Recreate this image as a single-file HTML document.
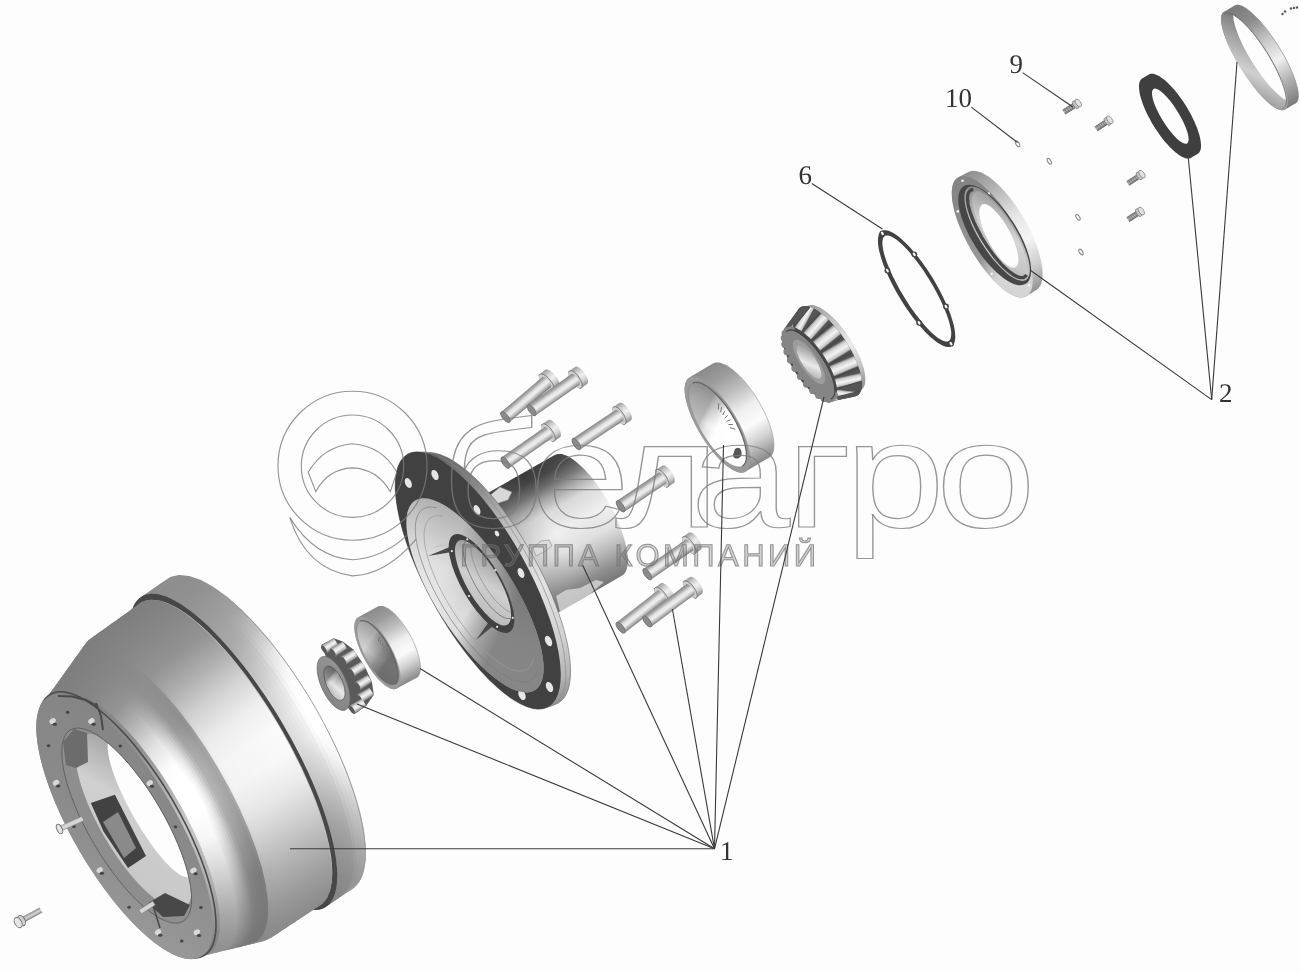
<!DOCTYPE html>
<html lang="ru"><head><meta charset="utf-8"><title>Ступица</title>
<style>html,body{margin:0;padding:0;background:#fdfefd}svg{display:block;will-change:transform}text{text-rendering:geometricPrecision}</style></head>
<body><svg width="1300" height="972" viewBox="0 0 1300 972">
<defs><linearGradient id="dR0" gradientUnits="userSpaceOnUse" x1="145.4" y1="593.9" x2="328.6" y2="905"><stop offset="0.00" stop-color="#8c8c8c"/><stop offset="0.08" stop-color="#929292"/><stop offset="0.17" stop-color="#9e9e9e"/><stop offset="0.25" stop-color="#aaaaaa"/><stop offset="0.33" stop-color="#bfbfbf"/><stop offset="0.42" stop-color="#d5d5d5"/><stop offset="0.50" stop-color="#dedede"/><stop offset="0.58" stop-color="#dbdbdb"/><stop offset="0.67" stop-color="#c8c8c8"/><stop offset="0.75" stop-color="#b1b1b1"/><stop offset="0.83" stop-color="#9d9d9d"/><stop offset="0.92" stop-color="#909090"/><stop offset="1.00" stop-color="#838383"/></linearGradient><linearGradient id="dR1" gradientUnits="userSpaceOnUse" x1="148.3" y1="591.9" x2="331.5" y2="903"><stop offset="0.00" stop-color="#8c8c8c"/><stop offset="0.08" stop-color="#929292"/><stop offset="0.17" stop-color="#9f9f9f"/><stop offset="0.25" stop-color="#acacac"/><stop offset="0.33" stop-color="#c3c3c3"/><stop offset="0.42" stop-color="#dadada"/><stop offset="0.50" stop-color="#e2e2e2"/><stop offset="0.58" stop-color="#dfdfdf"/><stop offset="0.67" stop-color="#cccccc"/><stop offset="0.75" stop-color="#b5b5b5"/><stop offset="0.83" stop-color="#a0a0a0"/><stop offset="0.92" stop-color="#919191"/><stop offset="1.00" stop-color="#848484"/></linearGradient><linearGradient id="dR2" gradientUnits="userSpaceOnUse" x1="151.2" y1="590" x2="334.4" y2="901"><stop offset="0.00" stop-color="#8c8c8c"/><stop offset="0.08" stop-color="#929292"/><stop offset="0.17" stop-color="#9f9f9f"/><stop offset="0.25" stop-color="#aeaeae"/><stop offset="0.33" stop-color="#c6c6c6"/><stop offset="0.42" stop-color="#dedede"/><stop offset="0.50" stop-color="#e6e6e6"/><stop offset="0.58" stop-color="#e4e4e4"/><stop offset="0.67" stop-color="#d0d0d0"/><stop offset="0.75" stop-color="#b8b8b8"/><stop offset="0.83" stop-color="#a3a3a3"/><stop offset="0.92" stop-color="#939393"/><stop offset="1.00" stop-color="#868686"/></linearGradient><linearGradient id="dR3" gradientUnits="userSpaceOnUse" x1="154.1" y1="588" x2="337.3" y2="899"><stop offset="0.00" stop-color="#8c8c8c"/><stop offset="0.08" stop-color="#929292"/><stop offset="0.17" stop-color="#9f9f9f"/><stop offset="0.25" stop-color="#b0b0b0"/><stop offset="0.33" stop-color="#cacaca"/><stop offset="0.42" stop-color="#e2e2e2"/><stop offset="0.50" stop-color="#ebebeb"/><stop offset="0.58" stop-color="#e8e8e8"/><stop offset="0.67" stop-color="#d4d4d4"/><stop offset="0.75" stop-color="#bcbcbc"/><stop offset="0.83" stop-color="#a6a6a6"/><stop offset="0.92" stop-color="#959595"/><stop offset="1.00" stop-color="#878787"/></linearGradient><linearGradient id="dR4" gradientUnits="userSpaceOnUse" x1="156.9" y1="586" x2="340.2" y2="897.1"><stop offset="0.00" stop-color="#8c8c8c"/><stop offset="0.08" stop-color="#929292"/><stop offset="0.17" stop-color="#a0a0a0"/><stop offset="0.25" stop-color="#b3b3b3"/><stop offset="0.33" stop-color="#cfcfcf"/><stop offset="0.42" stop-color="#e8e8e8"/><stop offset="0.50" stop-color="#f1f1f1"/><stop offset="0.58" stop-color="#eeeeee"/><stop offset="0.67" stop-color="#d9d9d9"/><stop offset="0.75" stop-color="#c1c1c1"/><stop offset="0.83" stop-color="#aaaaaa"/><stop offset="0.92" stop-color="#989898"/><stop offset="1.00" stop-color="#898989"/></linearGradient><linearGradient id="dR5" gradientUnits="userSpaceOnUse" x1="159.8" y1="584" x2="343" y2="895.1"><stop offset="0.00" stop-color="#8c8c8c"/><stop offset="0.08" stop-color="#929292"/><stop offset="0.17" stop-color="#a1a1a1"/><stop offset="0.25" stop-color="#b9b9b9"/><stop offset="0.33" stop-color="#dadada"/><stop offset="0.42" stop-color="#f3f3f3"/><stop offset="0.50" stop-color="#fcfcfc"/><stop offset="0.58" stop-color="#f9f9f9"/><stop offset="0.67" stop-color="#e4e4e4"/><stop offset="0.75" stop-color="#cccccc"/><stop offset="0.83" stop-color="#b5b5b5"/><stop offset="0.92" stop-color="#9f9f9f"/><stop offset="1.00" stop-color="#8e8e8e"/></linearGradient><linearGradient id="dR6" gradientUnits="userSpaceOnUse" x1="162.7" y1="582" x2="345.9" y2="893.1"><stop offset="0.00" stop-color="#8c8c8c"/><stop offset="0.08" stop-color="#929292"/><stop offset="0.17" stop-color="#a2a2a2"/><stop offset="0.25" stop-color="#bebebe"/><stop offset="0.33" stop-color="#e2e2e2"/><stop offset="0.42" stop-color="#fbfbfb"/><stop offset="0.50" stop-color="#ffffff"/><stop offset="0.58" stop-color="#ffffff"/><stop offset="0.67" stop-color="#ededed"/><stop offset="0.75" stop-color="#d4d4d4"/><stop offset="0.83" stop-color="#bdbdbd"/><stop offset="0.92" stop-color="#a5a5a5"/><stop offset="1.00" stop-color="#919191"/></linearGradient><linearGradient id="dR7" gradientUnits="userSpaceOnUse" x1="165.6" y1="580.1" x2="348.8" y2="891.1"><stop offset="0.00" stop-color="#8c8c8c"/><stop offset="0.08" stop-color="#929292"/><stop offset="0.17" stop-color="#a2a2a2"/><stop offset="0.25" stop-color="#c1c1c1"/><stop offset="0.33" stop-color="#e7e7e7"/><stop offset="0.42" stop-color="#ffffff"/><stop offset="0.50" stop-color="#ffffff"/><stop offset="0.58" stop-color="#ffffff"/><stop offset="0.67" stop-color="#f2f2f2"/><stop offset="0.75" stop-color="#dadada"/><stop offset="0.83" stop-color="#c2c2c2"/><stop offset="0.92" stop-color="#a8a8a8"/><stop offset="1.00" stop-color="#949494"/></linearGradient><linearGradient id="dR8" gradientUnits="userSpaceOnUse" x1="168.5" y1="578.1" x2="351.7" y2="889.1"><stop offset="0.00" stop-color="#8c8c8c"/><stop offset="0.08" stop-color="#929292"/><stop offset="0.17" stop-color="#a3a3a3"/><stop offset="0.25" stop-color="#c4c4c4"/><stop offset="0.33" stop-color="#ececec"/><stop offset="0.42" stop-color="#ffffff"/><stop offset="0.50" stop-color="#ffffff"/><stop offset="0.58" stop-color="#ffffff"/><stop offset="0.67" stop-color="#f7f7f7"/><stop offset="0.75" stop-color="#dfdfdf"/><stop offset="0.83" stop-color="#c7c7c7"/><stop offset="0.92" stop-color="#acacac"/><stop offset="1.00" stop-color="#969696"/></linearGradient><linearGradient id="dB0" gradientUnits="userSpaceOnUse" x1="54.6" y1="689.3" x2="210.1" y2="953.4"><stop offset="0.00" stop-color="#7e7e7e"/><stop offset="0.08" stop-color="#868686"/><stop offset="0.17" stop-color="#949494"/><stop offset="0.25" stop-color="#b7b7b7"/><stop offset="0.33" stop-color="#dedede"/><stop offset="0.42" stop-color="#fbfbfb"/><stop offset="0.50" stop-color="#ffffff"/><stop offset="0.58" stop-color="#ffffff"/><stop offset="0.67" stop-color="#f4f4f4"/><stop offset="0.75" stop-color="#dddddd"/><stop offset="0.83" stop-color="#c3c3c3"/><stop offset="0.92" stop-color="#a5a5a5"/><stop offset="1.00" stop-color="#8f8f8f"/></linearGradient><linearGradient id="dB1" gradientUnits="userSpaceOnUse" x1="56.2" y1="687.1" x2="212.7" y2="952.7"><stop offset="0.00" stop-color="#7e7e7e"/><stop offset="0.08" stop-color="#868686"/><stop offset="0.17" stop-color="#949494"/><stop offset="0.25" stop-color="#b7b7b7"/><stop offset="0.33" stop-color="#dfdfdf"/><stop offset="0.42" stop-color="#fcfcfc"/><stop offset="0.50" stop-color="#ffffff"/><stop offset="0.58" stop-color="#ffffff"/><stop offset="0.67" stop-color="#f5f5f5"/><stop offset="0.75" stop-color="#dedede"/><stop offset="0.83" stop-color="#c3c3c3"/><stop offset="0.92" stop-color="#a5a5a5"/><stop offset="1.00" stop-color="#8f8f8f"/></linearGradient><linearGradient id="dB2" gradientUnits="userSpaceOnUse" x1="57.8" y1="684.9" x2="215.2" y2="952.1"><stop offset="0.00" stop-color="#7e7e7e"/><stop offset="0.08" stop-color="#868686"/><stop offset="0.17" stop-color="#949494"/><stop offset="0.25" stop-color="#b8b8b8"/><stop offset="0.33" stop-color="#e0e0e0"/><stop offset="0.42" stop-color="#fcfcfc"/><stop offset="0.50" stop-color="#ffffff"/><stop offset="0.58" stop-color="#ffffff"/><stop offset="0.67" stop-color="#f6f6f6"/><stop offset="0.75" stop-color="#dedede"/><stop offset="0.83" stop-color="#c4c4c4"/><stop offset="0.92" stop-color="#a6a6a6"/><stop offset="1.00" stop-color="#909090"/></linearGradient><linearGradient id="dB3" gradientUnits="userSpaceOnUse" x1="59.4" y1="682.7" x2="217.7" y2="951.5"><stop offset="0.00" stop-color="#7e7e7e"/><stop offset="0.08" stop-color="#868686"/><stop offset="0.17" stop-color="#949494"/><stop offset="0.25" stop-color="#b8b8b8"/><stop offset="0.33" stop-color="#e1e1e1"/><stop offset="0.42" stop-color="#fdfdfd"/><stop offset="0.50" stop-color="#ffffff"/><stop offset="0.58" stop-color="#ffffff"/><stop offset="0.67" stop-color="#f7f7f7"/><stop offset="0.75" stop-color="#dfdfdf"/><stop offset="0.83" stop-color="#c5c5c5"/><stop offset="0.92" stop-color="#a6a6a6"/><stop offset="1.00" stop-color="#909090"/></linearGradient><linearGradient id="dB4" gradientUnits="userSpaceOnUse" x1="61" y1="680.5" x2="220.3" y2="950.9"><stop offset="0.00" stop-color="#7e7e7e"/><stop offset="0.08" stop-color="#868686"/><stop offset="0.17" stop-color="#949494"/><stop offset="0.25" stop-color="#b8b8b8"/><stop offset="0.33" stop-color="#e1e1e1"/><stop offset="0.42" stop-color="#fefefe"/><stop offset="0.50" stop-color="#ffffff"/><stop offset="0.58" stop-color="#ffffff"/><stop offset="0.67" stop-color="#f7f7f7"/><stop offset="0.75" stop-color="#e0e0e0"/><stop offset="0.83" stop-color="#c5c5c5"/><stop offset="0.92" stop-color="#a7a7a7"/><stop offset="1.00" stop-color="#909090"/></linearGradient><linearGradient id="dB5" gradientUnits="userSpaceOnUse" x1="62.5" y1="678.2" x2="222.8" y2="950.3"><stop offset="0.00" stop-color="#7e7e7e"/><stop offset="0.08" stop-color="#868686"/><stop offset="0.17" stop-color="#949494"/><stop offset="0.25" stop-color="#b9b9b9"/><stop offset="0.33" stop-color="#e2e2e2"/><stop offset="0.42" stop-color="#ffffff"/><stop offset="0.50" stop-color="#ffffff"/><stop offset="0.58" stop-color="#ffffff"/><stop offset="0.67" stop-color="#f8f8f8"/><stop offset="0.75" stop-color="#e1e1e1"/><stop offset="0.83" stop-color="#c6c6c6"/><stop offset="0.92" stop-color="#a7a7a7"/><stop offset="1.00" stop-color="#919191"/></linearGradient><linearGradient id="dB6" gradientUnits="userSpaceOnUse" x1="64.1" y1="676" x2="225.3" y2="949.7"><stop offset="0.00" stop-color="#7e7e7e"/><stop offset="0.08" stop-color="#868686"/><stop offset="0.17" stop-color="#949494"/><stop offset="0.25" stop-color="#b9b9b9"/><stop offset="0.33" stop-color="#e2e2e2"/><stop offset="0.42" stop-color="#fefefe"/><stop offset="0.50" stop-color="#ffffff"/><stop offset="0.58" stop-color="#ffffff"/><stop offset="0.67" stop-color="#f8f8f8"/><stop offset="0.75" stop-color="#e1e1e1"/><stop offset="0.83" stop-color="#c6c6c6"/><stop offset="0.92" stop-color="#a7a7a7"/><stop offset="1.00" stop-color="#919191"/></linearGradient><linearGradient id="dB7" gradientUnits="userSpaceOnUse" x1="65.7" y1="673.8" x2="227.8" y2="949"><stop offset="0.00" stop-color="#7e7e7e"/><stop offset="0.08" stop-color="#868686"/><stop offset="0.17" stop-color="#939393"/><stop offset="0.25" stop-color="#b4b4b4"/><stop offset="0.33" stop-color="#dadada"/><stop offset="0.42" stop-color="#f6f6f6"/><stop offset="0.50" stop-color="#ffffff"/><stop offset="0.58" stop-color="#ffffff"/><stop offset="0.67" stop-color="#f0f0f0"/><stop offset="0.75" stop-color="#d9d9d9"/><stop offset="0.83" stop-color="#bebebe"/><stop offset="0.92" stop-color="#a2a2a2"/><stop offset="1.00" stop-color="#8d8d8d"/></linearGradient><linearGradient id="dB8" gradientUnits="userSpaceOnUse" x1="67.3" y1="671.6" x2="230.4" y2="948.4"><stop offset="0.00" stop-color="#7e7e7e"/><stop offset="0.08" stop-color="#868686"/><stop offset="0.17" stop-color="#939393"/><stop offset="0.25" stop-color="#b0b0b0"/><stop offset="0.33" stop-color="#d2d2d2"/><stop offset="0.42" stop-color="#eeeeee"/><stop offset="0.50" stop-color="#f8f8f8"/><stop offset="0.58" stop-color="#f7f7f7"/><stop offset="0.67" stop-color="#e8e8e8"/><stop offset="0.75" stop-color="#d1d1d1"/><stop offset="0.83" stop-color="#b7b7b7"/><stop offset="0.92" stop-color="#9c9c9c"/><stop offset="1.00" stop-color="#898989"/></linearGradient><linearGradient id="dB9" gradientUnits="userSpaceOnUse" x1="68.9" y1="669.4" x2="232.9" y2="947.8"><stop offset="0.00" stop-color="#7e7e7e"/><stop offset="0.08" stop-color="#868686"/><stop offset="0.17" stop-color="#929292"/><stop offset="0.25" stop-color="#ababab"/><stop offset="0.33" stop-color="#cacaca"/><stop offset="0.42" stop-color="#e5e5e5"/><stop offset="0.50" stop-color="#eeeeee"/><stop offset="0.58" stop-color="#ededed"/><stop offset="0.67" stop-color="#dedede"/><stop offset="0.75" stop-color="#c7c7c7"/><stop offset="0.83" stop-color="#afafaf"/><stop offset="0.92" stop-color="#979797"/><stop offset="1.00" stop-color="#868686"/></linearGradient><linearGradient id="dB10" gradientUnits="userSpaceOnUse" x1="70.5" y1="667.2" x2="235.4" y2="947.2"><stop offset="0.00" stop-color="#7e7e7e"/><stop offset="0.08" stop-color="#868686"/><stop offset="0.17" stop-color="#919191"/><stop offset="0.25" stop-color="#a5a5a5"/><stop offset="0.33" stop-color="#bebebe"/><stop offset="0.42" stop-color="#d7d7d7"/><stop offset="0.50" stop-color="#e0e0e0"/><stop offset="0.58" stop-color="#dfdfdf"/><stop offset="0.67" stop-color="#d1d1d1"/><stop offset="0.75" stop-color="#bcbcbc"/><stop offset="0.83" stop-color="#a5a5a5"/><stop offset="0.92" stop-color="#919191"/><stop offset="1.00" stop-color="#828282"/></linearGradient><linearGradient id="dB11" gradientUnits="userSpaceOnUse" x1="72.1" y1="665" x2="238" y2="946.6"><stop offset="0.00" stop-color="#7e7e7e"/><stop offset="0.08" stop-color="#868686"/><stop offset="0.17" stop-color="#909090"/><stop offset="0.25" stop-color="#9f9f9f"/><stop offset="0.33" stop-color="#b1b1b1"/><stop offset="0.42" stop-color="#c7c7c7"/><stop offset="0.50" stop-color="#cfcfcf"/><stop offset="0.58" stop-color="#cfcfcf"/><stop offset="0.67" stop-color="#c2c2c2"/><stop offset="0.75" stop-color="#aeaeae"/><stop offset="0.83" stop-color="#999999"/><stop offset="0.92" stop-color="#8b8b8b"/><stop offset="1.00" stop-color="#7e7e7e"/></linearGradient><linearGradient id="dB12" gradientUnits="userSpaceOnUse" x1="73.7" y1="662.7" x2="240.5" y2="946"><stop offset="0.00" stop-color="#7e7e7e"/><stop offset="0.08" stop-color="#868686"/><stop offset="0.17" stop-color="#8f8f8f"/><stop offset="0.25" stop-color="#989898"/><stop offset="0.33" stop-color="#a3a3a3"/><stop offset="0.42" stop-color="#b7b7b7"/><stop offset="0.50" stop-color="#bfbfbf"/><stop offset="0.58" stop-color="#bebebe"/><stop offset="0.67" stop-color="#b2b2b2"/><stop offset="0.75" stop-color="#a0a0a0"/><stop offset="0.83" stop-color="#8d8d8d"/><stop offset="0.92" stop-color="#848484"/><stop offset="1.00" stop-color="#7a7a7a"/></linearGradient><linearGradient id="dB13" gradientUnits="userSpaceOnUse" x1="75.3" y1="660.5" x2="243" y2="945.4"><stop offset="0.00" stop-color="#7e7e7e"/><stop offset="0.08" stop-color="#868686"/><stop offset="0.17" stop-color="#8e8e8e"/><stop offset="0.25" stop-color="#939393"/><stop offset="0.33" stop-color="#999999"/><stop offset="0.42" stop-color="#ababab"/><stop offset="0.50" stop-color="#b2b2b2"/><stop offset="0.58" stop-color="#b2b2b2"/><stop offset="0.67" stop-color="#a7a7a7"/><stop offset="0.75" stop-color="#959595"/><stop offset="0.83" stop-color="#858585"/><stop offset="0.92" stop-color="#7f7f7f"/><stop offset="1.00" stop-color="#777777"/></linearGradient><linearGradient id="dB14" gradientUnits="userSpaceOnUse" x1="76.8" y1="658.3" x2="245.6" y2="944.7"><stop offset="0.00" stop-color="#7e7e7e"/><stop offset="0.08" stop-color="#868686"/><stop offset="0.17" stop-color="#8e8e8e"/><stop offset="0.25" stop-color="#929292"/><stop offset="0.33" stop-color="#969696"/><stop offset="0.42" stop-color="#a8a8a8"/><stop offset="0.50" stop-color="#afafaf"/><stop offset="0.58" stop-color="#afafaf"/><stop offset="0.67" stop-color="#a4a4a4"/><stop offset="0.75" stop-color="#939393"/><stop offset="0.83" stop-color="#828282"/><stop offset="0.92" stop-color="#7d7d7d"/><stop offset="1.00" stop-color="#767676"/></linearGradient><linearGradient id="dB15" gradientUnits="userSpaceOnUse" x1="78.4" y1="656.1" x2="248.1" y2="944.1"><stop offset="0.00" stop-color="#7e7e7e"/><stop offset="0.08" stop-color="#868686"/><stop offset="0.17" stop-color="#8e8e8e"/><stop offset="0.25" stop-color="#919191"/><stop offset="0.33" stop-color="#949494"/><stop offset="0.42" stop-color="#a5a5a5"/><stop offset="0.50" stop-color="#acacac"/><stop offset="0.58" stop-color="#ababab"/><stop offset="0.67" stop-color="#a0a0a0"/><stop offset="0.75" stop-color="#909090"/><stop offset="0.83" stop-color="#808080"/><stop offset="0.92" stop-color="#7c7c7c"/><stop offset="1.00" stop-color="#757575"/></linearGradient><linearGradient id="dB16" gradientUnits="userSpaceOnUse" x1="80" y1="653.9" x2="250.6" y2="943.5"><stop offset="0.00" stop-color="#7e7e7e"/><stop offset="0.08" stop-color="#868686"/><stop offset="0.17" stop-color="#8e8e8e"/><stop offset="0.25" stop-color="#8f8f8f"/><stop offset="0.33" stop-color="#919191"/><stop offset="0.42" stop-color="#a2a2a2"/><stop offset="0.50" stop-color="#a9a9a9"/><stop offset="0.58" stop-color="#a8a8a8"/><stop offset="0.67" stop-color="#9d9d9d"/><stop offset="0.75" stop-color="#8d8d8d"/><stop offset="0.83" stop-color="#7e7e7e"/><stop offset="0.92" stop-color="#7b7b7b"/><stop offset="1.00" stop-color="#757575"/></linearGradient><linearGradient id="dB17" gradientUnits="userSpaceOnUse" x1="81.6" y1="651.7" x2="253.2" y2="942.9"><stop offset="0.00" stop-color="#7e7e7e"/><stop offset="0.08" stop-color="#868686"/><stop offset="0.17" stop-color="#8e8e8e"/><stop offset="0.25" stop-color="#8e8e8e"/><stop offset="0.33" stop-color="#8e8e8e"/><stop offset="0.42" stop-color="#9f9f9f"/><stop offset="0.50" stop-color="#a5a5a5"/><stop offset="0.58" stop-color="#a5a5a5"/><stop offset="0.67" stop-color="#9a9a9a"/><stop offset="0.75" stop-color="#8a8a8a"/><stop offset="0.83" stop-color="#7b7b7b"/><stop offset="0.92" stop-color="#797979"/><stop offset="1.00" stop-color="#747474"/></linearGradient><linearGradient id="dB18" gradientUnits="userSpaceOnUse" x1="83.2" y1="649.5" x2="255.7" y2="942.3"><stop offset="0.00" stop-color="#7e7e7e"/><stop offset="0.08" stop-color="#868686"/><stop offset="0.17" stop-color="#8e8e8e"/><stop offset="0.25" stop-color="#909090"/><stop offset="0.33" stop-color="#929292"/><stop offset="0.42" stop-color="#a3a3a3"/><stop offset="0.50" stop-color="#aaaaaa"/><stop offset="0.58" stop-color="#a9a9a9"/><stop offset="0.67" stop-color="#9e9e9e"/><stop offset="0.75" stop-color="#8e8e8e"/><stop offset="0.83" stop-color="#7e7e7e"/><stop offset="0.92" stop-color="#7b7b7b"/><stop offset="1.00" stop-color="#757575"/></linearGradient><linearGradient id="dB19" gradientUnits="userSpaceOnUse" x1="84.8" y1="647.2" x2="258.2" y2="941.7"><stop offset="0.00" stop-color="#7e7e7e"/><stop offset="0.08" stop-color="#868686"/><stop offset="0.17" stop-color="#929292"/><stop offset="0.25" stop-color="#acacac"/><stop offset="0.33" stop-color="#cccccc"/><stop offset="0.42" stop-color="#e8e8e8"/><stop offset="0.50" stop-color="#f1f1f1"/><stop offset="0.58" stop-color="#f1f1f1"/><stop offset="0.67" stop-color="#e1e1e1"/><stop offset="0.75" stop-color="#cacaca"/><stop offset="0.83" stop-color="#b1b1b1"/><stop offset="0.92" stop-color="#999999"/><stop offset="1.00" stop-color="#878787"/></linearGradient><linearGradient id="dB20" gradientUnits="userSpaceOnUse" x1="86.4" y1="645" x2="260.7" y2="941"><stop offset="0.00" stop-color="#7e7e7e"/><stop offset="0.08" stop-color="#868686"/><stop offset="0.17" stop-color="#929292"/><stop offset="0.25" stop-color="#aeaeae"/><stop offset="0.33" stop-color="#cfcfcf"/><stop offset="0.42" stop-color="#ebebeb"/><stop offset="0.50" stop-color="#f4f4f4"/><stop offset="0.58" stop-color="#f4f4f4"/><stop offset="0.67" stop-color="#e4e4e4"/><stop offset="0.75" stop-color="#cdcdcd"/><stop offset="0.83" stop-color="#b3b3b3"/><stop offset="0.92" stop-color="#9a9a9a"/><stop offset="1.00" stop-color="#888888"/></linearGradient><linearGradient id="dB21" gradientUnits="userSpaceOnUse" x1="88" y1="642.8" x2="263.3" y2="940.4"><stop offset="0.00" stop-color="#7e7e7e"/><stop offset="0.08" stop-color="#868686"/><stop offset="0.17" stop-color="#929292"/><stop offset="0.25" stop-color="#aeaeae"/><stop offset="0.33" stop-color="#cfcfcf"/><stop offset="0.42" stop-color="#ebebeb"/><stop offset="0.50" stop-color="#f5f5f5"/><stop offset="0.58" stop-color="#f4f4f4"/><stop offset="0.67" stop-color="#e4e4e4"/><stop offset="0.75" stop-color="#cdcdcd"/><stop offset="0.83" stop-color="#b3b3b3"/><stop offset="0.92" stop-color="#9a9a9a"/><stop offset="1.00" stop-color="#888888"/></linearGradient><linearGradient id="dB22" gradientUnits="userSpaceOnUse" x1="89.6" y1="640.6" x2="265.8" y2="939.8"><stop offset="0.00" stop-color="#7e7e7e"/><stop offset="0.08" stop-color="#868686"/><stop offset="0.17" stop-color="#929292"/><stop offset="0.25" stop-color="#aeaeae"/><stop offset="0.33" stop-color="#cfcfcf"/><stop offset="0.42" stop-color="#ebebeb"/><stop offset="0.50" stop-color="#f5f5f5"/><stop offset="0.58" stop-color="#f4f4f4"/><stop offset="0.67" stop-color="#e5e5e5"/><stop offset="0.75" stop-color="#cdcdcd"/><stop offset="0.83" stop-color="#b3b3b3"/><stop offset="0.92" stop-color="#9a9a9a"/><stop offset="1.00" stop-color="#888888"/></linearGradient><linearGradient id="dB23" gradientUnits="userSpaceOnUse" x1="91.1" y1="638.4" x2="268.3" y2="939.2"><stop offset="0.00" stop-color="#7e7e7e"/><stop offset="0.08" stop-color="#868686"/><stop offset="0.17" stop-color="#929292"/><stop offset="0.25" stop-color="#aeaeae"/><stop offset="0.33" stop-color="#cfcfcf"/><stop offset="0.42" stop-color="#ebebeb"/><stop offset="0.50" stop-color="#f5f5f5"/><stop offset="0.58" stop-color="#f4f4f4"/><stop offset="0.67" stop-color="#e5e5e5"/><stop offset="0.75" stop-color="#cdcdcd"/><stop offset="0.83" stop-color="#b4b4b4"/><stop offset="0.92" stop-color="#9a9a9a"/><stop offset="1.00" stop-color="#888888"/></linearGradient><linearGradient id="dB24" gradientUnits="userSpaceOnUse" x1="93" y1="636.6" x2="270.6" y2="938.2"><stop offset="0.00" stop-color="#7e7e7e"/><stop offset="0.08" stop-color="#868686"/><stop offset="0.17" stop-color="#929292"/><stop offset="0.25" stop-color="#aeaeae"/><stop offset="0.33" stop-color="#d0d0d0"/><stop offset="0.42" stop-color="#ebebeb"/><stop offset="0.50" stop-color="#f5f5f5"/><stop offset="0.58" stop-color="#f4f4f4"/><stop offset="0.67" stop-color="#e5e5e5"/><stop offset="0.75" stop-color="#cecece"/><stop offset="0.83" stop-color="#b4b4b4"/><stop offset="0.92" stop-color="#9b9b9b"/><stop offset="1.00" stop-color="#888888"/></linearGradient><linearGradient id="dB25" gradientUnits="userSpaceOnUse" x1="95" y1="635.1" x2="272.7" y2="936.8"><stop offset="0.00" stop-color="#7e7e7e"/><stop offset="0.08" stop-color="#868686"/><stop offset="0.17" stop-color="#929292"/><stop offset="0.25" stop-color="#aeaeae"/><stop offset="0.33" stop-color="#d0d0d0"/><stop offset="0.42" stop-color="#ececec"/><stop offset="0.50" stop-color="#f5f5f5"/><stop offset="0.58" stop-color="#f5f5f5"/><stop offset="0.67" stop-color="#e5e5e5"/><stop offset="0.75" stop-color="#cecece"/><stop offset="0.83" stop-color="#b4b4b4"/><stop offset="0.92" stop-color="#9b9b9b"/><stop offset="1.00" stop-color="#888888"/></linearGradient><linearGradient id="dB26" gradientUnits="userSpaceOnUse" x1="97.1" y1="633.7" x2="274.8" y2="935.4"><stop offset="0.00" stop-color="#7e7e7e"/><stop offset="0.08" stop-color="#868686"/><stop offset="0.17" stop-color="#929292"/><stop offset="0.25" stop-color="#aeaeae"/><stop offset="0.33" stop-color="#d0d0d0"/><stop offset="0.42" stop-color="#ececec"/><stop offset="0.50" stop-color="#f6f6f6"/><stop offset="0.58" stop-color="#f5f5f5"/><stop offset="0.67" stop-color="#e5e5e5"/><stop offset="0.75" stop-color="#cecece"/><stop offset="0.83" stop-color="#b4b4b4"/><stop offset="0.92" stop-color="#9b9b9b"/><stop offset="1.00" stop-color="#888888"/></linearGradient><linearGradient id="dB27" gradientUnits="userSpaceOnUse" x1="99.1" y1="632.2" x2="276.9" y2="934"><stop offset="0.00" stop-color="#7e7e7e"/><stop offset="0.08" stop-color="#868686"/><stop offset="0.17" stop-color="#929292"/><stop offset="0.25" stop-color="#aeaeae"/><stop offset="0.33" stop-color="#d0d0d0"/><stop offset="0.42" stop-color="#ececec"/><stop offset="0.50" stop-color="#f6f6f6"/><stop offset="0.58" stop-color="#f5f5f5"/><stop offset="0.67" stop-color="#e6e6e6"/><stop offset="0.75" stop-color="#cecece"/><stop offset="0.83" stop-color="#b4b4b4"/><stop offset="0.92" stop-color="#9b9b9b"/><stop offset="1.00" stop-color="#888888"/></linearGradient><linearGradient id="dB28" gradientUnits="userSpaceOnUse" x1="101.1" y1="630.8" x2="279" y2="932.7"><stop offset="0.00" stop-color="#7e7e7e"/><stop offset="0.08" stop-color="#868686"/><stop offset="0.17" stop-color="#929292"/><stop offset="0.25" stop-color="#afafaf"/><stop offset="0.33" stop-color="#d0d0d0"/><stop offset="0.42" stop-color="#ececec"/><stop offset="0.50" stop-color="#f6f6f6"/><stop offset="0.58" stop-color="#f5f5f5"/><stop offset="0.67" stop-color="#e6e6e6"/><stop offset="0.75" stop-color="#cecece"/><stop offset="0.83" stop-color="#b5b5b5"/><stop offset="0.92" stop-color="#9b9b9b"/><stop offset="1.00" stop-color="#888888"/></linearGradient><linearGradient id="dB29" gradientUnits="userSpaceOnUse" x1="103.2" y1="629.3" x2="281" y2="931.3"><stop offset="0.00" stop-color="#7e7e7e"/><stop offset="0.08" stop-color="#868686"/><stop offset="0.17" stop-color="#929292"/><stop offset="0.25" stop-color="#afafaf"/><stop offset="0.33" stop-color="#d1d1d1"/><stop offset="0.42" stop-color="#ececec"/><stop offset="0.50" stop-color="#f6f6f6"/><stop offset="0.58" stop-color="#f5f5f5"/><stop offset="0.67" stop-color="#e6e6e6"/><stop offset="0.75" stop-color="#cfcfcf"/><stop offset="0.83" stop-color="#b5b5b5"/><stop offset="0.92" stop-color="#9b9b9b"/><stop offset="1.00" stop-color="#888888"/></linearGradient><linearGradient id="dB30" gradientUnits="userSpaceOnUse" x1="105.2" y1="627.9" x2="283.1" y2="929.9"><stop offset="0.00" stop-color="#7e7e7e"/><stop offset="0.08" stop-color="#868686"/><stop offset="0.17" stop-color="#929292"/><stop offset="0.25" stop-color="#afafaf"/><stop offset="0.33" stop-color="#d1d1d1"/><stop offset="0.42" stop-color="#ededed"/><stop offset="0.50" stop-color="#f6f6f6"/><stop offset="0.58" stop-color="#f6f6f6"/><stop offset="0.67" stop-color="#e6e6e6"/><stop offset="0.75" stop-color="#cfcfcf"/><stop offset="0.83" stop-color="#b5b5b5"/><stop offset="0.92" stop-color="#9b9b9b"/><stop offset="1.00" stop-color="#898989"/></linearGradient><linearGradient id="dB31" gradientUnits="userSpaceOnUse" x1="107.2" y1="626.4" x2="285.2" y2="928.5"><stop offset="0.00" stop-color="#7e7e7e"/><stop offset="0.08" stop-color="#868686"/><stop offset="0.17" stop-color="#929292"/><stop offset="0.25" stop-color="#afafaf"/><stop offset="0.33" stop-color="#d1d1d1"/><stop offset="0.42" stop-color="#ededed"/><stop offset="0.50" stop-color="#f7f7f7"/><stop offset="0.58" stop-color="#f6f6f6"/><stop offset="0.67" stop-color="#e6e6e6"/><stop offset="0.75" stop-color="#cfcfcf"/><stop offset="0.83" stop-color="#b5b5b5"/><stop offset="0.92" stop-color="#9b9b9b"/><stop offset="1.00" stop-color="#898989"/></linearGradient><linearGradient id="dB32" gradientUnits="userSpaceOnUse" x1="109.3" y1="625" x2="287.3" y2="927.1"><stop offset="0.00" stop-color="#7e7e7e"/><stop offset="0.08" stop-color="#868686"/><stop offset="0.17" stop-color="#929292"/><stop offset="0.25" stop-color="#afafaf"/><stop offset="0.33" stop-color="#d1d1d1"/><stop offset="0.42" stop-color="#ededed"/><stop offset="0.50" stop-color="#f7f7f7"/><stop offset="0.58" stop-color="#f6f6f6"/><stop offset="0.67" stop-color="#e7e7e7"/><stop offset="0.75" stop-color="#cfcfcf"/><stop offset="0.83" stop-color="#b5b5b5"/><stop offset="0.92" stop-color="#9c9c9c"/><stop offset="1.00" stop-color="#898989"/></linearGradient><linearGradient id="dB33" gradientUnits="userSpaceOnUse" x1="111.3" y1="623.5" x2="289.4" y2="925.8"><stop offset="0.00" stop-color="#7e7e7e"/><stop offset="0.08" stop-color="#868686"/><stop offset="0.17" stop-color="#929292"/><stop offset="0.25" stop-color="#afafaf"/><stop offset="0.33" stop-color="#d1d1d1"/><stop offset="0.42" stop-color="#ededed"/><stop offset="0.50" stop-color="#f7f7f7"/><stop offset="0.58" stop-color="#f6f6f6"/><stop offset="0.67" stop-color="#e7e7e7"/><stop offset="0.75" stop-color="#cfcfcf"/><stop offset="0.83" stop-color="#b6b6b6"/><stop offset="0.92" stop-color="#9c9c9c"/><stop offset="1.00" stop-color="#898989"/></linearGradient><linearGradient id="dB34" gradientUnits="userSpaceOnUse" x1="113.4" y1="622.1" x2="291.4" y2="924.4"><stop offset="0.00" stop-color="#7e7e7e"/><stop offset="0.08" stop-color="#868686"/><stop offset="0.17" stop-color="#929292"/><stop offset="0.25" stop-color="#afafaf"/><stop offset="0.33" stop-color="#d2d2d2"/><stop offset="0.42" stop-color="#eeeeee"/><stop offset="0.50" stop-color="#f7f7f7"/><stop offset="0.58" stop-color="#f6f6f6"/><stop offset="0.67" stop-color="#e7e7e7"/><stop offset="0.75" stop-color="#d0d0d0"/><stop offset="0.83" stop-color="#b6b6b6"/><stop offset="0.92" stop-color="#9c9c9c"/><stop offset="1.00" stop-color="#898989"/></linearGradient><linearGradient id="dB35" gradientUnits="userSpaceOnUse" x1="115.4" y1="620.6" x2="293.5" y2="923"><stop offset="0.00" stop-color="#7e7e7e"/><stop offset="0.08" stop-color="#868686"/><stop offset="0.17" stop-color="#929292"/><stop offset="0.25" stop-color="#afafaf"/><stop offset="0.33" stop-color="#d2d2d2"/><stop offset="0.42" stop-color="#eeeeee"/><stop offset="0.50" stop-color="#f7f7f7"/><stop offset="0.58" stop-color="#f7f7f7"/><stop offset="0.67" stop-color="#e7e7e7"/><stop offset="0.75" stop-color="#d0d0d0"/><stop offset="0.83" stop-color="#b6b6b6"/><stop offset="0.92" stop-color="#9c9c9c"/><stop offset="1.00" stop-color="#898989"/></linearGradient><linearGradient id="dB36" gradientUnits="userSpaceOnUse" x1="117.4" y1="619.2" x2="295.6" y2="921.6"><stop offset="0.00" stop-color="#7e7e7e"/><stop offset="0.08" stop-color="#868686"/><stop offset="0.17" stop-color="#939393"/><stop offset="0.25" stop-color="#b0b0b0"/><stop offset="0.33" stop-color="#d2d2d2"/><stop offset="0.42" stop-color="#eeeeee"/><stop offset="0.50" stop-color="#f8f8f8"/><stop offset="0.58" stop-color="#f7f7f7"/><stop offset="0.67" stop-color="#e8e8e8"/><stop offset="0.75" stop-color="#d0d0d0"/><stop offset="0.83" stop-color="#b6b6b6"/><stop offset="0.92" stop-color="#9c9c9c"/><stop offset="1.00" stop-color="#898989"/></linearGradient><linearGradient id="dB37" gradientUnits="userSpaceOnUse" x1="119.5" y1="617.7" x2="297.7" y2="920.3"><stop offset="0.00" stop-color="#7e7e7e"/><stop offset="0.08" stop-color="#868686"/><stop offset="0.17" stop-color="#939393"/><stop offset="0.25" stop-color="#b0b0b0"/><stop offset="0.33" stop-color="#d2d2d2"/><stop offset="0.42" stop-color="#eeeeee"/><stop offset="0.50" stop-color="#f8f8f8"/><stop offset="0.58" stop-color="#f7f7f7"/><stop offset="0.67" stop-color="#e8e8e8"/><stop offset="0.75" stop-color="#d0d0d0"/><stop offset="0.83" stop-color="#b6b6b6"/><stop offset="0.92" stop-color="#9c9c9c"/><stop offset="1.00" stop-color="#898989"/></linearGradient><linearGradient id="dB38" gradientUnits="userSpaceOnUse" x1="121.5" y1="616.3" x2="299.8" y2="918.9"><stop offset="0.00" stop-color="#7e7e7e"/><stop offset="0.08" stop-color="#868686"/><stop offset="0.17" stop-color="#939393"/><stop offset="0.25" stop-color="#b0b0b0"/><stop offset="0.33" stop-color="#d2d2d2"/><stop offset="0.42" stop-color="#eeeeee"/><stop offset="0.50" stop-color="#f8f8f8"/><stop offset="0.58" stop-color="#f7f7f7"/><stop offset="0.67" stop-color="#e8e8e8"/><stop offset="0.75" stop-color="#d0d0d0"/><stop offset="0.83" stop-color="#b7b7b7"/><stop offset="0.92" stop-color="#9c9c9c"/><stop offset="1.00" stop-color="#898989"/></linearGradient><linearGradient id="dB39" gradientUnits="userSpaceOnUse" x1="123.6" y1="614.8" x2="301.9" y2="917.5"><stop offset="0.00" stop-color="#7e7e7e"/><stop offset="0.08" stop-color="#868686"/><stop offset="0.17" stop-color="#939393"/><stop offset="0.25" stop-color="#b0b0b0"/><stop offset="0.33" stop-color="#d3d3d3"/><stop offset="0.42" stop-color="#efefef"/><stop offset="0.50" stop-color="#f8f8f8"/><stop offset="0.58" stop-color="#f8f8f8"/><stop offset="0.67" stop-color="#e8e8e8"/><stop offset="0.75" stop-color="#d1d1d1"/><stop offset="0.83" stop-color="#b7b7b7"/><stop offset="0.92" stop-color="#9d9d9d"/><stop offset="1.00" stop-color="#898989"/></linearGradient><linearGradient id="dB40" gradientUnits="userSpaceOnUse" x1="125.6" y1="613.4" x2="303.9" y2="916.1"><stop offset="0.00" stop-color="#7e7e7e"/><stop offset="0.08" stop-color="#868686"/><stop offset="0.17" stop-color="#939393"/><stop offset="0.25" stop-color="#b0b0b0"/><stop offset="0.33" stop-color="#d3d3d3"/><stop offset="0.42" stop-color="#efefef"/><stop offset="0.50" stop-color="#f9f9f9"/><stop offset="0.58" stop-color="#f8f8f8"/><stop offset="0.67" stop-color="#e8e8e8"/><stop offset="0.75" stop-color="#d1d1d1"/><stop offset="0.83" stop-color="#b7b7b7"/><stop offset="0.92" stop-color="#9d9d9d"/><stop offset="1.00" stop-color="#898989"/></linearGradient><linearGradient id="dB41" gradientUnits="userSpaceOnUse" x1="127.6" y1="611.9" x2="306" y2="914.7"><stop offset="0.00" stop-color="#7e7e7e"/><stop offset="0.08" stop-color="#868686"/><stop offset="0.17" stop-color="#939393"/><stop offset="0.25" stop-color="#b0b0b0"/><stop offset="0.33" stop-color="#d3d3d3"/><stop offset="0.42" stop-color="#efefef"/><stop offset="0.50" stop-color="#f9f9f9"/><stop offset="0.58" stop-color="#f8f8f8"/><stop offset="0.67" stop-color="#e9e9e9"/><stop offset="0.75" stop-color="#d1d1d1"/><stop offset="0.83" stop-color="#b7b7b7"/><stop offset="0.92" stop-color="#9d9d9d"/><stop offset="1.00" stop-color="#8a8a8a"/></linearGradient><linearGradient id="dB42" gradientUnits="userSpaceOnUse" x1="129.7" y1="610.5" x2="308.1" y2="913.4"><stop offset="0.00" stop-color="#7e7e7e"/><stop offset="0.08" stop-color="#868686"/><stop offset="0.17" stop-color="#939393"/><stop offset="0.25" stop-color="#b0b0b0"/><stop offset="0.33" stop-color="#d3d3d3"/><stop offset="0.42" stop-color="#efefef"/><stop offset="0.50" stop-color="#f9f9f9"/><stop offset="0.58" stop-color="#f8f8f8"/><stop offset="0.67" stop-color="#e9e9e9"/><stop offset="0.75" stop-color="#d1d1d1"/><stop offset="0.83" stop-color="#b7b7b7"/><stop offset="0.92" stop-color="#9d9d9d"/><stop offset="1.00" stop-color="#8a8a8a"/></linearGradient><linearGradient id="dB43" gradientUnits="userSpaceOnUse" x1="131.7" y1="609" x2="310.2" y2="912"><stop offset="0.00" stop-color="#7e7e7e"/><stop offset="0.08" stop-color="#868686"/><stop offset="0.17" stop-color="#939393"/><stop offset="0.25" stop-color="#b0b0b0"/><stop offset="0.33" stop-color="#d3d3d3"/><stop offset="0.42" stop-color="#efefef"/><stop offset="0.50" stop-color="#f9f9f9"/><stop offset="0.58" stop-color="#f8f8f8"/><stop offset="0.67" stop-color="#e9e9e9"/><stop offset="0.75" stop-color="#d2d2d2"/><stop offset="0.83" stop-color="#b8b8b8"/><stop offset="0.92" stop-color="#9d9d9d"/><stop offset="1.00" stop-color="#8a8a8a"/></linearGradient><linearGradient id="dB44" gradientUnits="userSpaceOnUse" x1="133.8" y1="607.6" x2="312.3" y2="910.6"><stop offset="0.00" stop-color="#7e7e7e"/><stop offset="0.08" stop-color="#868686"/><stop offset="0.17" stop-color="#939393"/><stop offset="0.25" stop-color="#b0b0b0"/><stop offset="0.33" stop-color="#d4d4d4"/><stop offset="0.42" stop-color="#f0f0f0"/><stop offset="0.50" stop-color="#f9f9f9"/><stop offset="0.58" stop-color="#f9f9f9"/><stop offset="0.67" stop-color="#e9e9e9"/><stop offset="0.75" stop-color="#d2d2d2"/><stop offset="0.83" stop-color="#b8b8b8"/><stop offset="0.92" stop-color="#9d9d9d"/><stop offset="1.00" stop-color="#8a8a8a"/></linearGradient><linearGradient id="dB45" gradientUnits="userSpaceOnUse" x1="135.8" y1="606.1" x2="314.3" y2="909.2"><stop offset="0.00" stop-color="#7e7e7e"/><stop offset="0.08" stop-color="#868686"/><stop offset="0.17" stop-color="#939393"/><stop offset="0.25" stop-color="#b1b1b1"/><stop offset="0.33" stop-color="#d4d4d4"/><stop offset="0.42" stop-color="#f0f0f0"/><stop offset="0.50" stop-color="#fafafa"/><stop offset="0.58" stop-color="#f9f9f9"/><stop offset="0.67" stop-color="#e9e9e9"/><stop offset="0.75" stop-color="#d2d2d2"/><stop offset="0.83" stop-color="#b8b8b8"/><stop offset="0.92" stop-color="#9d9d9d"/><stop offset="1.00" stop-color="#8a8a8a"/></linearGradient><linearGradient id="dB46" gradientUnits="userSpaceOnUse" x1="137.8" y1="604.7" x2="316.4" y2="907.8"><stop offset="0.00" stop-color="#7e7e7e"/><stop offset="0.08" stop-color="#868686"/><stop offset="0.17" stop-color="#939393"/><stop offset="0.25" stop-color="#b1b1b1"/><stop offset="0.33" stop-color="#d4d4d4"/><stop offset="0.42" stop-color="#f0f0f0"/><stop offset="0.50" stop-color="#fafafa"/><stop offset="0.58" stop-color="#f9f9f9"/><stop offset="0.67" stop-color="#eaeaea"/><stop offset="0.75" stop-color="#d2d2d2"/><stop offset="0.83" stop-color="#b8b8b8"/><stop offset="0.92" stop-color="#9e9e9e"/><stop offset="1.00" stop-color="#8a8a8a"/></linearGradient><linearGradient id="dB47" gradientUnits="userSpaceOnUse" x1="139.9" y1="603.2" x2="318.5" y2="906.5"><stop offset="0.00" stop-color="#7e7e7e"/><stop offset="0.08" stop-color="#868686"/><stop offset="0.17" stop-color="#939393"/><stop offset="0.25" stop-color="#b1b1b1"/><stop offset="0.33" stop-color="#d4d4d4"/><stop offset="0.42" stop-color="#f0f0f0"/><stop offset="0.50" stop-color="#fafafa"/><stop offset="0.58" stop-color="#f9f9f9"/><stop offset="0.67" stop-color="#eaeaea"/><stop offset="0.75" stop-color="#d2d2d2"/><stop offset="0.83" stop-color="#b8b8b8"/><stop offset="0.92" stop-color="#9e9e9e"/><stop offset="1.00" stop-color="#8a8a8a"/></linearGradient><linearGradient id="dB48" gradientUnits="userSpaceOnUse" x1="141.5" y1="602.1" x2="320.2" y2="905.3"><stop offset="0.00" stop-color="#7e7e7e"/><stop offset="0.08" stop-color="#868686"/><stop offset="0.17" stop-color="#939393"/><stop offset="0.25" stop-color="#b1b1b1"/><stop offset="0.33" stop-color="#d4d4d4"/><stop offset="0.42" stop-color="#f0f0f0"/><stop offset="0.50" stop-color="#fafafa"/><stop offset="0.58" stop-color="#f9f9f9"/><stop offset="0.67" stop-color="#eaeaea"/><stop offset="0.75" stop-color="#d3d3d3"/><stop offset="0.83" stop-color="#b9b9b9"/><stop offset="0.92" stop-color="#9e9e9e"/><stop offset="1.00" stop-color="#8a8a8a"/></linearGradient><linearGradient id="dEdge" gradientUnits="userSpaceOnUse" x1="48.2" y1="696.7" x2="201.2" y2="956.5"><stop offset="0" stop-color="#808080"/><stop offset="0.3" stop-color="#909090"/><stop offset="0.6" stop-color="#c8c8c8"/><stop offset="0.8" stop-color="#b0b0b0"/><stop offset="1" stop-color="#808080"/></linearGradient><linearGradient id="dFace" gradientUnits="userSpaceOnUse" x1="48.2" y1="696.7" x2="201.2" y2="956.5"><stop offset="0" stop-color="#828282"/><stop offset="0.5" stop-color="#8a8a8a"/><stop offset="0.8" stop-color="#989898"/><stop offset="1" stop-color="#8a8a8a"/></linearGradient><linearGradient id="dWall" gradientUnits="userSpaceOnUse" x1="70.4" y1="730" x2="183" y2="921.2"><stop offset="0" stop-color="#888888"/><stop offset="0.15" stop-color="#9c9c9c"/><stop offset="0.4" stop-color="#d0d0d0"/><stop offset="0.7" stop-color="#c8c8c8"/><stop offset="0.9" stop-color="#a0a0a0"/><stop offset="1" stop-color="#8c8c8c"/></linearGradient><linearGradient id="lb" gradientUnits="userSpaceOnUse" x1="20.4" y1="924.6" x2="17.6" y2="919.4"><stop offset="0" stop-color="#777"/><stop offset="0.5" stop-color="#d8d8d8"/><stop offset="1" stop-color="#8a8a8a"/></linearGradient><linearGradient id="sco" gradientUnits="userSpaceOnUse" x1="377.9" y1="606.6" x2="416.6" y2="677.8"><stop offset="0" stop-color="#8a8a8a"/><stop offset="0.15" stop-color="#9c9c9c"/><stop offset="0.32" stop-color="#c0c0c0"/><stop offset="0.5" stop-color="#efefef"/><stop offset="0.66" stop-color="#fbfbfb"/><stop offset="0.8" stop-color="#d4d4d4"/><stop offset="0.92" stop-color="#a6a6a6"/><stop offset="1" stop-color="#888"/></linearGradient><linearGradient id="sci" gradientUnits="userSpaceOnUse" x1="360.3" y1="621.3" x2="394.7" y2="684.5"><stop offset="0" stop-color="#6e6e6e"/><stop offset="0.15" stop-color="#8a8a8a"/><stop offset="0.35" stop-color="#c4c4c4"/><stop offset="0.55" stop-color="#ededed"/><stop offset="0.75" stop-color="#d0d0d0"/><stop offset="0.9" stop-color="#a0a0a0"/><stop offset="1" stop-color="#7c7c7c"/></linearGradient><linearGradient id="sci2" gradientUnits="userSpaceOnUse" x1="360.3" y1="621.3" x2="394.7" y2="684.5"><stop offset="0" stop-color="#5e5e5e"/><stop offset="0.15" stop-color="#707070"/><stop offset="0.35" stop-color="#9a9a9a"/><stop offset="0.55" stop-color="#c4c4c4"/><stop offset="0.75" stop-color="#a8a8a8"/><stop offset="0.9" stop-color="#868686"/><stop offset="1" stop-color="#6c6c6c"/></linearGradient><linearGradient id="scx" gradientUnits="userSpaceOnUse" x1="366.1" y1="659.1" x2="388.9" y2="646.7"><stop offset="0" stop-color="#ffffff" stop-opacity="0.25"/><stop offset="0.3" stop-color="#808080" stop-opacity="0.15"/><stop offset="0.6" stop-color="#6a6a6a" stop-opacity="0.5"/><stop offset="1" stop-color="#585858" stop-opacity="0.75"/></linearGradient><linearGradient id="snb" gradientUnits="userSpaceOnUse" x1="340.2" y1="651.7" x2="363.8" y2="700.3"><stop offset="0" stop-color="#8c8c8c"/><stop offset="0.3" stop-color="#c4c4c4"/><stop offset="0.55" stop-color="#ececec"/><stop offset="0.8" stop-color="#c0c0c0"/><stop offset="1" stop-color="#8c8c8c"/></linearGradient><linearGradient id="snr0" gradientUnits="userSpaceOnUse" x1="321.3" y1="645.1" x2="326.5" y2="653.4"><stop offset="0" stop-color="#7a7a7a"/><stop offset="0.3" stop-color="#dcdcdc"/><stop offset="0.55" stop-color="#f2f2f2"/><stop offset="0.8" stop-color="#b8b8b8"/><stop offset="1" stop-color="#6e6e6e"/></linearGradient><linearGradient id="snr1" gradientUnits="userSpaceOnUse" x1="330.1" y1="648.4" x2="335.3" y2="656.7"><stop offset="0" stop-color="#7a7a7a"/><stop offset="0.3" stop-color="#dcdcdc"/><stop offset="0.55" stop-color="#f2f2f2"/><stop offset="0.8" stop-color="#b8b8b8"/><stop offset="1" stop-color="#6e6e6e"/></linearGradient><linearGradient id="snr2" gradientUnits="userSpaceOnUse" x1="340.8" y1="656.5" x2="346" y2="664.8"><stop offset="0" stop-color="#7a7a7a"/><stop offset="0.3" stop-color="#dcdcdc"/><stop offset="0.55" stop-color="#f2f2f2"/><stop offset="0.8" stop-color="#b8b8b8"/><stop offset="1" stop-color="#6e6e6e"/></linearGradient><linearGradient id="snr3" gradientUnits="userSpaceOnUse" x1="348.8" y1="668.5" x2="354" y2="676.8"><stop offset="0" stop-color="#7a7a7a"/><stop offset="0.3" stop-color="#dcdcdc"/><stop offset="0.55" stop-color="#f2f2f2"/><stop offset="0.8" stop-color="#b8b8b8"/><stop offset="1" stop-color="#6e6e6e"/></linearGradient><linearGradient id="snr4" gradientUnits="userSpaceOnUse" x1="354.9" y1="681.9" x2="360.1" y2="690.2"><stop offset="0" stop-color="#7a7a7a"/><stop offset="0.3" stop-color="#dcdcdc"/><stop offset="0.55" stop-color="#f2f2f2"/><stop offset="0.8" stop-color="#b8b8b8"/><stop offset="1" stop-color="#6e6e6e"/></linearGradient><linearGradient id="snr5" gradientUnits="userSpaceOnUse" x1="356.8" y1="694.6" x2="362" y2="702.9"><stop offset="0" stop-color="#7a7a7a"/><stop offset="0.3" stop-color="#dcdcdc"/><stop offset="0.55" stop-color="#f2f2f2"/><stop offset="0.8" stop-color="#b8b8b8"/><stop offset="1" stop-color="#6e6e6e"/></linearGradient><linearGradient id="snr6" gradientUnits="userSpaceOnUse" x1="349.3" y1="705.6" x2="354.5" y2="713.9"><stop offset="0" stop-color="#7a7a7a"/><stop offset="0.3" stop-color="#dcdcdc"/><stop offset="0.55" stop-color="#f2f2f2"/><stop offset="0.8" stop-color="#b8b8b8"/><stop offset="1" stop-color="#6e6e6e"/></linearGradient><linearGradient id="snf" gradientUnits="userSpaceOnUse" x1="321.8" y1="656.9" x2="345.4" y2="709.9"><stop offset="0" stop-color="#9a9a9a"/><stop offset="0.5" stop-color="#8c8c8c"/><stop offset="1" stop-color="#808080"/></linearGradient><linearGradient id="sno" gradientUnits="userSpaceOnUse" x1="326.9" y1="666.3" x2="341.9" y2="700.1"><stop offset="0" stop-color="#5e5e5e"/><stop offset="0.3" stop-color="#a0a0a0"/><stop offset="0.55" stop-color="#e2e2e2"/><stop offset="0.8" stop-color="#a8a8a8"/><stop offset="1" stop-color="#626262"/></linearGradient><linearGradient id="snox" gradientUnits="userSpaceOnUse" x1="326.9" y1="686.5" x2="341.9" y2="679.9"><stop offset="0" stop-color="#4a4a4a" stop-opacity="0.55"/><stop offset="0.45" stop-color="#ffffff" stop-opacity="0.0"/><stop offset="1" stop-color="#ffffff" stop-opacity="0.25"/></linearGradient><linearGradient id="hBar" gradientUnits="userSpaceOnUse" x1="554.7" y1="455" x2="621.9" y2="575.8"><stop offset="0" stop-color="#3a3a3a"/><stop offset="0.08" stop-color="#424242"/><stop offset="0.17" stop-color="#6e6e6e"/><stop offset="0.25" stop-color="#a8a8a8"/><stop offset="0.34" stop-color="#dadada"/><stop offset="0.5" stop-color="#f0f0f0"/><stop offset="0.65" stop-color="#e2e2e2"/><stop offset="0.78" stop-color="#bababa"/><stop offset="0.9" stop-color="#8e8e8e"/><stop offset="1" stop-color="#747474"/></linearGradient><linearGradient id="hBarA" gradientUnits="userSpaceOnUse" x1="502.6" y1="564.8" x2="609.2" y2="503.8"><stop offset="0" stop-color="#505050" stop-opacity="0.55"/><stop offset="0.25" stop-color="#686868" stop-opacity="0.22"/><stop offset="0.5" stop-color="#808080" stop-opacity="0.0"/><stop offset="1" stop-color="#ffffff" stop-opacity="0.1"/></linearGradient><linearGradient id="hRim" gradientUnits="userSpaceOnUse" x1="420" y1="454.9" x2="558.2" y2="703.1"><stop offset="0" stop-color="#5a5a5a"/><stop offset="0.2" stop-color="#8a8a8a"/><stop offset="0.4" stop-color="#c8c8c8"/><stop offset="0.6" stop-color="#e2e2e2"/><stop offset="0.8" stop-color="#d2d2d2"/><stop offset="0.93" stop-color="#b4b4b4"/><stop offset="1" stop-color="#909090"/></linearGradient><linearGradient id="hBowl" gradientUnits="userSpaceOnUse" x1="415" y1="500.6" x2="535" y2="690.2"><stop offset="0" stop-color="#414141"/><stop offset="0.08" stop-color="#4e4e4e"/><stop offset="0.18" stop-color="#767676"/><stop offset="0.3" stop-color="#9e9e9e"/><stop offset="0.44" stop-color="#c8c8c8"/><stop offset="0.6" stop-color="#dcdcdc"/><stop offset="0.78" stop-color="#e2e2e2"/><stop offset="0.9" stop-color="#c6c6c6"/><stop offset="1" stop-color="#a8a8a8"/></linearGradient><linearGradient id="hBowlX" gradientUnits="userSpaceOnUse" x1="441.7" y1="616.5" x2="508.3" y2="574.3"><stop offset="0" stop-color="#ffffff" stop-opacity="0.4"/><stop offset="0.4" stop-color="#ffffff" stop-opacity="0.0"/><stop offset="0.5" stop-color="#5a5a5a" stop-opacity="0.0"/><stop offset="0.75" stop-color="#5a5a5a" stop-opacity="0.42"/><stop offset="1" stop-color="#4a4a4a" stop-opacity="0.6"/></linearGradient><linearGradient id="hBore" gradientUnits="userSpaceOnUse" x1="458.7" y1="540.8" x2="507.3" y2="624.8"><stop offset="0" stop-color="#7c7c7c"/><stop offset="0.25" stop-color="#a4a4a4"/><stop offset="0.5" stop-color="#cfcfcf"/><stop offset="0.75" stop-color="#c0c0c0"/><stop offset="1" stop-color="#8c8c8c"/></linearGradient><linearGradient id="bs1" gradientUnits="userSpaceOnUse" x1="501.1" y1="412.1" x2="509.7" y2="422.1"><stop offset="0" stop-color="#888888"/><stop offset="0.18" stop-color="#a8a8a8"/><stop offset="0.4" stop-color="#e4e4e4"/><stop offset="0.6" stop-color="#eeeeee"/><stop offset="0.8" stop-color="#bcbcbc"/><stop offset="1" stop-color="#808080"/></linearGradient><linearGradient id="bh1" gradientUnits="userSpaceOnUse" x1="545" y1="369.9" x2="558.4" y2="385.7"><stop offset="0" stop-color="#9a9a9a"/><stop offset="0.25" stop-color="#cfcfcf"/><stop offset="0.5" stop-color="#f0f0f0"/><stop offset="0.75" stop-color="#d2d2d2"/><stop offset="1" stop-color="#8e8e8e"/></linearGradient><linearGradient id="bs2" gradientUnits="userSpaceOnUse" x1="527.9" y1="404.8" x2="535.5" y2="415.6"><stop offset="0" stop-color="#888888"/><stop offset="0.18" stop-color="#a8a8a8"/><stop offset="0.4" stop-color="#e4e4e4"/><stop offset="0.6" stop-color="#eeeeee"/><stop offset="0.8" stop-color="#bcbcbc"/><stop offset="1" stop-color="#808080"/></linearGradient><linearGradient id="bh2" gradientUnits="userSpaceOnUse" x1="575" y1="367" x2="587" y2="384"><stop offset="0" stop-color="#9a9a9a"/><stop offset="0.25" stop-color="#cfcfcf"/><stop offset="0.5" stop-color="#f0f0f0"/><stop offset="0.75" stop-color="#d2d2d2"/><stop offset="1" stop-color="#8e8e8e"/></linearGradient><linearGradient id="bs3" gradientUnits="userSpaceOnUse" x1="501.6" y1="457.3" x2="509.2" y2="468.1"><stop offset="0" stop-color="#888888"/><stop offset="0.18" stop-color="#a8a8a8"/><stop offset="0.4" stop-color="#e4e4e4"/><stop offset="0.6" stop-color="#eeeeee"/><stop offset="0.8" stop-color="#bcbcbc"/><stop offset="1" stop-color="#808080"/></linearGradient><linearGradient id="bh3" gradientUnits="userSpaceOnUse" x1="548" y1="420.2" x2="560" y2="437.2"><stop offset="0" stop-color="#9a9a9a"/><stop offset="0.25" stop-color="#cfcfcf"/><stop offset="0.5" stop-color="#f0f0f0"/><stop offset="0.75" stop-color="#d2d2d2"/><stop offset="1" stop-color="#8e8e8e"/></linearGradient><linearGradient id="bs4" gradientUnits="userSpaceOnUse" x1="572.7" y1="438.6" x2="580.1" y2="449.6"><stop offset="0" stop-color="#888888"/><stop offset="0.18" stop-color="#a8a8a8"/><stop offset="0.4" stop-color="#e4e4e4"/><stop offset="0.6" stop-color="#eeeeee"/><stop offset="0.8" stop-color="#bcbcbc"/><stop offset="1" stop-color="#808080"/></linearGradient><linearGradient id="bh4" gradientUnits="userSpaceOnUse" x1="619.2" y1="403" x2="630.8" y2="420.4"><stop offset="0" stop-color="#9a9a9a"/><stop offset="0.25" stop-color="#cfcfcf"/><stop offset="0.5" stop-color="#f0f0f0"/><stop offset="0.75" stop-color="#d2d2d2"/><stop offset="1" stop-color="#8e8e8e"/></linearGradient><linearGradient id="bs5" gradientUnits="userSpaceOnUse" x1="616.9" y1="500.8" x2="624.3" y2="511.8"><stop offset="0" stop-color="#888888"/><stop offset="0.18" stop-color="#a8a8a8"/><stop offset="0.4" stop-color="#e4e4e4"/><stop offset="0.6" stop-color="#eeeeee"/><stop offset="0.8" stop-color="#bcbcbc"/><stop offset="1" stop-color="#808080"/></linearGradient><linearGradient id="bh5" gradientUnits="userSpaceOnUse" x1="662.1" y1="465.8" x2="673.7" y2="483"><stop offset="0" stop-color="#9a9a9a"/><stop offset="0.25" stop-color="#cfcfcf"/><stop offset="0.5" stop-color="#f0f0f0"/><stop offset="0.75" stop-color="#d2d2d2"/><stop offset="1" stop-color="#8e8e8e"/></linearGradient><linearGradient id="bs6" gradientUnits="userSpaceOnUse" x1="643.5" y1="568.8" x2="651.1" y2="579.6"><stop offset="0" stop-color="#888888"/><stop offset="0.18" stop-color="#a8a8a8"/><stop offset="0.4" stop-color="#e4e4e4"/><stop offset="0.6" stop-color="#eeeeee"/><stop offset="0.8" stop-color="#bcbcbc"/><stop offset="1" stop-color="#808080"/></linearGradient><linearGradient id="bh6" gradientUnits="userSpaceOnUse" x1="688.8" y1="532.8" x2="700.6" y2="549.8"><stop offset="0" stop-color="#9a9a9a"/><stop offset="0.25" stop-color="#cfcfcf"/><stop offset="0.5" stop-color="#f0f0f0"/><stop offset="0.75" stop-color="#d2d2d2"/><stop offset="1" stop-color="#8e8e8e"/></linearGradient><linearGradient id="bs7" gradientUnits="userSpaceOnUse" x1="616.5" y1="622.5" x2="624.7" y2="632.9"><stop offset="0" stop-color="#888888"/><stop offset="0.18" stop-color="#a8a8a8"/><stop offset="0.4" stop-color="#e4e4e4"/><stop offset="0.6" stop-color="#eeeeee"/><stop offset="0.8" stop-color="#bcbcbc"/><stop offset="1" stop-color="#808080"/></linearGradient><linearGradient id="bh7" gradientUnits="userSpaceOnUse" x1="660.5" y1="583.5" x2="673.3" y2="599.9"><stop offset="0" stop-color="#9a9a9a"/><stop offset="0.25" stop-color="#cfcfcf"/><stop offset="0.5" stop-color="#f0f0f0"/><stop offset="0.75" stop-color="#d2d2d2"/><stop offset="1" stop-color="#8e8e8e"/></linearGradient><linearGradient id="bs8" gradientUnits="userSpaceOnUse" x1="643.4" y1="616.2" x2="651.2" y2="626.8"><stop offset="0" stop-color="#888888"/><stop offset="0.18" stop-color="#a8a8a8"/><stop offset="0.4" stop-color="#e4e4e4"/><stop offset="0.6" stop-color="#eeeeee"/><stop offset="0.8" stop-color="#bcbcbc"/><stop offset="1" stop-color="#808080"/></linearGradient><linearGradient id="bh8" gradientUnits="userSpaceOnUse" x1="689.5" y1="577.2" x2="701.9" y2="593.8"><stop offset="0" stop-color="#9a9a9a"/><stop offset="0.25" stop-color="#cfcfcf"/><stop offset="0.5" stop-color="#f0f0f0"/><stop offset="0.75" stop-color="#d2d2d2"/><stop offset="1" stop-color="#8e8e8e"/></linearGradient><linearGradient id="bco" gradientUnits="userSpaceOnUse" x1="712.8" y1="363.5" x2="769.3" y2="457.4"><stop offset="0" stop-color="#8a8a8a"/><stop offset="0.15" stop-color="#9c9c9c"/><stop offset="0.32" stop-color="#c0c0c0"/><stop offset="0.5" stop-color="#efefef"/><stop offset="0.66" stop-color="#fbfbfb"/><stop offset="0.8" stop-color="#d4d4d4"/><stop offset="0.92" stop-color="#a6a6a6"/><stop offset="1" stop-color="#888"/></linearGradient><linearGradient id="bci" gradientUnits="userSpaceOnUse" x1="692.6" y1="383.2" x2="742.4" y2="466"><stop offset="0" stop-color="#6e6e6e"/><stop offset="0.15" stop-color="#8a8a8a"/><stop offset="0.35" stop-color="#c4c4c4"/><stop offset="0.55" stop-color="#ededed"/><stop offset="0.75" stop-color="#d0d0d0"/><stop offset="0.9" stop-color="#a0a0a0"/><stop offset="1" stop-color="#7c7c7c"/></linearGradient><linearGradient id="bcx" gradientUnits="userSpaceOnUse" x1="702.6" y1="433.6" x2="732.4" y2="415.6"><stop offset="0" stop-color="#808080" stop-opacity="0.45"/><stop offset="0.3" stop-color="#ffffff" stop-opacity="0.2"/><stop offset="0.55" stop-color="#ffffff" stop-opacity="0.95"/><stop offset="1" stop-color="#ffffff" stop-opacity="1"/></linearGradient><linearGradient id="bnb" gradientUnits="userSpaceOnUse" x1="806.9" y1="306.2" x2="861.2" y2="389.9"><stop offset="0" stop-color="#9a9a9a"/><stop offset="0.3" stop-color="#c8c8c8"/><stop offset="0.55" stop-color="#ececec"/><stop offset="0.8" stop-color="#c4c4c4"/><stop offset="1" stop-color="#8c8c8c"/></linearGradient><linearGradient id="bnr0" gradientUnits="userSpaceOnUse" x1="825.7" y1="401" x2="831.5" y2="401.3"><stop offset="0" stop-color="#555"/><stop offset="0.12" stop-color="#c4c4c4"/><stop offset="0.45" stop-color="#f4f4f4"/><stop offset="0.78" stop-color="#d2d2d2"/><stop offset="0.92" stop-color="#9c9c9c"/><stop offset="1" stop-color="#555"/></linearGradient><linearGradient id="bnr1" gradientUnits="userSpaceOnUse" x1="832.3" y1="401" x2="835.8" y2="397.3"><stop offset="0" stop-color="#555"/><stop offset="0.12" stop-color="#c4c4c4"/><stop offset="0.45" stop-color="#f4f4f4"/><stop offset="0.78" stop-color="#d2d2d2"/><stop offset="0.92" stop-color="#9c9c9c"/><stop offset="1" stop-color="#555"/></linearGradient><linearGradient id="bnr2" gradientUnits="userSpaceOnUse" x1="836.1" y1="396.5" x2="836.9" y2="389.4"><stop offset="0" stop-color="#555"/><stop offset="0.12" stop-color="#c4c4c4"/><stop offset="0.45" stop-color="#f4f4f4"/><stop offset="0.78" stop-color="#d2d2d2"/><stop offset="0.92" stop-color="#9c9c9c"/><stop offset="1" stop-color="#555"/></linearGradient><linearGradient id="bnr3" gradientUnits="userSpaceOnUse" x1="836.8" y1="388" x2="834.7" y2="378.4"><stop offset="0" stop-color="#555"/><stop offset="0.12" stop-color="#c4c4c4"/><stop offset="0.45" stop-color="#f4f4f4"/><stop offset="0.78" stop-color="#d2d2d2"/><stop offset="0.92" stop-color="#9c9c9c"/><stop offset="1" stop-color="#555"/></linearGradient><linearGradient id="bnr4" gradientUnits="userSpaceOnUse" x1="834.1" y1="376.7" x2="829.5" y2="365.7"><stop offset="0" stop-color="#555"/><stop offset="0.12" stop-color="#c4c4c4"/><stop offset="0.45" stop-color="#f4f4f4"/><stop offset="0.78" stop-color="#d2d2d2"/><stop offset="0.92" stop-color="#9c9c9c"/><stop offset="1" stop-color="#555"/></linearGradient><linearGradient id="bnr5" gradientUnits="userSpaceOnUse" x1="828.5" y1="363.8" x2="821.8" y2="352.7"><stop offset="0" stop-color="#555"/><stop offset="0.12" stop-color="#c4c4c4"/><stop offset="0.45" stop-color="#f4f4f4"/><stop offset="0.78" stop-color="#d2d2d2"/><stop offset="0.92" stop-color="#9c9c9c"/><stop offset="1" stop-color="#555"/></linearGradient><linearGradient id="bnr6" gradientUnits="userSpaceOnUse" x1="820.6" y1="351" x2="812.7" y2="341.2"><stop offset="0" stop-color="#555"/><stop offset="0.12" stop-color="#c4c4c4"/><stop offset="0.45" stop-color="#f4f4f4"/><stop offset="0.78" stop-color="#d2d2d2"/><stop offset="0.92" stop-color="#9c9c9c"/><stop offset="1" stop-color="#555"/></linearGradient><linearGradient id="bnr7" gradientUnits="userSpaceOnUse" x1="811.4" y1="339.7" x2="803.2" y2="332.3"><stop offset="0" stop-color="#555"/><stop offset="0.12" stop-color="#c4c4c4"/><stop offset="0.45" stop-color="#f4f4f4"/><stop offset="0.78" stop-color="#d2d2d2"/><stop offset="0.92" stop-color="#9c9c9c"/><stop offset="1" stop-color="#555"/></linearGradient><linearGradient id="bnr8" gradientUnits="userSpaceOnUse" x1="801.9" y1="331.4" x2="794.4" y2="327.3"><stop offset="0" stop-color="#555"/><stop offset="0.12" stop-color="#c4c4c4"/><stop offset="0.45" stop-color="#f4f4f4"/><stop offset="0.78" stop-color="#d2d2d2"/><stop offset="0.92" stop-color="#9c9c9c"/><stop offset="1" stop-color="#555"/></linearGradient><linearGradient id="bnr9" gradientUnits="userSpaceOnUse" x1="793.3" y1="327" x2="787.5" y2="326.7"><stop offset="0" stop-color="#555"/><stop offset="0.12" stop-color="#c4c4c4"/><stop offset="0.45" stop-color="#f4f4f4"/><stop offset="0.78" stop-color="#d2d2d2"/><stop offset="0.92" stop-color="#9c9c9c"/><stop offset="1" stop-color="#555"/></linearGradient><linearGradient id="bnr10" gradientUnits="userSpaceOnUse" x1="786.7" y1="327" x2="783.2" y2="330.7"><stop offset="0" stop-color="#555"/><stop offset="0.12" stop-color="#c4c4c4"/><stop offset="0.45" stop-color="#f4f4f4"/><stop offset="0.78" stop-color="#d2d2d2"/><stop offset="0.92" stop-color="#9c9c9c"/><stop offset="1" stop-color="#555"/></linearGradient><linearGradient id="bnr11" gradientUnits="userSpaceOnUse" x1="782.9" y1="331.5" x2="782.1" y2="338.6"><stop offset="0" stop-color="#555"/><stop offset="0.12" stop-color="#c4c4c4"/><stop offset="0.45" stop-color="#f4f4f4"/><stop offset="0.78" stop-color="#d2d2d2"/><stop offset="0.92" stop-color="#9c9c9c"/><stop offset="1" stop-color="#555"/></linearGradient><linearGradient id="bno" gradientUnits="userSpaceOnUse" x1="798" y1="345.1" x2="820" y2="378.5"><stop offset="0" stop-color="#7a7a7a"/><stop offset="0.3" stop-color="#b4b4b4"/><stop offset="0.55" stop-color="#eaeaea"/><stop offset="0.8" stop-color="#b8b8b8"/><stop offset="1" stop-color="#7c7c7c"/></linearGradient><linearGradient id="cvE" gradientUnits="userSpaceOnUse" x1="968.3" y1="172.1" x2="1036.3" y2="289.9"><stop offset="0" stop-color="#8e8e8e"/><stop offset="0.2" stop-color="#b4b4b4"/><stop offset="0.45" stop-color="#e6e6e6"/><stop offset="0.65" stop-color="#f4f4f4"/><stop offset="0.85" stop-color="#cacaca"/><stop offset="1" stop-color="#929292"/></linearGradient><linearGradient id="cvF" gradientUnits="userSpaceOnUse" x1="958" y1="177.4" x2="1026.5" y2="296"><stop offset="0" stop-color="#828282"/><stop offset="0.4" stop-color="#868686"/><stop offset="0.7" stop-color="#989898"/><stop offset="1" stop-color="#888888"/></linearGradient><linearGradient id="cvFx" gradientUnits="userSpaceOnUse" x1="970.6" y1="249.2" x2="1014" y2="224.2"><stop offset="0" stop-color="#ffffff" stop-opacity="0.0"/><stop offset="0.55" stop-color="#ffffff" stop-opacity="0.0"/><stop offset="0.8" stop-color="#ffffff" stop-opacity="0.35"/><stop offset="1" stop-color="#ffffff" stop-opacity="0.6"/></linearGradient><linearGradient id="cvI" gradientUnits="userSpaceOnUse" x1="968.2" y1="187.5" x2="1026" y2="279.9"><stop offset="0" stop-color="#6e6e6e"/><stop offset="0.2" stop-color="#8a8a8a"/><stop offset="0.45" stop-color="#b8b8b8"/><stop offset="0.7" stop-color="#c8c8c8"/><stop offset="0.88" stop-color="#a0a0a0"/><stop offset="1" stop-color="#7a7a7a"/></linearGradient><linearGradient id="cvW2" gradientUnits="userSpaceOnUse" x1="974.9" y1="192" x2="1023.9" y2="273.4"><stop offset="0" stop-color="#808080"/><stop offset="0.25" stop-color="#a8a8a8"/><stop offset="0.5" stop-color="#d6d6d6"/><stop offset="0.75" stop-color="#c6c6c6"/><stop offset="1" stop-color="#8e8e8e"/></linearGradient><linearGradient id="grO" gradientUnits="userSpaceOnUse" x1="1234.6" y1="5.5" x2="1295.6" y2="103.1"><stop offset="0" stop-color="#7a7a7a"/><stop offset="0.2" stop-color="#8e8e8e"/><stop offset="0.4" stop-color="#c8c8c8"/><stop offset="0.6" stop-color="#f0f0f0"/><stop offset="0.8" stop-color="#b0b0b0"/><stop offset="1" stop-color="#7a7a7a"/></linearGradient><linearGradient id="grI" gradientUnits="userSpaceOnUse" x1="1223.8" y1="12" x2="1284.8" y2="109.6"><stop offset="0" stop-color="#5e5e5e"/><stop offset="0.15" stop-color="#6e6e6e"/><stop offset="0.35" stop-color="#9a9a9a"/><stop offset="0.6" stop-color="#d0d0d0"/><stop offset="0.8" stop-color="#9c9c9c"/><stop offset="1" stop-color="#5e5e5e"/></linearGradient><linearGradient id="sb0" gradientUnits="userSpaceOnUse" x1="1065.3" y1="114.6" x2="1062.3" y2="109.8"><stop offset="0" stop-color="#666"/><stop offset="0.5" stop-color="#b4b4b4"/><stop offset="1" stop-color="#777"/></linearGradient><linearGradient id="sb1" gradientUnits="userSpaceOnUse" x1="1097.6" y1="131.3" x2="1094.4" y2="126.7"><stop offset="0" stop-color="#666"/><stop offset="0.5" stop-color="#b4b4b4"/><stop offset="1" stop-color="#777"/></linearGradient><linearGradient id="sb2" gradientUnits="userSpaceOnUse" x1="1129.3" y1="185.8" x2="1126.3" y2="181.2"><stop offset="0" stop-color="#666"/><stop offset="0.5" stop-color="#b4b4b4"/><stop offset="1" stop-color="#777"/></linearGradient><linearGradient id="sb3" gradientUnits="userSpaceOnUse" x1="1129.3" y1="222.1" x2="1126.3" y2="217.3"><stop offset="0" stop-color="#666"/><stop offset="0.5" stop-color="#b4b4b4"/><stop offset="1" stop-color="#777"/></linearGradient></defs>
<rect width="1300" height="972" fill="#fcfdfc"/>
<g id="drum"><path d="M129.7 628.1 L129.9 621.5 L130.7 615.6 L131.9 610.3 L133.7 605.7 L135.9 601.9 L138.7 598.8 L141.9 596.4 L167.8 578.5 L171.7 576.7 L176.1 575.7 L180.8 575.4 L186 576 L191.5 577.2 L197.3 579.3 L203.4 582.1 L209.8 585.6 L216.5 589.9 L223.3 594.8 L230.4 600.5 L237.5 606.8 L244.8 613.7 L252.2 621.2 L259.6 629.2 L266.9 637.8 L274.3 646.8 L281.6 656.3 L288.7 666.1 L295.7 676.3 L302.6 686.7 L309.2 697.4 L315.6 708.3 L321.7 719.2 L327.6 730.3 L333.1 741.4 L338.2 752.4 L342.9 763.4 L347.2 774.2 L351.2 784.8 L354.6 795.1 L357.6 805.2 L360.1 814.9 L362.2 824.2 L363.7 833.1 L364.7 841.5 L365.2 849.4 L365.2 856.7 L364.7 863.4 L363.6 869.5 L362.1 875 L360.1 879.7 L357.5 883.7 L354.5 887 L351 889.6 L325.1 907.4 L321.4 909 L317.4 909.9 L312.9 910 L308.1 909.3 L302.9 907.9 L297.3 905.7 L291.4 902.7 L285.3 899 L278.9 894.6 L272.3 889.5 L265.4 883.8 L258.5 877.3 L251.4 870.3 L244.2 862.7 L237 854.6 L229.7 845.9 L222.5 836.8 L215.3 827.3 L208.2 817.4 L201.3 807.2 L194.5 796.8 L187.9 786.1 L181.5 775.2 L175.3 764.2 L169.5 753.2 L163.9 742.2 L158.7 731.2 L153.9 720.3 L149.4 709.6 L145.4 699 L141.8 688.8 L138.6 678.8 L135.9 669.2 L133.7 660 L131.9 651.2 L130.7 643 L129.9 635.2Z" fill="#c0c0c0"/><path d="M312.9 883.9 L325.2 889.5 L336.1 892.1 L345.6 891.5 L353.5 887.9 L359.5 881.3 L363.6 871.9 L365.7 859.7 L365.7 845.1 L363.6 828.3 L359.6 809.6 L353.6 789.5 L345.8 768.3 L336.3 746.4 L325.4 724.3 L313.1 702.4 L299.9 681 L285.8 660.7 L271.3 641.8 L256.5 624.7 L241.8 609.7 L227.5 597.1 L213.8 587.2 L201 580.1 L189.3 576 L179.1 575 L170.4 577.1 L163.4 582.2 L158.4 590.3 L155.3 601.1 L154.2 614.5 L150.9 616.8 L151.9 603.4 L154.9 592.6 L159.9 584.6 L166.8 579.5 L175.4 577.5 L185.7 578.6 L197.2 582.7 L210 589.8 L223.6 599.7 L237.9 612.4 L252.6 627.4 L267.3 644.5 L281.8 663.4 L295.8 683.7 L309.1 705.1 L321.3 727 L332.3 749.1 L341.8 771 L349.7 792.2 L355.7 812.3 L359.8 830.9 L361.9 847.7 L361.9 862.3 L359.9 874.4 L355.9 883.8 L349.9 890.4 L342.2 893.9 L332.7 894.4 L321.8 891.8 L309.6 886.2Z" fill="url(#dR8)"/><path d="M310.2 885.8 L322.4 891.4 L333.3 894 L342.8 893.5 L350.6 889.9 L356.6 883.4 L360.6 873.9 L362.6 861.8 L362.6 847.2 L360.5 830.4 L356.4 811.8 L350.4 791.7 L342.6 770.5 L333.1 748.6 L322.1 726.5 L309.9 704.6 L296.6 683.2 L282.6 662.9 L268.1 644 L253.3 626.9 L238.7 611.9 L224.4 599.2 L210.7 589.3 L198 582.2 L186.3 578.1 L176.1 577 L167.5 579.1 L160.6 584.2 L155.6 592.2 L152.5 603 L151.5 616.4 L148.3 618.7 L149.2 605.3 L152.2 594.5 L157.1 586.6 L163.9 581.5 L172.5 579.5 L182.6 580.6 L194.2 584.8 L206.8 591.9 L220.4 601.9 L234.7 614.5 L249.3 629.6 L264 646.7 L278.5 665.7 L292.5 686 L305.8 707.3 L318 729.3 L329 751.4 L338.5 773.2 L346.4 794.4 L352.5 814.5 L356.6 833.1 L358.7 849.8 L358.8 864.4 L356.9 876.4 L352.9 885.9 L347 892.4 L339.3 895.9 L329.9 896.3 L319.1 893.7 L306.9 888.1Z" fill="url(#dR7)"/><path d="M307.5 887.6 L319.7 893.3 L330.6 895.9 L340 895.5 L347.7 891.9 L353.6 885.4 L357.6 876 L359.5 863.9 L359.5 849.3 L357.3 832.6 L353.2 814 L347.1 793.9 L339.3 772.7 L329.8 750.9 L318.8 728.8 L306.5 706.8 L293.3 685.5 L279.2 665.1 L264.7 646.2 L250 629.1 L235.4 614 L221.2 601.4 L207.6 591.4 L194.9 584.3 L183.3 580.2 L173.2 579.1 L164.6 581.1 L157.7 586.1 L152.8 594.1 L149.8 604.9 L148.9 618.3 L145.6 620.5 L146.5 607.2 L149.4 596.5 L154.3 588.5 L161 583.5 L169.5 581.6 L179.6 582.7 L191.1 586.9 L203.7 594.1 L217.2 604.1 L231.4 616.7 L246 631.8 L260.7 649 L275.2 667.9 L289.2 688.2 L302.4 709.6 L314.7 731.5 L325.7 753.6 L335.2 775.5 L343.1 796.6 L349.2 816.7 L353.4 835.2 L355.6 851.9 L355.7 866.5 L353.9 878.5 L350 887.9 L344.1 894.4 L336.5 897.9 L327.2 898.3 L316.4 895.6 L304.3 889.9Z" fill="url(#dR6)"/><path d="M304.9 889.5 L317 895.2 L327.8 897.8 L337.1 897.4 L344.8 893.9 L350.6 887.4 L354.5 878 L356.5 866 L356.3 851.4 L354.1 834.7 L350 816.2 L343.9 796.1 L336 775 L326.4 753.1 L315.4 731 L303.2 709.1 L289.9 687.7 L275.9 667.4 L261.4 648.4 L246.8 631.3 L232.2 616.2 L218 603.6 L204.4 593.6 L191.8 586.4 L180.3 582.2 L170.2 581.1 L161.7 583.1 L154.9 588.1 L150 596 L147.1 606.8 L146.2 620.1 L143 622.4 L143.8 609.1 L146.6 598.4 L151.4 590.5 L158.1 585.5 L166.6 583.6 L176.6 584.8 L188 589 L200.6 596.2 L214 606.2 L228.2 618.9 L242.7 634 L257.4 651.2 L271.8 670.1 L285.8 690.5 L299.1 711.8 L311.3 733.8 L322.3 755.9 L331.9 777.7 L339.8 798.8 L346 818.9 L350.2 837.4 L352.4 854.1 L352.7 868.6 L350.8 880.6 L347 889.9 L341.2 896.4 L333.6 899.8 L324.4 900.2 L313.7 897.5 L301.6 891.7Z" fill="url(#dR5)"/><path d="M302.2 891.3 L314.3 897 L325 899.7 L334.3 899.4 L341.9 895.9 L347.7 889.4 L351.5 880.1 L353.4 868.1 L353.2 853.6 L350.9 836.9 L346.7 818.4 L340.6 798.3 L332.6 777.2 L323.1 755.4 L312.1 733.3 L299.8 711.3 L286.6 690 L272.6 669.6 L258.1 650.7 L243.5 633.5 L228.9 618.4 L214.8 605.7 L201.3 595.7 L188.7 588.5 L177.3 584.3 L167.2 583.1 L158.8 585 L152.1 590 L147.3 597.9 L144.4 608.6 L143.6 621.9 L140.3 624.2 L141.1 611 L143.8 600.3 L148.6 592.4 L155.2 587.5 L163.6 585.6 L173.5 586.8 L184.9 591.1 L197.4 598.3 L210.8 608.4 L225 621.1 L239.5 636.2 L254.1 653.4 L268.5 672.4 L282.5 692.7 L295.7 714.1 L308 736 L319 758.1 L328.6 779.9 L336.5 801.1 L342.7 821.1 L347 839.6 L349.3 856.2 L349.6 870.7 L347.8 882.6 L344 891.9 L338.3 898.4 L330.8 901.8 L321.6 902.1 L311 899.4 L299 893.6Z" fill="url(#dR4)"/><path d="M299.6 893.2 L311.6 898.9 L322.3 901.7 L331.5 901.3 L339 897.9 L344.7 891.5 L348.5 882.2 L350.3 870.2 L350 855.7 L347.7 839.1 L343.5 820.6 L337.3 800.5 L329.3 779.4 L319.8 757.6 L308.7 735.5 L296.5 713.6 L283.2 692.2 L269.3 671.9 L254.8 652.9 L240.2 635.7 L225.7 620.6 L211.6 607.9 L198.1 597.8 L185.6 590.6 L174.2 586.4 L164.3 585.2 L155.9 587 L149.2 592 L144.5 599.8 L141.7 610.5 L140.9 623.8 L137.7 626.1 L138.4 612.8 L141.1 602.2 L145.8 594.4 L152.3 589.5 L160.6 587.6 L170.5 588.9 L181.8 593.2 L194.3 600.5 L207.7 610.6 L221.7 623.3 L236.2 638.4 L250.7 655.7 L265.2 674.6 L279.1 695 L292.4 716.4 L304.6 738.3 L315.7 760.4 L325.3 782.2 L333.3 803.3 L339.5 823.2 L343.8 841.7 L346.2 858.3 L346.5 872.8 L344.8 884.7 L341.1 894 L335.4 900.3 L328 903.7 L318.9 904 L308.2 901.2 L296.3 895.4Z" fill="url(#dR3)"/><path d="M296.9 895 L308.9 900.8 L319.5 903.6 L328.6 903.3 L336.1 899.9 L341.7 893.5 L345.5 884.2 L347.2 872.3 L346.9 857.8 L344.5 841.2 L340.2 822.7 L334 802.8 L326 781.7 L316.4 759.9 L305.4 737.8 L293.1 715.8 L279.9 694.5 L265.9 674.1 L251.5 655.1 L236.9 637.9 L222.5 622.8 L208.4 610.1 L195 600 L182.5 592.7 L171.2 588.4 L161.3 587.2 L153 589 L146.4 593.9 L141.7 601.8 L139 612.4 L138.3 625.6 L135 627.9 L135.7 614.7 L138.3 604.1 L142.9 596.3 L149.4 591.5 L157.7 589.7 L167.5 591 L178.7 595.3 L191.1 602.6 L204.5 612.7 L218.5 625.5 L232.9 640.6 L247.4 657.9 L261.8 676.9 L275.8 697.3 L289 718.6 L301.3 740.5 L312.3 762.6 L322 784.4 L330 805.5 L336.2 825.4 L340.6 843.9 L343 860.5 L343.4 874.9 L341.7 886.8 L338.1 896 L332.5 902.3 L325.1 905.7 L316.1 905.9 L305.5 903.1 L293.7 897.3Z" fill="url(#dR2)"/><path d="M294.3 896.9 L306.2 902.7 L316.7 905.5 L325.8 905.2 L333.2 901.9 L338.8 895.5 L342.4 886.3 L344.1 874.4 L343.7 860 L341.3 843.4 L337 824.9 L330.7 805 L322.7 783.9 L313.1 762.1 L302 740 L289.8 718.1 L276.5 696.7 L262.6 676.4 L248.2 657.4 L233.6 640.1 L219.2 625 L205.2 612.2 L191.8 602.1 L179.4 594.8 L168.2 590.5 L158.3 589.2 L150.1 591 L143.6 595.9 L138.9 603.7 L136.3 614.3 L135.6 627.5 L132.4 629.7 L132.9 616.6 L135.5 606 L140.1 598.3 L146.5 593.5 L154.7 591.7 L164.5 593 L175.6 597.4 L188 604.7 L201.3 614.9 L215.2 627.7 L229.6 642.9 L244.1 660.1 L258.5 679.1 L272.4 699.5 L285.7 720.9 L297.9 742.8 L309 764.9 L318.7 786.6 L326.7 807.7 L333 827.6 L337.4 846.1 L339.9 862.6 L340.3 877 L338.7 888.8 L335.1 898 L329.6 904.3 L322.3 907.6 L313.3 907.8 L302.8 905 L291 899.1Z" fill="url(#dR1)"/><path d="M291.6 898.7 L303.4 904.6 L313.9 907.4 L323 907.2 L330.3 903.9 L335.8 897.6 L339.4 888.4 L341 876.5 L340.6 862.1 L338.2 845.6 L333.7 827.1 L327.5 807.2 L319.4 786.1 L309.8 764.3 L298.7 742.3 L286.4 720.4 L273.2 699 L259.3 678.6 L244.9 659.6 L230.4 642.4 L216 627.2 L202 614.4 L188.7 604.2 L176.3 596.9 L165.2 592.5 L155.4 591.2 L147.2 593 L140.7 597.8 L136.2 605.6 L133.6 616.2 L133 629.3 L129.7 631.6 L130.2 618.5 L132.8 607.9 L137.3 600.2 L143.6 595.5 L151.7 593.7 L161.4 595.1 L172.5 599.5 L184.8 606.9 L198.1 617.1 L212 629.9 L226.3 645.1 L240.8 662.4 L255.2 681.4 L269.1 701.8 L282.3 723.1 L294.6 745 L305.7 767.1 L315.3 788.9 L323.4 809.9 L329.8 829.8 L334.2 848.2 L336.7 864.7 L337.2 879.1 L335.7 890.9 L332.2 900.1 L326.7 906.3 L319.5 909.6 L310.5 909.8 L300.1 906.9 L288.4 901Z" fill="url(#dR0)"/><path d="M346.1 891.7 L348.7 890.8 L351.2 889.5 L353.5 887.9 L355.6 886 L357.5 883.8 L359.2 881.3 L360.7 878.5 L362 875.4 L363 872 L363.9 868.3 L364.6 864.4 L365 860.1 L365.2 855.7 L365.3 851 L365.1 846 L364.6 840.8 L364 835.4 L363.2 829.8 L362.1 824 L360.9 818.1 L359.4 811.9 L357.7 805.6 L355.9 799.2 L353.8 792.6 L351.5 785.9 L349.1 779 L346.5 772.1 L343.7 765.2 L340.7 758.1 L337.6 751 L334.3 743.9 L330.8 736.8 L327.2 729.6 L323.5 722.5 L319.6 715.3 L315.6 708.3 L311.5 701.2 L307.3 694.3 L303 687.4 L298.6 680.6 L294.1 673.9 L289.6 667.4 L285 661 L280.3 654.7 L275.6 648.6 L270.9 642.6 L266.2 636.9 L261.4 631.3 L256.6 626 L251.9 620.9 L247.1 616 L242.4 611.3 L237.7 606.9 L233 602.8 L228.4 598.9 L223.9 595.3 L219.5 592 L215.1 588.9 L210.8 586.2 L206.6 583.8" stroke="#9a9a9a" stroke-width="1" fill="none"/><path d="M310.5 909.8 L313.6 910 L316.5 910 L319.3 909.6 L321.8 908.9 L324.2 907.9 L326.4 906.5 L328.4 904.9 L330.2 902.9 L331.8 900.6 L333.2 898 L334.4 895.1 L335.4 892 L336.2 888.5 L336.8 884.7 L337.1 880.7 L337.3 876.4 L337.2 871.8 L336.9 867 L336.4 862 L335.7 856.7 L334.8 851.3 L333.7 845.6 L332.3 839.7 L330.8 833.6 L329.1 827.4 L327.1 821 L325 814.5 L322.7 807.8 L320.2 801.1 L317.5 794.2 L314.7 787.3 L311.7 780.2 L308.5 773.1 L305.1 766 L301.7 758.8 L298 751.7 L294.3 744.5 L290.4 737.3 L286.4 730.2 L282.3 723.1 L278.1 716.1 L273.8 709.1 L269.4 702.3 L265 695.5 L260.4 688.9 L255.9 682.4 L251.2 676 L246.6 669.8 L241.9 663.7 L237.2 657.9 L232.5 652.2 L227.8 646.7 L223.1 641.5 L218.4 636.4 L213.8 631.7 L209.2 627.1 L204.6 622.8 L200.1 618.8 L195.7 615.1 L191.3 611.6 L187.1 608.5 L182.9 605.6 L178.9 603 L174.9 600.7 L171.1 598.8 L167.4 597.1 L163.8 595.8 L160.4 594.8 L157.1 594.1 L154 593.8 L151.1 593.8 L148.3 594.1 L145.7 594.7 L143.3 595.6 L141 596.9 L139 598.5 L137.1 600.4 L135.5 602.6 L134 605.1 L132.8 607.9 L134.4 613.8 L135.6 611.1 L137 608.6 L138.6 606.5 L140.4 604.6 L142.4 603.1 L144.6 601.9 L146.9 600.9 L149.4 600.3 L152.1 600 L155 600.1 L158 600.4 L161.2 601.1 L164.5 602 L167.9 603.3 L171.5 604.9 L175.2 606.8 L179 609 L183 611.5 L187 614.3 L191.1 617.3 L195.3 620.7 L199.6 624.3 L204 628.2 L208.4 632.3 L212.8 636.7 L217.3 641.3 L221.8 646.2 L226.4 651.3 L230.9 656.5 L235.5 662 L240 667.7 L244.6 673.6 L249.1 679.6 L253.5 685.7 L258 692 L262.3 698.5 L266.7 705 L270.9 711.6 L275.1 718.4 L279.1 725.2 L283.1 732 L287 738.9 L290.7 745.8 L294.3 752.8 L297.8 759.7 L301.2 766.6 L304.4 773.5 L307.5 780.4 L310.4 787.2 L313.2 793.9 L315.8 800.6 L318.2 807.1 L320.4 813.6 L322.5 819.9 L324.3 826 L326 832.1 L327.5 837.9 L328.8 843.6 L329.9 849.1 L330.8 854.4 L331.5 859.5 L331.9 864.4 L332.2 869 L332.3 873.4 L332.1 877.6 L331.8 881.5 L331.2 885.1 L330.5 888.5 L329.5 891.6 L328.3 894.4 L327 896.9 L325.4 899.1 L323.7 901 L321.7 902.6 L319.6 903.9 L317.3 904.9 L314.8 905.6 L312.2 906 L309.3 906 L306.4 905.7Z" fill="#474747"/><path d="M41.1 725.2 L41.1 719 L41.5 713.3 L42.4 708.2 L43.7 703.6 L45.5 699.6 L47.6 696.2 L50.1 693.4 L137.7 604.8 L140.8 602.5 L144.4 600.9 L148.4 600.1 L152.7 600 L157.5 600.6 L162.6 602 L168 604.2 L173.7 607 L179.7 610.6 L186 614.9 L192.4 619.9 L199.1 625.5 L205.9 631.8 L212.8 638.6 L219.8 646 L226.9 654 L233.9 662.4 L241 671.3 L248 680.5 L254.9 690.2 L261.7 700.1 L268.3 710.3 L274.8 720.8 L281 731.3 L287 742 L292.7 752.8 L298.1 763.5 L303.2 774.3 L307.9 784.9 L312.2 795.4 L316.2 805.6 L319.7 815.6 L322.8 825.4 L325.4 834.7 L327.6 843.7 L329.3 852.2 L330.5 860.3 L331.2 867.9 L331.5 874.8 L331.2 881.2 L330.4 887 L329.2 892.2 L327.5 896.6 L325.3 900.4 L322.6 903.5 L319.5 905.8 L315.9 907.4 L204.6 955.6 L200.9 956.4 L196.9 956.6 L192.5 956.2 L187.9 955.1 L183 953.4 L177.8 951 L172.4 948 L166.8 944.5 L161 940.2 L155 935.5 L149 930.2 L142.8 924.3 L136.6 918 L130.4 911.2 L124.2 904 L117.9 896.3 L111.8 888.3 L105.7 880 L99.8 871.4 L94 862.6 L88.4 853.6 L83 844.4 L77.8 835.1 L72.9 825.8 L68.3 816.4 L64 807.1 L60 797.9 L56.3 788.7 L53 779.8 L50.1 771 L47.5 762.5 L45.4 754.3 L43.7 746.4 L42.4 738.9 L41.5 731.8Z" fill="#8c8c8c"/><path d="M284.3 899.1 L295.8 904.8 L306 907.6 L314.7 907.5 L321.8 904.3 L327.1 898.2 L330.5 889.2 L332 877.7 L331.6 863.7 L329.1 847.6 L324.8 829.6 L318.6 810.2 L310.8 789.7 L301.3 768.5 L290.5 747 L278.6 725.6 L265.7 704.8 L252.1 684.9 L238.1 666.3 L224 649.5 L210 634.7 L196.4 622.2 L183.5 612.3 L171.5 605.1 L160.6 600.8 L151.1 599.5 L143.2 601.2 L137 605.8 L132.6 613.4 L130.1 623.6 L129.6 636.4 L127.3 638.1 L127.8 625.3 L130.3 615 L134.7 607.4 L140.9 602.8 L148.9 601.1 L158.4 602.4 L169.2 606.7 L181.2 613.8 L194.1 623.8 L207.7 636.3 L221.7 651.1 L235.9 667.9 L249.9 686.4 L263.4 706.3 L276.3 727.1 L288.3 748.5 L299.1 770 L308.5 791.2 L316.4 811.7 L322.6 831.2 L326.9 849.1 L329.3 865.2 L329.8 879.2 L328.2 890.8 L324.8 899.7 L319.4 905.8 L312.3 909 L303.6 909.2 L293.4 906.4 L282 900.7Z" fill="url(#dB48)"/><path d="M282.6 900.2 L294.1 906 L304.3 908.8 L313 908.6 L320.1 905.4 L325.4 899.3 L328.9 890.3 L330.4 878.8 L329.9 864.8 L327.5 848.7 L323.2 830.7 L317 811.3 L309.2 790.8 L299.7 769.6 L288.9 748.1 L277 726.7 L264.1 705.9 L250.5 686 L236.5 667.4 L222.4 650.6 L208.4 635.8 L194.8 623.3 L181.9 613.4 L169.9 606.2 L159 601.9 L149.5 600.6 L141.6 602.3 L135.4 607 L131 614.5 L128.5 624.8 L127.9 637.6 L125.2 639.5 L125.7 626.7 L128.2 616.4 L132.7 608.9 L138.9 604.2 L146.8 602.5 L156.3 603.8 L167.2 608.1 L179.2 615.3 L192.1 625.2 L205.7 637.7 L219.7 652.5 L233.9 669.3 L247.9 687.8 L261.4 707.7 L274.3 728.5 L286.3 749.9 L297.1 771.4 L306.5 792.6 L314.4 813.1 L320.5 832.5 L324.9 850.5 L327.3 866.6 L327.7 880.6 L326.2 892.1 L322.7 901.1 L317.4 907.2 L310.3 910.4 L301.5 910.6 L291.3 907.8 L279.9 902.1Z" fill="url(#dB47)"/><path d="M280.5 901.6 L292 907.4 L302.2 910.2 L310.9 910 L318 906.8 L323.4 900.6 L326.8 891.7 L328.4 880.1 L327.9 866.2 L325.5 850 L321.2 832.1 L315 812.7 L307.2 792.2 L297.7 770.9 L286.9 749.4 L275 728.1 L262.1 707.2 L248.5 687.4 L234.5 668.8 L220.4 652 L206.4 637.2 L192.8 624.7 L179.9 614.8 L167.8 607.6 L157 603.4 L147.5 602.1 L139.6 603.8 L133.3 608.4 L128.9 616 L126.4 626.2 L125.9 639.1 L123.1 641 L123.7 628.2 L126.2 617.9 L130.6 610.3 L136.9 605.7 L144.8 604 L154.3 605.3 L165.2 609.5 L177.2 616.7 L190.1 626.6 L203.8 639.1 L217.8 653.9 L231.9 670.7 L245.9 689.2 L259.5 709.1 L272.3 729.9 L284.3 751.2 L295.1 772.7 L304.5 794 L312.4 814.5 L318.5 833.9 L322.8 851.8 L325.2 868 L325.7 881.9 L324.1 893.5 L320.6 902.5 L315.3 908.6 L308.2 911.8 L299.4 912 L289.2 909.2 L277.7 903.5Z" fill="url(#dB46)"/><path d="M278.4 903 L289.9 908.8 L300.1 911.5 L308.8 911.3 L316 908.1 L321.3 902 L324.8 893.1 L326.3 881.5 L325.9 867.5 L323.5 851.4 L319.2 833.5 L313 814 L305.2 793.5 L295.7 772.3 L284.9 750.8 L273 729.4 L260.1 708.6 L246.5 688.8 L232.5 670.2 L218.4 653.4 L204.4 638.6 L190.8 626.1 L177.8 616.2 L165.8 609.1 L155 604.8 L145.5 603.5 L137.5 605.2 L131.3 609.9 L126.8 617.4 L124.3 627.7 L123.8 640.5 L121 642.5 L121.6 629.6 L124.1 619.4 L128.6 611.8 L134.8 607.1 L142.8 605.4 L152.3 606.7 L163.2 611 L175.2 618.1 L188.1 628 L201.8 640.5 L215.8 655.3 L229.9 672.1 L243.9 690.6 L257.5 710.4 L270.4 731.2 L282.3 752.6 L293.1 774.1 L302.5 795.3 L310.4 815.8 L316.5 835.3 L320.8 853.2 L323.2 869.3 L323.6 883.3 L322.1 894.9 L318.6 903.8 L313.2 910 L306.1 913.2 L297.3 913.4 L287.1 910.6 L275.6 904.9Z" fill="url(#dB45)"/><path d="M276.3 904.4 L287.8 910.2 L298 912.9 L306.8 912.7 L313.9 909.5 L319.2 903.4 L322.7 894.4 L324.3 882.9 L323.8 868.9 L321.4 852.8 L317.1 834.8 L311 815.4 L303.1 794.9 L293.7 773.7 L282.9 752.2 L271 730.8 L258.1 710 L244.5 690.1 L230.5 671.6 L216.4 654.8 L202.4 640 L188.8 627.6 L175.8 617.7 L163.8 610.5 L152.9 606.2 L143.4 604.9 L135.5 606.7 L129.2 611.3 L124.8 618.9 L122.3 629.2 L121.7 642 L119 643.9 L119.5 631.1 L122.1 620.8 L126.5 613.3 L132.8 608.6 L140.8 606.9 L150.3 608.1 L161.2 612.4 L173.2 619.5 L186.2 629.4 L199.8 641.9 L213.8 656.7 L227.9 673.5 L241.9 692 L255.5 711.8 L268.4 732.6 L280.3 754 L291.1 775.5 L300.5 796.7 L308.3 817.2 L314.5 836.6 L318.8 854.6 L321.1 870.7 L321.6 884.7 L320 896.3 L316.5 905.2 L311.1 911.3 L304 914.5 L295.2 914.8 L285 912 L273.5 906.3Z" fill="url(#dB44)"/><path d="M274.2 905.8 L285.7 911.6 L295.9 914.3 L304.7 914.1 L311.8 910.9 L317.2 904.8 L320.7 895.8 L322.2 884.2 L321.8 870.2 L319.4 854.1 L315.1 836.2 L309 816.8 L301.1 796.2 L291.7 775 L281 753.5 L269 732.2 L256.1 711.4 L242.5 691.5 L228.6 673 L214.4 656.2 L200.4 641.4 L186.8 629 L173.8 619.1 L161.8 611.9 L150.9 607.7 L141.4 606.4 L133.4 608.1 L127.2 612.8 L122.7 620.4 L120.2 630.6 L119.6 643.5 L116.9 645.4 L117.5 632.6 L120 622.3 L124.5 614.7 L130.8 610 L138.7 608.3 L148.3 609.6 L159.2 613.8 L171.2 621 L184.2 630.8 L197.8 643.3 L211.8 658.1 L225.9 674.9 L239.9 693.4 L253.5 713.2 L266.4 734 L278.3 755.3 L289.1 776.8 L298.5 798 L306.3 818.6 L312.4 838 L316.7 855.9 L319.1 872 L319.5 886 L317.9 897.6 L314.4 906.6 L309.1 912.7 L301.9 915.9 L293.1 916.2 L282.9 913.4 L271.4 907.7Z" fill="url(#dB43)"/><path d="M272.1 907.2 L283.6 912.9 L293.8 915.7 L302.6 915.5 L309.7 912.3 L315.1 906.1 L318.6 897.2 L320.2 885.6 L319.8 871.6 L317.4 855.5 L313.1 837.5 L307 818.1 L299.1 797.6 L289.7 776.4 L279 754.9 L267 733.6 L254.1 712.8 L240.6 692.9 L226.6 674.4 L212.4 657.6 L198.4 642.8 L184.8 630.4 L171.8 620.5 L159.8 613.4 L148.9 609.1 L139.4 607.8 L131.4 609.6 L125.1 614.2 L120.7 621.8 L118.1 632.1 L117.6 644.9 L114.8 646.9 L115.4 634 L118 623.7 L122.4 616.2 L128.7 611.5 L136.7 609.7 L146.2 611 L157.1 615.2 L169.2 622.4 L182.2 632.3 L195.8 644.7 L209.8 659.5 L223.9 676.2 L237.9 694.7 L251.5 714.6 L264.4 735.4 L276.3 756.7 L287.1 778.2 L296.5 799.4 L304.3 819.9 L310.4 839.3 L314.7 857.3 L317.1 873.4 L317.5 887.4 L315.9 899 L312.4 907.9 L307 914.1 L299.8 917.3 L291 917.6 L280.8 914.8 L269.3 909.1Z" fill="url(#dB42)"/><path d="M270 908.6 L281.5 914.3 L291.7 917.1 L300.5 916.9 L307.6 913.7 L313 907.5 L316.5 898.6 L318.1 887 L317.7 873 L315.4 856.8 L311.1 838.9 L305 819.5 L297.1 799 L287.7 777.8 L277 756.3 L265 734.9 L252.1 714.1 L238.6 694.3 L224.6 675.8 L210.4 659 L196.4 644.2 L182.8 631.8 L169.8 621.9 L157.8 614.8 L146.9 610.5 L137.4 609.3 L129.4 611 L123.1 615.7 L118.6 623.3 L116.1 633.6 L115.5 646.4 L112.7 648.3 L113.3 635.5 L115.9 625.2 L120.4 617.6 L126.7 612.9 L134.7 611.2 L144.2 612.4 L155.1 616.7 L167.2 623.8 L180.2 633.7 L193.8 646.1 L207.8 660.9 L222 677.6 L235.9 696.1 L249.5 716 L262.4 736.7 L274.3 758.1 L285.1 779.6 L294.5 800.8 L302.3 821.3 L308.4 840.7 L312.7 858.6 L315 874.8 L315.4 888.8 L313.8 900.4 L310.3 909.3 L304.9 915.5 L297.7 918.7 L288.9 918.9 L278.7 916.2 L267.2 910.5Z" fill="url(#dB41)"/><path d="M267.9 910 L279.4 915.7 L289.6 918.5 L298.4 918.3 L305.6 915 L311 908.9 L314.5 899.9 L316.1 888.3 L315.7 874.3 L313.3 858.2 L309.1 840.3 L302.9 820.8 L295.1 800.3 L285.7 779.1 L275 757.6 L263 736.3 L250.2 715.5 L236.6 695.7 L222.6 677.2 L208.4 660.4 L194.4 645.7 L180.8 633.2 L167.8 623.3 L155.8 616.2 L144.9 612 L135.3 610.7 L127.3 612.5 L121 617.2 L116.6 624.7 L114 635 L113.4 647.9 L110.7 649.8 L111.3 637 L113.9 626.7 L118.3 619.1 L124.6 614.4 L132.7 612.6 L142.2 613.9 L153.1 618.1 L165.2 625.2 L178.2 635.1 L191.8 647.5 L205.8 662.3 L220 679 L234 697.5 L247.5 717.3 L260.4 738.1 L272.3 759.5 L283.1 780.9 L292.5 802.1 L300.3 822.6 L306.4 842.1 L310.6 860 L313 876.1 L313.4 890.1 L311.8 901.7 L308.2 910.7 L302.8 916.8 L295.6 920.1 L286.8 920.3 L276.6 917.6 L265.1 911.9Z" fill="url(#dB40)"/><path d="M265.7 911.5 L277.3 917.1 L287.5 919.9 L296.3 919.6 L303.5 916.4 L308.9 910.2 L312.4 901.3 L314 889.7 L313.6 875.7 L311.3 859.6 L307 841.6 L300.9 822.2 L293.1 801.7 L283.7 780.5 L273 759 L261 737.7 L248.2 716.9 L234.6 697.1 L220.6 678.6 L206.5 661.8 L192.4 647.1 L178.8 634.6 L165.8 624.8 L153.8 617.6 L142.9 613.4 L133.3 612.2 L125.3 613.9 L119 618.6 L114.5 626.2 L111.9 636.5 L111.3 649.3 L108.6 651.3 L109.2 638.4 L111.8 628.1 L116.3 620.5 L122.6 615.8 L130.6 614.1 L140.2 615.3 L151.1 619.5 L163.2 626.6 L176.2 636.5 L189.8 648.9 L203.8 663.7 L218 680.4 L232 698.9 L245.5 718.7 L258.4 739.5 L270.3 760.8 L281.1 782.3 L290.5 803.5 L298.3 824 L304.4 843.4 L308.6 861.4 L310.9 877.5 L311.3 891.5 L309.7 903.1 L306.2 912.1 L300.7 918.2 L293.6 921.5 L284.7 921.7 L274.5 919 L262.9 913.3Z" fill="url(#dB39)"/><path d="M263.6 912.9 L275.1 918.5 L285.4 921.3 L294.2 921 L301.4 917.8 L306.8 911.6 L310.4 902.7 L312 891.1 L311.6 877.1 L309.3 860.9 L305 843 L298.9 823.6 L291.1 803.1 L281.7 781.9 L271 760.4 L259.1 739.1 L246.2 718.3 L232.6 698.5 L218.6 680 L204.5 663.2 L190.4 648.5 L176.8 636 L163.8 626.2 L151.8 619.1 L140.8 614.9 L131.3 613.6 L123.3 615.4 L116.9 620.1 L112.5 627.7 L109.9 638 L109.3 650.8 L106.5 652.7 L107.1 639.9 L109.7 629.6 L114.2 622 L120.6 617.3 L128.6 615.5 L138.2 616.7 L149.1 621 L161.2 628.1 L174.2 637.9 L187.8 650.3 L201.8 665.1 L216 681.8 L230 700.3 L243.6 720.1 L256.4 740.9 L268.4 762.2 L279.1 783.7 L288.5 804.9 L296.3 825.4 L302.3 844.8 L306.6 862.7 L308.9 878.9 L309.3 892.9 L307.6 904.5 L304.1 913.4 L298.7 919.6 L291.5 922.9 L282.6 923.1 L272.4 920.4 L260.8 914.7Z" fill="url(#dB38)"/><path d="M261.5 914.3 L273 919.9 L283.3 922.7 L292.1 922.4 L299.3 919.2 L304.8 913 L308.3 904 L309.9 892.4 L309.6 878.4 L307.2 862.3 L303 844.3 L296.9 824.9 L289.1 804.4 L279.7 783.2 L269 761.8 L257.1 740.4 L244.2 719.7 L230.6 699.8 L216.6 681.4 L202.5 664.6 L188.4 649.9 L174.8 637.5 L161.8 627.6 L149.7 620.5 L138.8 616.3 L129.2 615.1 L121.2 616.8 L114.9 621.5 L110.4 629.1 L107.8 639.4 L107.2 652.3 L104.4 654.2 L105.1 641.4 L107.7 631 L112.2 623.4 L118.5 618.7 L126.6 617 L136.2 618.2 L147.1 622.4 L159.2 629.5 L172.2 639.3 L185.8 651.7 L199.8 666.5 L214 683.2 L228 701.7 L241.6 721.5 L254.4 742.2 L266.4 763.6 L277.1 785 L286.5 806.2 L294.3 826.7 L300.3 846.1 L304.6 864.1 L306.9 880.2 L307.2 894.2 L305.6 905.8 L302 914.8 L296.6 921 L289.4 924.2 L280.5 924.5 L270.3 921.8 L258.7 916.1Z" fill="url(#dB37)"/><path d="M259.4 915.7 L270.9 921.3 L281.2 924.1 L290 923.8 L297.2 920.5 L302.7 914.4 L306.2 905.4 L307.9 893.8 L307.5 879.8 L305.2 863.7 L301 845.7 L294.9 826.3 L287.1 805.8 L277.7 784.6 L267 763.1 L255.1 741.8 L242.2 721 L228.6 701.2 L214.6 682.8 L200.5 666 L186.5 651.3 L172.8 638.9 L159.8 629 L147.7 621.9 L136.8 617.7 L127.2 616.5 L119.2 618.3 L112.9 623 L108.3 630.6 L105.7 640.9 L105.1 653.7 L102.4 655.7 L103 642.8 L105.6 632.5 L110.2 624.9 L116.5 620.2 L124.5 618.4 L134.1 619.6 L145.1 623.8 L157.2 630.9 L170.2 640.7 L183.8 653.1 L197.9 667.8 L212 684.6 L226 703.1 L239.6 722.9 L252.4 743.6 L264.4 764.9 L275.1 786.4 L284.5 807.6 L292.2 828.1 L298.3 847.5 L302.5 865.4 L304.8 881.6 L305.2 895.6 L303.5 907.2 L300 916.2 L294.5 922.4 L287.3 925.6 L278.4 925.9 L268.2 923.2 L256.6 917.5Z" fill="url(#dB36)"/><path d="M257.3 917.1 L268.8 922.7 L279.1 925.4 L288 925.2 L295.2 921.9 L300.6 915.7 L304.2 906.8 L305.8 895.2 L305.5 881.1 L303.2 865 L299 847.1 L292.9 827.6 L285.1 807.1 L275.7 786 L265 764.5 L253.1 743.2 L240.2 722.4 L226.6 702.6 L212.7 684.2 L198.5 667.4 L184.5 652.7 L170.8 640.3 L157.8 630.4 L145.7 623.4 L134.8 619.2 L125.2 617.9 L117.2 619.7 L110.8 624.4 L106.3 632 L103.7 642.4 L103 655.2 L100.3 657.1 L100.9 644.3 L103.6 634 L108.1 626.4 L114.5 621.6 L122.5 619.8 L132.1 621.1 L143.1 625.2 L155.2 632.3 L168.2 642.2 L181.8 654.5 L195.9 669.2 L210 686 L224 704.4 L237.6 724.2 L250.5 745 L262.4 766.3 L273.1 787.8 L282.5 808.9 L290.2 829.4 L296.3 848.9 L300.5 866.8 L302.8 882.9 L303.1 897 L301.5 908.6 L297.9 917.6 L292.4 923.7 L285.2 927 L276.4 927.3 L266 924.6 L254.5 918.9Z" fill="url(#dB35)"/><path d="M255.2 918.5 L266.7 924.1 L277 926.8 L285.9 926.6 L293.1 923.3 L298.5 917.1 L302.1 908.1 L303.8 896.5 L303.4 882.5 L301.2 866.4 L296.9 848.4 L290.9 829 L283.1 808.5 L273.7 787.3 L263 765.9 L251.1 744.5 L238.2 723.8 L224.7 704 L210.7 685.5 L196.5 668.8 L182.5 654.1 L168.8 641.7 L155.8 631.9 L143.7 624.8 L132.8 620.6 L123.2 619.4 L115.1 621.2 L108.8 625.9 L104.2 633.5 L101.6 643.8 L100.9 656.7 L98.2 658.6 L98.9 645.7 L101.5 635.4 L106.1 627.8 L112.4 623.1 L120.5 621.3 L130.1 622.5 L141.1 626.7 L153.2 633.7 L166.2 643.6 L179.8 655.9 L193.9 670.6 L208 687.4 L222 705.8 L235.6 725.6 L248.5 746.4 L260.4 767.7 L271.1 789.1 L280.4 810.3 L288.2 830.8 L294.3 850.2 L298.5 868.2 L300.8 884.3 L301.1 898.3 L299.4 909.9 L295.8 918.9 L290.3 925.1 L283.1 928.4 L274.3 928.7 L263.9 926 L252.4 920.3Z" fill="url(#dB34)"/><path d="M253.1 919.9 L264.6 925.5 L274.9 928.2 L283.8 927.9 L291 924.7 L296.5 918.5 L300.1 909.5 L301.7 897.9 L301.4 883.9 L299.1 867.7 L294.9 849.8 L288.9 830.4 L281.1 809.9 L271.7 788.7 L261 767.2 L249.1 745.9 L236.2 725.2 L222.7 705.4 L208.7 686.9 L194.5 670.2 L180.5 655.5 L166.8 643.1 L153.8 633.3 L141.7 626.2 L130.7 622 L121.1 620.8 L113.1 622.6 L106.7 627.3 L102.2 635 L99.5 645.3 L98.9 658.1 L96.1 660.1 L96.8 647.2 L99.5 636.9 L104 629.3 L110.4 624.5 L118.5 622.7 L128.1 623.9 L139.1 628.1 L151.2 635.2 L164.2 645 L177.8 657.4 L191.9 672 L206.1 688.8 L220 707.2 L233.6 727 L246.5 747.7 L258.4 769 L269.1 790.5 L278.4 811.7 L286.2 832.2 L292.2 851.6 L296.4 869.5 L298.7 885.7 L299 899.7 L297.4 911.3 L293.7 920.3 L288.3 926.5 L281 929.8 L272.2 930.1 L261.8 927.4 L250.3 921.7Z" fill="url(#dB33)"/><path d="M250.9 921.3 L262.5 926.9 L272.8 929.6 L281.7 929.3 L288.9 926.1 L294.4 919.9 L298 910.9 L299.7 899.2 L299.4 885.2 L297.1 869.1 L292.9 851.1 L286.9 831.7 L279.1 811.2 L269.7 790.1 L259 768.6 L247.1 747.3 L234.2 726.5 L220.7 706.8 L206.7 688.3 L192.5 671.6 L178.5 656.9 L164.8 644.5 L151.8 634.7 L139.7 627.6 L128.7 623.5 L119.1 622.3 L111 624.1 L104.7 628.8 L100.1 636.4 L97.5 646.7 L96.8 659.6 L94.1 661.5 L94.7 648.7 L97.4 638.3 L102 630.7 L108.4 626 L116.4 624.2 L126.1 625.4 L137 629.5 L149.2 636.6 L162.2 646.4 L175.8 658.8 L189.9 673.4 L204.1 690.2 L218.1 708.6 L231.6 728.4 L244.5 749.1 L256.4 770.4 L267.1 791.9 L276.4 813 L284.2 833.5 L290.2 852.9 L294.4 870.9 L296.7 887 L297 901 L295.3 912.7 L291.7 921.7 L286.2 927.9 L278.9 931.2 L270.1 931.5 L259.7 928.8 L248.2 923.1Z" fill="url(#dB32)"/><path d="M248.8 922.7 L260.4 928.3 L270.7 931 L279.6 930.7 L286.9 927.4 L292.3 921.2 L296 912.2 L297.6 900.6 L297.3 886.6 L295.1 870.5 L290.9 852.5 L284.8 833.1 L277.1 812.6 L267.7 791.4 L257 770 L245.1 748.7 L232.3 727.9 L218.7 708.1 L204.7 689.7 L190.5 673 L176.5 658.3 L162.8 645.9 L149.8 636.1 L137.7 629.1 L126.7 624.9 L117.1 623.7 L109 625.5 L102.6 630.3 L98.1 637.9 L95.4 648.2 L94.7 661.1 L92 663 L92.7 650.1 L95.3 639.8 L99.9 632.2 L106.3 627.4 L114.4 625.6 L124 626.8 L135 631 L147.2 638 L160.2 647.8 L173.9 660.2 L187.9 674.8 L202.1 691.6 L216.1 710 L229.6 729.7 L242.5 750.5 L254.4 771.8 L265.1 793.2 L274.4 814.4 L282.2 834.9 L288.2 854.3 L292.4 872.3 L294.6 888.4 L294.9 902.4 L293.2 914 L289.6 923 L284.1 929.2 L276.8 932.5 L268 932.8 L257.6 930.2 L246 924.5Z" fill="url(#dB31)"/><path d="M246.7 924.1 L258.3 929.7 L268.6 932.4 L277.5 932.1 L284.8 928.8 L290.3 922.6 L293.9 913.6 L295.6 902 L295.3 888 L293 871.8 L288.9 853.9 L282.8 834.5 L275.1 814 L265.7 792.8 L255 771.3 L243.1 750 L230.3 729.3 L216.7 709.5 L202.7 691.1 L188.5 674.4 L174.5 659.7 L160.8 647.4 L147.8 637.6 L135.7 630.5 L124.7 626.3 L115.1 625.2 L107 627 L100.6 631.7 L96 639.3 L93.3 649.7 L92.6 662.5 L89.9 664.5 L90.6 651.6 L93.3 641.3 L97.9 633.6 L104.3 628.9 L112.4 627.1 L122 628.2 L133 632.4 L145.1 639.4 L158.2 649.2 L171.9 661.6 L185.9 676.2 L200.1 693 L214.1 711.4 L227.6 731.1 L240.5 751.9 L252.4 773.2 L263.1 794.6 L272.4 815.8 L280.2 836.3 L286.2 855.7 L290.4 873.6 L292.6 889.8 L292.9 903.8 L291.2 915.4 L287.5 924.4 L282 930.6 L274.8 933.9 L265.9 934.2 L255.5 931.6 L243.9 925.9Z" fill="url(#dB30)"/><path d="M244.6 925.5 L256.2 931.1 L266.5 933.8 L275.4 933.5 L282.7 930.2 L288.2 924 L291.8 915 L293.5 903.3 L293.3 889.3 L291 873.2 L286.8 855.2 L280.8 835.8 L273.1 815.3 L263.8 794.2 L253 772.7 L241.1 751.4 L228.3 730.7 L214.7 710.9 L200.7 692.5 L186.6 675.8 L172.5 661.1 L158.8 648.8 L145.8 639 L133.7 631.9 L122.7 627.8 L113 626.6 L104.9 628.4 L98.5 633.2 L93.9 640.8 L91.3 651.1 L90.6 664 L87.8 665.9 L88.5 653.1 L91.2 642.7 L95.8 635.1 L102.2 630.3 L110.4 628.5 L120 629.7 L131 633.8 L143.1 640.9 L156.2 650.6 L169.9 663 L183.9 677.6 L198.1 694.3 L212.1 712.7 L225.7 732.5 L238.5 753.2 L250.4 774.5 L261.1 796 L270.4 817.1 L278.2 837.6 L284.2 857 L288.3 875 L290.6 891.1 L290.8 905.1 L289.1 916.8 L285.5 925.8 L280 932 L272.7 935.3 L263.8 935.6 L253.4 933 L241.8 927.4Z" fill="url(#dB29)"/><path d="M242.5 926.9 L254.1 932.5 L264.4 935.2 L273.3 934.9 L280.6 931.6 L286.1 925.3 L289.8 916.3 L291.5 904.7 L291.2 890.7 L289 874.5 L284.8 856.6 L278.8 837.2 L271.1 816.7 L261.8 795.5 L251 774.1 L239.1 752.8 L226.3 732.1 L212.7 712.3 L198.7 693.9 L184.6 677.2 L170.5 662.5 L156.8 650.2 L143.8 640.4 L131.7 633.4 L120.7 629.2 L111 628 L102.9 629.9 L96.5 634.6 L91.9 642.2 L89.2 652.6 L88.5 665.5 L85.7 667.4 L86.5 654.5 L89.2 644.2 L93.8 636.5 L100.2 631.8 L108.3 629.9 L118 631.1 L129 635.3 L141.1 642.3 L154.2 652.1 L167.9 664.4 L181.9 679 L196.1 695.7 L210.1 714.1 L223.7 733.9 L236.5 754.6 L248.4 775.9 L259.1 797.3 L268.4 818.5 L276.1 839 L282.1 858.4 L286.3 876.3 L288.5 892.5 L288.8 906.5 L287.1 918.1 L283.4 927.2 L277.9 933.4 L270.6 936.7 L261.7 937 L251.3 934.4 L239.7 928.8Z" fill="url(#dB28)"/><path d="M240.4 928.3 L252 933.9 L262.3 936.6 L271.3 936.2 L278.5 932.9 L284.1 926.7 L287.7 917.7 L289.4 906.1 L289.2 892 L286.9 875.9 L282.8 857.9 L276.8 838.5 L269.1 818.1 L259.8 796.9 L249 775.5 L237.2 754.2 L224.3 733.4 L210.7 713.7 L196.7 695.3 L182.6 678.6 L168.5 663.9 L154.8 651.6 L141.8 641.8 L129.6 634.8 L118.6 630.7 L109 629.5 L100.9 631.3 L94.4 636.1 L89.8 643.7 L87.1 654.1 L86.4 666.9 L83.7 668.9 L84.4 656 L87.1 645.6 L91.7 638 L98.2 633.2 L106.3 631.4 L116 632.6 L127 636.7 L139.1 643.7 L152.2 653.5 L165.9 665.8 L179.9 680.4 L194.1 697.1 L208.1 715.5 L221.7 735.3 L234.5 756 L246.4 777.3 L257.1 798.7 L266.4 819.9 L274.1 840.3 L280.1 859.7 L284.3 877.7 L286.5 893.8 L286.7 907.9 L285 919.5 L281.3 928.5 L275.8 934.8 L268.5 938.1 L259.6 938.4 L249.2 935.7 L237.6 930.2Z" fill="url(#dB27)"/><path d="M238.3 929.7 L249.9 935.3 L260.2 938 L269.2 937.6 L276.5 934.3 L282 928.1 L285.7 919.1 L287.4 907.4 L287.1 893.4 L284.9 877.3 L280.8 859.3 L274.8 839.9 L267.1 819.4 L257.8 798.3 L247.1 776.8 L235.2 755.5 L222.3 734.8 L208.8 715.1 L194.8 696.7 L180.6 680 L166.5 665.3 L152.8 653 L139.8 643.2 L127.6 636.2 L116.6 632.1 L107 630.9 L98.8 632.8 L92.4 637.5 L87.8 645.2 L85.1 655.5 L84.3 668.4 L81.6 670.3 L82.3 657.5 L85.1 647.1 L89.7 639.4 L96.1 634.7 L104.3 632.8 L114 634 L125 638.1 L137.1 645.1 L150.2 654.9 L163.9 667.2 L178 681.8 L192.1 698.5 L206.1 716.9 L219.7 736.6 L232.5 757.4 L244.4 778.6 L255.1 800.1 L264.4 821.2 L272.1 841.7 L278.1 861.1 L282.2 879.1 L284.4 895.2 L284.7 909.2 L282.9 920.9 L279.3 929.9 L273.7 936.1 L266.4 939.5 L257.5 939.8 L247.1 937.1 L235.5 931.6Z" fill="url(#dB26)"/><path d="M236.2 931.1 L247.8 936.7 L258.1 939.3 L267.1 939 L274.4 935.7 L279.9 929.5 L283.6 920.4 L285.3 908.8 L285.1 894.8 L282.9 878.6 L278.7 860.7 L272.8 841.3 L265 820.8 L255.8 799.6 L245.1 778.2 L233.2 756.9 L220.3 736.2 L206.8 716.5 L192.8 698.1 L178.6 681.4 L164.5 666.8 L150.8 654.4 L137.8 644.7 L125.6 637.7 L114.6 633.5 L104.9 632.4 L96.8 634.2 L90.3 639 L85.7 646.6 L83 657 L82.3 669.9 L79.5 671.8 L80.3 658.9 L83 648.6 L87.6 640.9 L94.1 636.1 L102.2 634.3 L111.9 635.4 L123 639.5 L135.1 646.5 L148.2 656.3 L161.9 668.6 L176 683.2 L190.1 699.9 L204.1 718.3 L217.7 738 L230.5 758.7 L242.4 780 L253.1 801.4 L262.4 822.6 L270.1 843.1 L276.1 862.5 L280.2 880.4 L282.4 896.6 L282.6 910.6 L280.9 922.2 L277.2 931.3 L271.6 937.5 L264.3 940.8 L255.4 941.2 L245 938.5 L233.4 933Z" fill="url(#dB25)"/><path d="M234 932.5 L245.7 938.1 L256 940.7 L265 940.4 L272.3 937.1 L277.9 930.8 L281.5 921.8 L283.3 910.2 L283.1 896.1 L280.9 880 L276.7 862 L270.8 842.6 L263 822.1 L253.8 801 L243.1 779.6 L231.2 758.3 L218.3 737.6 L204.8 717.8 L190.8 699.5 L176.6 682.8 L162.5 668.2 L148.8 655.8 L135.8 646.1 L123.6 639.1 L112.6 635 L102.9 633.8 L94.8 635.6 L88.3 640.4 L83.7 648.1 L80.9 658.4 L80.2 671.3 L77.9 673.7 L78.6 660.9 L81.3 650.6 L86 643 L92.4 638.2 L100.5 636.3 L110.2 637.5 L121.2 641.6 L133.3 648.5 L146.3 658.2 L160 670.5 L174 685.1 L188.1 701.7 L202.1 720 L215.6 739.6 L228.4 760.2 L240.2 781.4 L250.8 802.7 L260.1 823.8 L267.7 844.2 L273.7 863.5 L277.8 881.4 L280 897.5 L280.2 911.5 L278.4 923.1 L274.7 932.1 L269.2 938.3 L261.9 941.6 L253 942 L242.6 939.3 L231 933.8Z" fill="url(#dB24)"/><path d="M231.8 933.6 L243.4 939.1 L253.8 941.8 L262.7 941.4 L270 938.1 L275.6 931.9 L279.2 922.9 L281 911.2 L280.8 897.2 L278.6 881.1 L274.5 863.2 L268.5 843.9 L260.8 823.4 L251.6 802.3 L240.9 780.9 L229.1 759.7 L216.3 739.1 L202.7 719.4 L188.8 701.1 L174.6 684.4 L160.6 669.9 L146.9 657.6 L133.9 647.9 L121.7 640.9 L110.7 636.8 L101.1 635.6 L92.9 637.5 L86.5 642.3 L81.8 649.9 L79.1 660.2 L78.4 673.1 L76.3 675.8 L77.1 663 L79.8 652.7 L84.4 645.2 L90.8 640.4 L98.9 638.6 L108.5 639.7 L119.5 643.8 L131.5 650.7 L144.5 660.3 L158.1 672.5 L172 687 L186.1 703.5 L200 721.7 L213.4 741.2 L226.1 761.7 L237.9 782.8 L248.5 804 L257.6 825 L265.3 845.3 L271.2 864.5 L275.2 882.3 L277.4 898.3 L277.6 912.2 L275.9 923.8 L272.2 932.7 L266.7 938.9 L259.4 942.2 L250.5 942.6 L240.2 940 L228.7 934.5Z" fill="url(#dB23)"/><path d="M229.4 934.2 L241 939.8 L251.3 942.4 L260.2 942 L267.5 938.7 L273 932.5 L276.7 923.5 L278.4 912 L278.2 898 L276.1 882 L272 864.2 L266.1 844.9 L258.4 824.6 L249.2 803.6 L238.6 782.4 L226.8 761.3 L214.1 740.7 L200.6 721.1 L186.7 702.9 L172.7 686.4 L158.7 671.9 L145.1 659.7 L132.1 650 L120 643.1 L109.1 639 L99.4 637.8 L91.3 639.7 L84.9 644.4 L80.3 652.1 L77.6 662.3 L76.8 675.1 L74.7 677.8 L75.5 665.1 L78.2 654.9 L82.8 647.4 L89.2 642.6 L97.3 640.8 L106.9 641.9 L117.8 645.9 L129.8 652.8 L142.7 662.4 L156.2 674.5 L170.1 688.9 L184.1 705.3 L197.9 723.4 L211.2 742.9 L223.9 763.3 L235.6 784.2 L246.1 805.3 L255.2 826.2 L262.8 846.4 L268.7 865.5 L272.7 883.2 L274.9 899.1 L275 913 L273.3 924.4 L269.6 933.4 L264.1 939.5 L256.9 942.8 L248 943.2 L237.8 940.6 L226.3 935.1Z" fill="url(#dB22)"/><path d="M227.1 934.9 L238.6 940.4 L248.8 943 L257.7 942.6 L264.9 939.3 L270.4 933.2 L274.1 924.2 L275.9 912.7 L275.7 898.9 L273.5 882.9 L269.5 865.2 L263.6 846 L256 825.8 L246.8 804.9 L236.3 783.8 L224.6 762.8 L211.9 742.4 L198.5 722.9 L184.7 704.7 L170.7 688.3 L156.8 673.9 L143.2 661.7 L130.3 652.1 L118.3 645.2 L107.4 641.2 L97.8 640.1 L89.7 641.9 L83.3 646.6 L78.7 654.2 L76 664.5 L75.2 677.2 L73.2 679.9 L74 667.2 L76.7 657.1 L81.3 649.5 L87.6 644.8 L95.7 643 L105.2 644.1 L116 648.1 L128 655 L140.8 664.5 L154.3 676.5 L168.1 690.9 L182 707.2 L195.7 725.2 L209 744.5 L221.6 764.8 L233.3 785.6 L243.7 806.6 L252.8 827.4 L260.3 847.4 L266.2 866.5 L270.2 884.1 L272.3 899.9 L272.5 913.7 L270.7 925.1 L267.1 934 L261.6 940.1 L254.4 943.4 L245.6 943.8 L235.3 941.2 L223.9 935.8Z" fill="url(#dB21)"/><path d="M224.7 935.6 L236.1 941 L246.4 943.6 L255.2 943.2 L262.4 939.9 L267.9 933.8 L271.6 924.9 L273.3 913.5 L273.1 899.7 L271 883.8 L267 866.2 L261.1 847.1 L253.6 827 L244.5 806.2 L234 785.2 L222.3 764.3 L209.7 744 L196.4 724.6 L182.7 706.6 L168.7 690.2 L154.9 675.9 L141.4 663.8 L128.6 654.3 L116.6 647.4 L105.7 643.4 L96.2 642.3 L88.1 644.1 L81.8 648.8 L77.2 656.4 L74.5 666.6 L73.7 679.2 L71.6 681.9 L72.4 669.4 L75.1 659.2 L79.7 651.7 L86 647 L94 645.2 L103.5 646.3 L114.3 650.3 L126.2 657.1 L139 666.6 L152.4 678.5 L166.1 692.8 L180 709 L193.6 726.9 L206.9 746.1 L219.4 766.3 L231 787 L241.4 807.9 L250.4 828.6 L257.9 848.5 L263.7 867.5 L267.6 885 L269.7 900.7 L269.9 914.4 L268.2 925.8 L264.5 934.7 L259 940.8 L251.9 944 L243.1 944.4 L232.9 941.9 L221.5 936.5Z" fill="url(#dB20)"/><path d="M222.3 936.2 L233.7 941.7 L243.9 944.2 L252.7 943.8 L259.9 940.6 L265.3 934.4 L269 925.6 L270.7 914.2 L270.6 900.5 L268.5 884.7 L264.5 867.1 L258.7 848.2 L251.2 828.2 L242.1 807.5 L231.7 786.6 L220.1 765.8 L207.6 745.6 L194.3 726.4 L180.6 708.4 L166.8 692.2 L153 677.9 L139.6 665.9 L126.8 656.4 L114.9 649.6 L104.1 645.6 L94.5 644.5 L86.5 646.3 L80.2 651 L75.6 658.5 L72.9 668.7 L72.1 681.3 L70.1 684 L70.9 671.5 L73.6 661.4 L78.1 653.9 L84.4 649.3 L92.4 647.4 L101.8 648.5 L112.6 652.5 L124.4 659.2 L137.2 668.7 L150.5 680.6 L164.2 694.7 L177.9 710.9 L191.5 728.7 L204.7 747.8 L217.1 767.8 L228.6 788.5 L239 809.2 L248 829.7 L255.4 849.6 L261.2 868.4 L265.1 885.9 L267.2 901.6 L267.4 915.2 L265.6 926.5 L262 935.3 L256.5 941.4 L249.3 944.6 L240.6 945 L230.5 942.5 L219.2 937.1Z" fill="url(#dB19)"/><path d="M219.9 936.9 L231.3 942.3 L241.4 944.8 L250.2 944.5 L257.3 941.2 L262.8 935.1 L266.4 926.3 L268.2 915 L268 901.3 L265.9 885.6 L262 868.1 L256.2 849.3 L248.7 829.4 L239.7 808.8 L229.4 788 L217.9 767.4 L205.4 747.3 L192.2 728.1 L178.6 710.3 L164.8 694.1 L151.1 679.9 L137.7 668 L125 658.5 L113.2 651.8 L102.4 647.8 L92.9 646.7 L84.9 648.6 L78.6 653.2 L74.1 660.7 L71.3 670.8 L70.6 683.3 L68.5 686 L69.3 673.6 L72 663.6 L76.5 656.1 L82.8 651.5 L90.8 649.7 L100.2 650.7 L110.9 654.7 L122.7 661.4 L135.3 670.7 L148.6 682.6 L162.2 696.7 L175.9 712.7 L189.4 730.4 L202.5 749.4 L214.9 769.4 L226.3 789.9 L236.6 810.5 L245.5 830.9 L252.9 850.7 L258.7 869.4 L262.6 886.8 L264.6 902.4 L264.8 915.9 L263 927.2 L259.4 936 L254 942 L246.8 945.3 L238.1 945.6 L228.1 943.1 L216.8 937.8Z" fill="url(#dB18)"/><path d="M217.5 937.6 L228.8 942.9 L238.9 945.4 L247.6 945.1 L254.8 941.8 L260.2 935.7 L263.9 927 L265.6 915.7 L265.5 902.1 L263.4 886.5 L259.5 869.1 L253.7 850.4 L246.3 830.6 L237.4 810.1 L227.1 789.4 L215.6 768.9 L203.2 748.9 L190.1 729.8 L176.6 712.1 L162.8 696 L149.2 681.9 L135.9 670.1 L123.2 660.7 L111.4 654 L100.7 650 L91.3 649 L83.3 650.8 L77 655.4 L72.5 662.9 L69.8 672.9 L69 685.4 L66.9 688.1 L67.7 675.7 L70.4 665.7 L75 658.3 L81.2 653.7 L89.1 651.9 L98.5 652.9 L109.2 656.8 L120.9 663.5 L133.5 672.8 L146.7 684.6 L160.2 698.6 L173.9 714.5 L187.3 732.1 L200.3 751 L212.6 770.9 L224 791.3 L234.3 811.8 L243.1 832.1 L250.5 851.8 L256.1 870.4 L260 887.7 L262.1 903.2 L262.2 916.7 L260.5 927.9 L256.8 936.6 L251.4 942.6 L244.3 945.9 L235.7 946.2 L225.6 943.8 L214.4 938.5Z" fill="url(#dB17)"/><path d="M215.2 938.3 L226.4 943.6 L236.5 946 L245.1 945.7 L252.2 942.4 L257.7 936.4 L261.3 927.7 L263 916.4 L262.9 902.9 L260.9 887.4 L256.9 870.1 L251.3 851.4 L243.9 831.7 L235 811.4 L224.8 790.8 L213.4 770.4 L201 750.5 L188 731.6 L174.5 713.9 L160.9 698 L147.3 683.9 L134.1 672.1 L121.5 662.8 L109.7 656.1 L99 652.2 L89.7 651.2 L81.8 653 L75.5 657.6 L70.9 665 L68.2 675 L67.4 687.4 L65.4 690.1 L66.2 677.8 L68.9 667.9 L73.4 660.5 L79.6 655.9 L87.5 654.1 L96.8 655.1 L107.4 659 L119.1 665.6 L131.7 674.9 L144.8 686.6 L158.3 700.5 L171.8 716.4 L185.2 733.9 L198.1 752.7 L210.4 772.4 L221.7 792.7 L231.9 813.1 L240.7 833.3 L248 852.9 L253.6 871.4 L257.5 888.6 L259.5 904 L259.7 917.4 L257.9 928.6 L254.3 937.2 L248.9 943.2 L241.8 946.5 L233.2 946.9 L223.2 944.4 L212 939.1Z" fill="url(#dB16)"/><path d="M212.8 938.9 L224 944.2 L234 946.7 L242.6 946.3 L249.7 943 L255.1 937 L258.7 928.4 L260.5 917.2 L260.3 903.7 L258.3 888.3 L254.4 871.1 L248.8 852.5 L241.5 832.9 L232.6 812.7 L222.5 792.2 L211.1 771.9 L198.8 752.2 L185.9 733.3 L172.5 715.8 L158.9 699.9 L145.4 686 L132.2 674.2 L119.7 665 L108 658.3 L97.4 654.4 L88 653.4 L80.2 655.2 L73.9 659.8 L69.4 667.2 L66.7 677.1 L65.9 689.5 L63.8 692.2 L64.6 679.9 L67.3 670.1 L71.8 662.7 L78.1 658.1 L85.9 656.3 L95.2 657.4 L105.7 661.2 L117.4 667.8 L129.8 677 L142.9 688.6 L156.3 702.4 L169.8 718.2 L183.1 735.6 L196 754.3 L208.1 773.9 L219.4 794.1 L229.5 814.4 L238.3 834.5 L245.5 854 L251.1 872.4 L255 889.5 L257 904.8 L257.1 918.2 L255.3 929.3 L251.7 937.9 L246.4 943.9 L239.3 947.1 L230.7 947.5 L220.8 945 L209.7 939.8Z" fill="url(#dB15)"/><path d="M210.4 939.6 L221.6 944.8 L231.5 947.3 L240.1 946.9 L247.2 943.7 L252.6 937.7 L256.2 929.1 L257.9 917.9 L257.8 904.6 L255.8 889.2 L251.9 872.1 L246.3 853.6 L239.1 834.1 L230.3 814 L220.1 793.7 L208.9 773.5 L196.7 753.8 L183.8 735.1 L170.4 717.6 L156.9 701.8 L143.5 688 L130.4 676.3 L117.9 667.1 L106.3 660.5 L95.7 656.7 L86.4 655.6 L78.6 657.4 L72.3 662 L67.8 669.4 L65.1 679.3 L64.3 691.5 L62.3 694.2 L63.1 682.1 L65.8 672.2 L70.3 664.9 L76.5 660.4 L84.3 658.5 L93.5 659.6 L104 663.4 L115.6 669.9 L128 679.1 L141 690.6 L154.3 704.4 L167.7 720.1 L181 737.4 L193.8 756 L205.9 775.5 L217.1 795.5 L227.1 815.7 L235.9 835.7 L243.1 855 L248.6 873.4 L252.4 890.3 L254.4 905.6 L254.5 918.9 L252.8 930 L249.2 938.5 L243.8 944.5 L236.8 947.7 L228.3 948.1 L218.4 945.7 L207.3 940.5Z" fill="url(#dB14)"/><path d="M208.1 940.3 L219.1 945.5 L229.1 947.9 L237.6 947.5 L244.6 944.3 L250 938.3 L253.6 929.7 L255.3 918.7 L255.2 905.4 L253.2 890.1 L249.4 873.1 L243.9 854.7 L236.6 835.3 L227.9 815.3 L217.8 795.1 L206.6 775 L194.5 755.4 L181.7 736.8 L168.4 719.5 L154.9 703.8 L141.6 690 L128.6 678.4 L116.1 669.2 L104.6 662.7 L94 658.9 L84.8 657.8 L77 659.6 L70.8 664.2 L66.3 671.5 L63.6 681.4 L62.8 693.6 L60.7 696.3 L61.5 684.2 L64.2 674.4 L68.7 667.1 L74.9 662.6 L82.6 660.8 L91.8 661.8 L102.3 665.6 L113.8 672.1 L126.1 681.2 L139.1 692.6 L152.3 706.3 L165.7 721.9 L178.9 739.1 L191.6 757.6 L203.6 777 L214.8 796.9 L224.8 817 L233.4 836.9 L240.6 856.1 L246.1 874.4 L249.9 891.2 L251.9 906.4 L252 919.7 L250.2 930.7 L246.6 939.2 L241.3 945.1 L234.3 948.3 L225.8 948.7 L215.9 946.3 L204.9 941.1Z" fill="url(#dB13)"/><path d="M205.7 940.9 L216.7 946.1 L226.6 948.5 L235.1 948.1 L242.1 944.9 L247.4 939 L251 930.4 L252.8 919.4 L252.7 906.2 L250.7 891 L246.9 874 L241.4 855.8 L234.2 836.5 L225.5 816.6 L215.5 796.5 L204.4 776.5 L192.3 757.1 L179.5 738.6 L166.3 721.3 L153 705.7 L139.7 692 L126.7 680.5 L114.4 671.4 L102.8 664.9 L92.4 661.1 L83.1 660.1 L75.4 661.9 L69.2 666.4 L64.7 673.7 L62 683.5 L61.2 695.6 L59.1 698.3 L60 686.3 L62.7 676.5 L67.1 669.3 L73.3 664.8 L81 663 L90.2 664 L100.6 667.7 L112 674.2 L124.3 683.2 L137.2 694.7 L150.4 708.2 L163.6 723.7 L176.7 740.9 L189.4 759.2 L201.4 778.5 L212.5 798.4 L222.4 818.3 L231 838.1 L238.1 857.2 L243.6 875.4 L247.4 892.1 L249.3 907.3 L249.4 920.4 L247.6 931.3 L244.1 939.8 L238.7 945.7 L231.8 948.9 L223.3 949.3 L213.5 946.9 L202.6 941.8Z" fill="url(#dB12)"/><path d="M203.3 941.6 L214.3 946.7 L224.1 949.1 L232.6 948.7 L239.6 945.5 L244.9 939.6 L248.5 931.1 L250.2 920.2 L250.1 907 L248.2 891.9 L244.4 875 L238.9 856.9 L231.8 837.7 L223.1 817.9 L213.2 797.9 L202.1 778 L190.1 758.7 L177.4 740.3 L164.3 723.2 L151 707.6 L137.8 694 L124.9 682.6 L112.6 673.5 L101.1 667.1 L90.7 663.3 L81.5 662.3 L73.8 664.1 L67.6 668.6 L63.2 675.9 L60.5 685.6 L59.6 697.7 L57.6 700.4 L58.4 688.4 L61.1 678.7 L65.5 671.5 L71.7 667 L79.4 665.2 L88.5 666.2 L98.8 669.9 L110.2 676.3 L122.5 685.3 L135.3 696.7 L148.4 710.2 L161.6 725.6 L174.6 742.6 L187.2 760.9 L199.1 780.1 L210.1 799.8 L220 819.6 L228.6 839.3 L235.6 858.3 L241.1 876.3 L244.8 893 L246.7 908.1 L246.8 921.2 L245.1 932 L241.5 940.5 L236.2 946.3 L229.3 949.5 L220.9 949.9 L211.1 947.6 L200.2 942.5Z" fill="url(#dB11)"/><path d="M200.9 942.3 L211.9 947.4 L221.6 949.7 L230.1 949.3 L237 946.2 L242.3 940.3 L245.9 931.8 L247.6 920.9 L247.6 907.8 L245.6 892.8 L241.9 876 L236.4 858 L229.3 838.9 L220.8 819.2 L210.9 799.3 L199.9 779.6 L187.9 760.3 L175.3 742 L162.3 725 L149 709.6 L135.9 696 L123.1 684.7 L110.8 675.7 L99.4 669.2 L89 665.5 L79.9 664.5 L72.2 666.3 L66 670.8 L61.6 678 L58.9 687.7 L58.1 699.7 L56 702.4 L56.9 690.5 L59.5 680.9 L64 673.7 L70.1 669.2 L77.7 667.4 L86.8 668.4 L97.1 672.1 L108.5 678.5 L120.6 687.4 L133.4 698.7 L146.4 712.1 L159.6 727.4 L172.5 744.3 L185 762.5 L196.9 781.6 L207.8 801.2 L217.6 820.9 L226.1 840.5 L233.2 859.4 L238.6 877.3 L242.3 893.9 L244.2 908.9 L244.3 921.9 L242.5 932.7 L239 941.1 L233.7 947 L226.8 950.1 L218.4 950.5 L208.7 948.2 L197.8 943.1Z" fill="url(#dB10)"/><path d="M198.6 942.9 L209.4 948 L219.2 950.3 L227.6 949.9 L234.5 946.8 L239.8 940.9 L243.3 932.5 L245.1 921.7 L245 908.6 L243.1 893.6 L239.4 877 L234 859 L226.9 840.1 L218.4 820.5 L208.6 800.7 L197.6 781.1 L185.7 762 L173.2 743.8 L160.2 726.8 L147.1 711.5 L134 698 L121.2 686.7 L109 677.8 L97.7 671.4 L87.3 667.7 L78.3 666.7 L70.6 668.5 L64.5 673 L60 680.2 L57.4 689.8 L56.5 701.8 L54.5 704.5 L55.3 692.6 L58 683 L62.4 675.9 L68.5 671.4 L76.1 669.7 L85.1 670.6 L95.4 674.3 L106.7 680.6 L118.8 689.5 L131.5 700.7 L144.4 714.1 L157.5 729.3 L170.4 746.1 L182.9 764.1 L194.6 783.1 L205.5 802.6 L215.3 822.3 L223.7 841.7 L230.7 860.5 L236.1 878.3 L239.7 894.8 L241.6 909.7 L241.7 922.7 L239.9 933.4 L236.4 941.8 L231.1 947.6 L224.3 950.7 L215.9 951.1 L206.2 948.8 L195.4 943.8Z" fill="url(#dB9)"/><path d="M196.2 943.6 L207 948.6 L216.7 950.9 L225.1 950.5 L231.9 947.4 L237.2 941.6 L240.8 933.2 L242.5 922.4 L242.4 909.4 L240.6 894.5 L236.9 878 L231.5 860.1 L224.5 841.3 L216 821.8 L206.2 802.2 L195.4 782.6 L183.6 763.6 L171.1 745.5 L158.2 728.7 L145.1 713.4 L132.1 700.1 L119.4 688.8 L107.3 679.9 L96 673.6 L85.7 669.9 L76.6 668.9 L69 670.7 L62.9 675.2 L58.5 682.3 L55.8 691.9 L55 703.8 L52.9 706.5 L53.8 694.7 L56.4 685.2 L60.8 678.1 L66.9 673.7 L74.5 671.9 L83.5 672.8 L93.7 676.5 L104.9 682.8 L116.9 691.6 L129.5 702.7 L142.5 716 L155.5 731.1 L168.3 747.8 L180.7 765.8 L192.4 784.6 L203.2 804 L212.9 823.6 L221.3 842.9 L228.2 861.6 L233.6 879.3 L237.2 895.7 L239.1 910.5 L239.1 923.4 L237.4 934.1 L233.8 942.4 L228.6 948.2 L221.8 951.3 L213.4 951.8 L203.8 949.4 L193.1 944.5Z" fill="url(#dB8)"/><path d="M193.8 944.3 L204.6 949.2 L214.2 951.6 L222.6 951.1 L229.4 948 L234.7 942.2 L238.2 933.9 L239.9 923.2 L239.9 910.3 L238 895.4 L234.4 879 L229 861.2 L222.1 842.5 L213.6 823.1 L203.9 803.6 L193.1 784.2 L181.4 765.3 L169 747.3 L156.1 730.5 L143.1 715.4 L130.2 702.1 L117.5 690.9 L105.5 682.1 L94.2 675.8 L84 672.1 L75 671.2 L67.4 672.9 L61.3 677.4 L56.9 684.5 L54.3 694.1 L53.4 705.9 L51.4 708.6 L52.2 696.8 L54.9 687.4 L59.2 680.3 L65.3 675.9 L72.8 674.1 L81.8 675 L92 678.7 L103.1 684.9 L115.1 693.7 L127.6 704.7 L140.5 717.9 L153.4 733 L166.2 749.6 L178.5 767.4 L190.1 786.2 L200.9 805.4 L210.5 824.9 L218.9 844.1 L225.7 862.7 L231.1 880.3 L234.7 896.6 L236.5 911.3 L236.6 924.1 L234.8 934.8 L231.3 943.1 L226.1 948.8 L219.2 951.9 L211 952.4 L201.4 950.1 L190.7 945.1Z" fill="url(#dB7)"/><path d="M191.5 944.9 L202.2 949.9 L211.8 952.2 L220.1 951.8 L226.9 948.6 L232.1 942.9 L235.6 934.6 L237.4 923.9 L237.3 911.1 L235.5 896.3 L231.9 880 L226.5 862.3 L219.6 843.7 L211.3 824.4 L201.6 805 L190.8 785.7 L179.2 766.9 L166.8 749 L154.1 732.4 L141.1 717.3 L128.2 704.1 L115.7 693 L103.7 684.2 L92.5 678 L82.3 674.3 L73.4 673.4 L65.8 675.2 L59.8 679.6 L55.4 686.7 L52.7 696.2 L51.9 707.9 L49.8 710.6 L50.7 699 L53.3 689.5 L57.7 682.5 L63.7 678.1 L71.2 676.3 L80.1 677.2 L90.2 680.9 L101.3 687.1 L113.3 695.7 L125.7 706.8 L138.5 719.9 L151.4 734.8 L164 751.3 L176.3 769.1 L187.9 787.7 L198.5 806.9 L208.1 826.2 L216.4 845.3 L223.3 863.7 L228.5 881.3 L232.1 897.5 L233.9 912.2 L234 924.9 L232.2 935.5 L228.7 943.7 L223.5 949.5 L216.7 952.6 L208.5 953 L199 950.7 L188.3 945.8Z" fill="url(#dB6)"/><path d="M189.1 945.6 L199.7 950.5 L209.3 952.8 L217.5 952.4 L224.3 949.3 L229.5 943.5 L233.1 935.3 L234.8 924.7 L234.8 911.9 L232.9 897.2 L229.3 881 L224.1 863.4 L217.2 844.9 L208.9 825.8 L199.3 806.4 L188.6 787.2 L177 768.5 L164.7 750.8 L152 734.2 L139.1 719.2 L126.3 706.1 L113.8 695.1 L101.9 686.4 L90.8 680.2 L80.7 676.5 L71.7 675.6 L64.2 677.4 L58.2 681.8 L53.8 688.8 L51.2 698.3 L50.3 710 L48.3 712.7 L49.1 701.1 L51.8 691.7 L56.1 684.7 L62.1 680.3 L69.6 678.5 L78.4 679.5 L88.5 683 L99.6 689.2 L111.4 697.8 L123.8 708.8 L136.5 721.8 L149.3 736.7 L161.9 753.1 L174.1 770.7 L185.6 789.2 L196.2 808.3 L205.7 827.5 L214 846.5 L220.8 864.8 L226 882.3 L229.6 898.4 L231.4 913 L231.4 925.6 L229.7 936.2 L226.2 944.4 L221 950.1 L214.2 953.2 L206 953.6 L196.5 951.3 L186 946.5Z" fill="url(#dB5)"/><path d="M186.7 946.2 L197.3 951.1 L206.8 953.4 L215 953 L221.8 949.9 L227 944.2 L230.5 936 L232.2 925.4 L232.2 912.7 L230.4 898.1 L226.8 882 L221.6 864.5 L214.8 846.1 L206.5 827.1 L197 807.8 L186.3 788.7 L174.8 770.2 L162.6 752.5 L150 736.1 L137.2 721.2 L124.4 708.1 L112 697.2 L100.1 688.5 L89.1 682.3 L79 678.8 L70.1 677.8 L62.6 679.6 L56.6 684 L52.3 691 L49.6 700.4 L48.8 712 L46.7 714.7 L47.6 703.2 L50.2 693.8 L54.5 686.9 L60.5 682.5 L68 680.8 L76.8 681.7 L86.8 685.2 L97.8 691.3 L109.6 699.9 L121.9 710.8 L134.6 723.7 L147.3 738.5 L159.8 754.8 L171.9 772.4 L183.3 790.8 L193.9 809.7 L203.4 828.8 L211.6 847.6 L218.3 865.9 L223.5 883.3 L227 899.3 L228.8 913.8 L228.8 926.4 L227.1 936.9 L223.6 945 L218.5 950.7 L211.7 953.8 L203.6 954.2 L194.1 952 L183.6 947.1Z" fill="url(#dB4)"/><path d="M184.4 946.9 L194.9 951.8 L204.4 954 L212.5 953.6 L219.3 950.5 L224.4 944.8 L227.9 936.6 L229.7 926.2 L229.6 913.5 L227.8 899 L224.3 883 L219.1 865.6 L212.3 847.3 L204.1 828.4 L194.6 809.2 L184.1 790.3 L172.6 771.8 L160.5 754.3 L147.9 737.9 L135.2 723.1 L122.5 710.1 L110.2 699.3 L98.4 690.7 L87.3 684.5 L77.3 681 L68.5 680.1 L61 681.8 L55 686.2 L50.7 693.2 L48.1 702.5 L47.2 714.1 L45.2 716.8 L46 705.3 L48.6 696 L53 689.1 L58.9 684.7 L66.3 683 L75.1 683.9 L85.1 687.4 L96 693.5 L107.7 702 L120 712.8 L132.6 725.7 L145.2 740.4 L157.7 756.6 L169.7 774 L181.1 792.3 L191.6 811.1 L201 830.1 L209.1 848.8 L215.8 867 L221 884.3 L224.5 900.2 L226.3 914.6 L226.3 927.1 L224.5 937.6 L221 945.7 L215.9 951.3 L209.2 954.4 L201.1 954.8 L191.7 952.6 L181.2 947.8Z" fill="url(#dB3)"/><path d="M182 947.6 L192.5 952.4 L201.9 954.6 L210 954.2 L216.7 951.1 L221.9 945.5 L225.3 937.3 L227.1 926.9 L227.1 914.4 L225.3 899.9 L221.8 883.9 L216.6 866.7 L209.9 848.5 L201.7 829.7 L192.3 810.7 L181.8 791.8 L170.4 773.5 L158.4 756 L145.9 739.8 L133.2 725.1 L120.6 712.2 L108.3 701.3 L96.6 692.8 L85.6 686.7 L75.6 683.2 L66.8 682.3 L59.4 684 L53.5 688.4 L49.1 695.3 L46.5 704.6 L45.7 716.1 L43.6 718.8 L44.5 707.4 L47.1 698.2 L51.4 691.3 L57.3 687 L64.7 685.2 L73.4 686.1 L83.3 689.6 L94.2 695.6 L105.9 704.1 L118.1 714.8 L130.6 727.6 L143.2 742.2 L155.6 758.3 L167.5 775.6 L178.8 793.8 L189.3 812.5 L198.6 831.4 L206.7 850 L213.4 868.1 L218.5 885.3 L221.9 901.1 L223.7 915.4 L223.7 927.9 L222 938.2 L218.5 946.3 L213.4 951.9 L206.7 955 L198.6 955.4 L189.3 953.2 L178.9 948.5Z" fill="url(#dB2)"/><path d="M179.6 948.2 L190.1 953 L199.4 955.2 L207.5 954.8 L214.2 951.7 L219.3 946.1 L222.8 938 L224.5 927.6 L224.5 915.2 L222.8 900.8 L219.3 884.9 L214.2 867.8 L207.5 849.7 L199.4 831 L190 812.1 L179.6 793.3 L168.2 775.1 L156.2 757.8 L143.8 741.6 L131.2 727 L118.7 714.2 L106.5 703.4 L94.8 694.9 L83.9 688.9 L74 685.4 L65.2 684.5 L57.8 686.3 L51.9 690.6 L47.6 697.5 L45 706.7 L44.1 718.2 L42.1 720.9 L42.9 709.5 L45.5 700.3 L49.8 693.5 L55.7 689.2 L63.1 687.4 L71.7 688.3 L81.6 691.8 L92.4 697.8 L104 706.2 L116.2 716.8 L128.6 729.6 L141.1 744.1 L153.4 760.1 L165.3 777.3 L176.6 795.4 L186.9 814 L196.2 832.7 L204.3 851.2 L210.9 869.2 L216 886.2 L219.4 902 L221.1 916.3 L221.1 928.6 L219.4 938.9 L215.9 947 L210.8 952.6 L204.2 955.6 L196.2 956 L186.9 953.9 L176.5 949.1Z" fill="url(#dB1)"/><path d="M177.2 948.9 L187.6 953.7 L197 955.8 L205 955.4 L211.7 952.4 L216.8 946.8 L220.2 938.7 L222 928.4 L222 916 L220.2 901.7 L216.8 885.9 L211.7 868.9 L205 850.9 L197 832.3 L187.7 813.5 L177.3 794.9 L166 776.8 L154.1 759.5 L141.8 743.5 L129.3 728.9 L116.8 716.2 L104.6 705.5 L93 697.1 L82.2 691.1 L72.3 687.6 L63.6 686.7 L56.2 688.5 L50.3 692.8 L46 699.6 L43.4 708.8 L42.6 720.2 L40.5 722.9 L41.4 711.6 L44 702.5 L48.3 695.7 L54.1 691.4 L61.4 689.7 L70.1 690.5 L79.9 694 L90.7 699.9 L102.2 708.3 L114.3 718.9 L126.6 731.5 L139.1 745.9 L151.3 761.8 L163.1 778.9 L174.3 796.9 L184.6 815.4 L193.8 834 L201.8 852.4 L208.4 870.3 L213.4 887.2 L216.9 902.9 L218.6 917.1 L218.6 929.4 L216.8 939.6 L213.4 947.6 L208.3 953.2 L201.7 956.2 L193.7 956.6 L184.4 954.5 L174.1 949.8Z" fill="url(#dB0)"/><path d="M36.3 730.2 L36.3 724.1 L36.8 718.5 L37.6 713.4 L38.9 708.9 L40.6 704.9 L42.7 701.6 L47.6 696.2 L50.1 693.4 L53.1 691.2 L56.4 689.7 L60 688.9 L64.1 688.6 L68.4 689.1 L73 690.1 L78 691.9 L83.2 694.2 L88.6 697.2 L94.2 700.8 L100 705 L105.9 709.8 L112 715.1 L118.1 721 L124.3 727.3 L130.6 734.1 L136.8 741.3 L143 749 L149.1 757 L155.2 765.3 L161.1 773.8 L166.9 782.7 L172.5 791.7 L177.9 800.9 L183.1 810.1 L188 819.5 L192.6 828.8 L197 838.2 L201 847.4 L204.6 856.5 L207.9 865.5 L210.9 874.2 L213.4 882.8 L215.5 891 L217.2 898.8 L218.5 906.3 L219.4 913.4 L219.8 920.1 L219.8 926.3 L219.4 932 L218.5 937.1 L217.2 941.7 L215.5 945.7 L213.3 949.1 L210.8 951.9 L207.9 954 L204.6 955.6 L198 958 L194.3 958.9 L190.3 959.1 L186.1 958.7 L181.5 957.6 L176.6 955.9 L171.5 953.6 L166.1 950.6 L160.6 947.1 L154.8 942.9 L149 938.2 L143 932.9 L136.9 927.2 L130.8 920.9 L124.6 914.2 L118.4 907 L112.3 899.5 L106.2 891.6 L100.2 883.4 L94.4 874.9 L88.6 866.1 L83.1 857.2 L77.8 848.1 L72.6 839 L67.8 829.7 L63.2 820.5 L58.9 811.3 L55 802.1 L51.3 793.1 L48.1 784.2 L45.2 775.6 L42.7 767.2 L40.6 759 L38.9 751.3 L37.6 743.8 L36.7 736.8Z" fill="url(#dEdge)"/><path d="M178 954.3 L181.6 955.7 L185.1 956.8 L188.4 957.5 L191.5 958 L194.5 958 L197.4 957.8 L200 957.2 L202.5 956.3 L204.7 955 L206.8 953.4 L208.7 951.5 L210.4 949.3 L211.8 946.8 L213.1 943.9 L214.1 940.8 L214.9 937.4 L215.5 933.7 L215.9 929.7 L216 925.4 L215.9 920.9 L215.6 916.2 L215.1 911.2 L214.4 906 L213.4 900.6 L212.2 895 L210.8 889.2 L209.2 883.3 L207.4 877.2 L205.4 871 L203.2 864.7 L200.8 858.3 L198.2 851.8 L195.4 845.2 L192.5 838.6 L189.4 831.9 L186.1 825.2 L182.7 818.6 L179.2 811.9 L175.5 805.3 L171.7 798.7 L167.8 792.2 L163.8 785.7 L159.7 779.4 L155.5 773.2 L151.2 767.1 L146.9 761.2 L142.5 755.4 L138.1 749.8 L133.7 744.3 L129.2 739.1 L124.8 734.1 L120.3 729.4 L115.9 724.8 L111.5 720.5 L107.1 716.5 L102.8 712.8 L98.5 709.3 L94.3 706.2 L90.2 703.3 L86.2 700.7 L82.3 698.5 L78.5 696.5 L74.9 694.9 L71.3 693.6 L67.9 692.7 L64.7 692.1 L61.6 691.8 L58.7 691.8 L55.9 692.2 L53.4 692.9 L51 694 L48.8 695.4 L46.8 697.1 L45 699.1 L43.4 701.4 L42 704.1 L40.8 707.1 L39.9 710.3 L39.2 713.9 L38.7 717.7" stroke="#4c4c4c" stroke-width="1.6" fill="none"/><ellipse cx="124.7" cy="826.6" rx="150.8" ry="51.4" transform="rotate(59.5 124.7 826.6)" fill="url(#dFace)"/><clipPath id="dOpen"><ellipse cx="126.7" cy="825.6" rx="111" ry="37.5" transform="rotate(59.5 126.7 825.6)"/></clipPath><g clip-path="url(#dOpen)"><ellipse cx="126.7" cy="825.6" rx="111" ry="37.5" transform="rotate(59.5 126.7 825.6)" fill="url(#dWall)"/><clipPath id="dLens"><ellipse cx="150.5" cy="807" rx="80" ry="19.5" transform="rotate(60.5 150.5 807)"/></clipPath><g clip-path="url(#dLens)"><ellipse cx="126.7" cy="825.6" rx="111" ry="37.5" transform="rotate(59.5 126.7 825.6)" fill="#fcfdfc"/></g><path d="M183 921.2 L185.2 919.7 L187 917.7 L188.5 915.2 L189.8 912.3 L190.7 909 L191.3 905.2 L191.6 901.1 L191.6 896.6 L191.3 891.8 L190.6 886.6 L189.7 881.2 L188.4 875.5 L186.8 869.5 L185 863.3 L182.9 856.9 L180.4 850.4 L177.8 843.8 L174.8 837.1 L171.7 830.3 L168.3 823.5 L164.7 816.7 L161 809.9 L157 803.2 L152.9 796.7 L148.7 790.2 L144.4 784 L140 777.9 L135.6 772.1 L131 766.6 L126.5 761.3 L122 756.3 L117.5 751.7 L113 747.5 L108.6 743.6 L104.3 740.1 L100.1 737 L96 734.4 L92.1 732.2 L88.4 730.5 L84.8 729.2 L81.5 728.4 L78.3 728.1 L75.4 728.2 L72.8 728.9 L70.4 730 L68.2 731.5 L66.4 733.5 L64.9 736 L63.6 738.9 L62.7 742.2 L62.1 746 L61.8 750.1 L61.8 754.6 L62.1 759.4 L62.8 764.6 L63.7 770 L65 775.7 L66.6 781.7 L68.4 787.9 L70.5 794.3 L73 800.8 L75.6 807.4 L78.6 814.1 L81.7 820.9 L85.1 827.7 L88.7 834.5 L92.4 841.3 L96.4 848 L100.5 854.5 L104.7 861 L109 867.2 L113.4 873.3 L117.8 879.1 L122.4 884.6 L126.9 889.9 L131.4 894.9 L135.9 899.5 L140.4 903.7 L144.8 907.6 L149.1 911.1 L153.3 914.2 L157.4 916.8 L161.3 919 L165 920.7 L168.6 922 L171.9 922.8 L175.1 923.1 L178 923 L180.6 922.3 L183 921.2Z M184.5 907.8 L186.3 906.4 L187.9 904.6 L189.3 902.4 L190.3 899.8 L191.1 896.8 L191.6 893.5 L191.9 889.8 L191.8 885.8 L191.5 881.5 L190.9 876.8 L190 871.9 L188.8 866.8 L187.4 861.4 L185.7 855.9 L183.7 850.2 L181.5 844.3 L179.1 838.3 L176.4 832.3 L173.6 826.2 L170.5 820.1 L167.3 813.9 L163.9 807.9 L160.3 801.9 L156.7 795.9 L152.9 790.1 L149 784.5 L145.1 779 L141.1 773.8 L137 768.8 L132.9 764 L128.9 759.5 L124.9 755.4 L120.9 751.5 L116.9 748 L113.1 744.8 L109.4 742 L105.7 739.7 L102.2 737.7 L98.9 736.1 L95.7 734.9 L92.7 734.2 L90 733.8 L87.4 733.9 L85.1 734.5 L82.9 735.4 L81.1 736.8 L79.5 738.6 L78.1 740.8 L77.1 743.4 L76.3 746.4 L75.8 749.7 L75.5 753.4 L75.6 757.4 L75.9 761.7 L76.5 766.4 L77.4 771.3 L78.6 776.4 L80 781.8 L81.7 787.3 L83.7 793 L85.9 798.9 L88.3 804.9 L91 810.9 L93.8 817 L96.9 823.1 L100.1 829.3 L103.5 835.3 L107.1 841.3 L110.7 847.3 L114.5 853.1 L118.4 858.7 L122.3 864.2 L126.3 869.4 L130.4 874.4 L134.5 879.2 L138.5 883.7 L142.5 887.8 L146.5 891.7 L150.5 895.2 L154.3 898.4 L158 901.2 L161.7 903.5 L165.2 905.5 L168.5 907.1 L171.7 908.3 L174.7 909 L177.4 909.4 L180 909.3 L182.3 908.7 L184.5 907.8Z" fill="#8e8e8e" fill-rule="evenodd"/><path d="M90.8 803 L114.9 794.7 L146 856 L128 868 L103.5 831.4Z" fill="#424242"/><path d="M148 903 L165 893 L190 905 L184 916 L163 917Z" fill="#484848"/><path d="M63 742 L74 729 L87 733 L88 762 L76 768 L66 765Z" fill="#6c6c6c"/><path d="M103 822 L118 812 L136 848 L124 858Z" fill="#8a8a8a"/></g><ellipse cx="126.7" cy="825.6" rx="111" ry="37.5" transform="rotate(59.5 126.7 825.6)" fill="none" stroke="#5a5a5a" stroke-width="0.8"/><ellipse cx="196.8" cy="932.2" rx="3.4" ry="2.6" transform="rotate(-35 196.8 932.2)" fill="#d8d8d8"/><ellipse cx="199" cy="935.4" rx="2.2" ry="1.5" fill="#444"/><ellipse cx="200.9" cy="907.5" rx="1.8" ry="1.5" fill="#444"/><ellipse cx="193.4" cy="870.5" rx="3.4" ry="2.6" transform="rotate(-35 193.4 870.5)" fill="#d8d8d8"/><ellipse cx="195.6" cy="873.7" rx="2.2" ry="1.5" fill="#444"/><ellipse cx="175.4" cy="826.8" rx="1.8" ry="1.5" fill="#444"/><ellipse cx="149.7" cy="783.1" rx="3.4" ry="2.6" transform="rotate(-35 149.7 783.1)" fill="#d8d8d8"/><ellipse cx="151.9" cy="786.3" rx="2.2" ry="1.5" fill="#444"/><ellipse cx="120.3" cy="745.9" rx="1.8" ry="1.5" fill="#444"/><ellipse cx="91.4" cy="721.1" rx="3.4" ry="2.6" transform="rotate(-35 91.4 721.1)" fill="#d8d8d8"/><ellipse cx="93.6" cy="724.3" rx="2.2" ry="1.5" fill="#444"/><ellipse cx="67.7" cy="712.3" rx="1.8" ry="1.5" fill="#444"/><ellipse cx="52.6" cy="721" rx="3.4" ry="2.6" transform="rotate(-35 52.6 721)" fill="#d8d8d8"/><ellipse cx="54.8" cy="724.2" rx="2.2" ry="1.5" fill="#444"/><ellipse cx="48.5" cy="745.7" rx="1.8" ry="1.5" fill="#444"/><ellipse cx="56" cy="782.7" rx="3.4" ry="2.6" transform="rotate(-35 56 782.7)" fill="#d8d8d8"/><ellipse cx="58.2" cy="785.9" rx="2.2" ry="1.5" fill="#444"/><ellipse cx="74" cy="826.4" rx="1.8" ry="1.5" fill="#444"/><ellipse cx="99.7" cy="870.1" rx="3.4" ry="2.6" transform="rotate(-35 99.7 870.1)" fill="#d8d8d8"/><ellipse cx="101.9" cy="873.3" rx="2.2" ry="1.5" fill="#444"/><ellipse cx="129.1" cy="907.3" rx="1.8" ry="1.5" fill="#444"/><ellipse cx="158" cy="932.1" rx="3.4" ry="2.6" transform="rotate(-35 158 932.1)" fill="#d8d8d8"/><ellipse cx="160.2" cy="935.3" rx="2.2" ry="1.5" fill="#444"/><ellipse cx="181.7" cy="940.9" rx="1.8" ry="1.5" fill="#444"/><path d="M96 703 L101 716 L103 730" stroke="#4a4a4a" stroke-width="2" fill="none"/><path d="M58 696 L72 696.5 L86 700 L97 706" stroke="#4a4a4a" stroke-width="2" fill="none"/><path d="M152 903 L156 915 L160 928" stroke="#4a4a4a" stroke-width="1.6" fill="none"/><path d="M60.5 831.2 L84 820.7 L82 816.3 L58.5 826.8Z" fill="#d4d4d4" stroke="#777" stroke-width="0.6"/><ellipse cx="59.5" cy="829" rx="2.6" ry="5.1" transform="rotate(-24.1 59.5 829)" fill="#e4e4e4" stroke="#6a6a6a" stroke-width="0.9"/><path d="M141.3 914 L155.3 905 L152.7 901 L138.7 910Z" fill="#d4d4d4" stroke="#777" stroke-width="0.6"/></g><path d="M20.4 924.6 L42.4 912.6 L39.6 907.4 L17.6 919.4Z" fill="url(#lb)"/><ellipse cx="21.6" cy="920.6" rx="3.4" ry="5.6" transform="rotate(-28.6 21.6 920.6)" fill="#cfcfcf" stroke="#6a6a6a" stroke-width="0.9"/><ellipse cx="18.1" cy="922.5" rx="3.4" ry="5.6" transform="rotate(-28.6 18.1 922.5)" fill="#e6e6e6" stroke="#6a6a6a" stroke-width="0.9"/><g id="sbear"><path d="M354.3 626.4 L354.4 624.7 L354.6 623.2 L355 621.8 L355.4 620.6 L355.9 619.5 L356.6 618.6 L357.3 617.9 L358.2 617.3 L377.9 606.6 L378.9 606.2 L379.9 606 L381 605.9 L382.2 606 L383.5 606.3 L384.8 606.8 L386.2 607.5 L387.7 608.3 L389.2 609.3 L390.7 610.4 L392.3 611.7 L393.9 613.2 L395.5 614.8 L397.1 616.5 L398.7 618.3 L400.3 620.3 L401.9 622.4 L403.5 624.5 L405 626.8 L406.5 629.1 L408 631.5 L409.4 634 L410.8 636.5 L412 639 L413.2 641.5 L414.4 644 L415.4 646.5 L416.4 649 L417.3 651.5 L418 653.9 L418.7 656.3 L419.3 658.6 L419.7 660.8 L420.1 662.9 L420.3 665 L420.4 666.9 L420.4 668.7 L420.4 670.3 L420.1 671.9 L419.8 673.2 L419.4 674.5 L418.8 675.5 L418.2 676.4 L417.4 677.2 L416.6 677.8 L396.8 688.5 L395.9 688.9 L394.9 689.1 L393.7 689.2 L392.5 689 L391.3 688.7 L389.9 688.2 L388.6 687.6 L387.1 686.8 L385.6 685.8 L384.1 684.6 L382.5 683.3 L380.9 681.9 L379.3 680.3 L377.7 678.6 L376.1 676.7 L374.5 674.8 L372.9 672.7 L371.3 670.5 L369.7 668.3 L368.2 665.9 L366.8 663.5 L365.4 661.1 L364 658.6 L362.7 656.1 L361.5 653.6 L360.4 651 L359.3 648.5 L358.4 646 L357.5 643.5 L356.7 641.1 L356.1 638.8 L355.5 636.5 L355.1 634.2 L354.7 632.1 L354.5 630.1 L354.3 628.2Z" fill="url(#sco)"/><path d="M414.1 678.4 L415.2 678.3 L416.1 678 L417 677.5 L417.8 676.8 L418.5 676 L419.1 675 L419.6 673.9 L420 672.6 L420.3 671.1 L420.4 669.5 L420.5 667.8 L420.4 665.9 L420.2 664 L419.9 661.9 L419.5 659.7 L419 657.5 L418.4 655.1 L417.7 652.7 L416.8 650.3 L415.9 647.8 L414.9 645.3 L413.8 642.8 L412.7 640.2 L411.4 637.7 L410.1 635.2 L408.7 632.7 L407.3 630.3 L405.8 628 L404.3 625.7 L402.7 623.5 L401.1 621.3 L399.5 619.3 L397.9 617.4 L396.3 615.6 L394.7 614 L393.1 612.4 L391.5 611.1 L389.9 609.8 L388.4 608.8 L386.9 607.9" stroke="#a0a0a0" stroke-width="0.7" fill="none"/><ellipse cx="377.5" cy="652.9" rx="40.5" ry="14.6" transform="rotate(61.5 377.5 652.9)" fill="#9a9a9a"/><ellipse cx="377.5" cy="652.9" rx="36" ry="13" transform="rotate(61.5 377.5 652.9)" fill="url(#sci2)"/><ellipse cx="377.5" cy="652.9" rx="36" ry="13" transform="rotate(61.5 377.5 652.9)" fill="url(#scx)"/><path d="M394.7 684.5 L395.5 684 L396.2 683.2 L396.9 682.2 L397.4 681.1 L397.7 679.8 L398 678.3 L398.1 676.6 L398.1 674.9 L398 672.9 L397.7 670.9 L397.3 668.7 L396.8 666.5 L396.2 664.2 L395.4 661.8 L394.6 659.3 L393.6 656.8 L392.6 654.3 L391.4 651.7 L390.2 649.2 L388.9 646.7 L387.5 644.3 L386.1 641.8 L384.6 639.5 L383 637.2 L381.4 635.1 L379.8 633 L378.2 631.1 L376.6 629.3 L375 627.7 L373.4 626.2 L371.8 624.8 L370.3 623.7 L368.8 622.7 L367.4 621.9 L366 621.3 L364.7 620.9 L363.5 620.7 L362.3 620.7 L361.3 620.9 L360.3 621.3" stroke="#666" stroke-width="1.3" fill="none"/><path d="M360.3 621.3 L359.5 621.8 L358.8 622.6 L358.1 623.6 L357.6 624.7 L357.3 626 L357 627.5 L356.9 629.2 L356.9 630.9 L357 632.9 L357.3 634.9 L357.7 637.1 L358.2 639.3 L358.8 641.6 L359.6 644 L360.4 646.5 L361.4 649 L362.4 651.5 L363.6 654.1 L364.8 656.6 L366.1 659.1 L367.5 661.5 L368.9 664 L370.4 666.3 L372 668.6 L373.6 670.7 L375.2 672.8 L376.8 674.7 L378.4 676.5 L380 678.1 L381.6 679.6 L383.2 681 L384.7 682.1 L386.2 683.1 L387.6 683.9 L389 684.5 L390.3 684.9 L391.5 685.1 L392.7 685.1 L393.7 684.9 L394.7 684.5" stroke="#8a8a8a" stroke-width="0.7" fill="none"/><line x1="390.4" y1="656.8" x2="386.6" y2="655.7" stroke="#777" stroke-width="1"/><line x1="389" y1="653.3" x2="385.6" y2="653.2" stroke="#777" stroke-width="1"/><line x1="387.3" y1="649.8" x2="384.4" y2="650.7" stroke="#777" stroke-width="1"/><line x1="385.4" y1="646.4" x2="383.1" y2="648.3" stroke="#777" stroke-width="1"/><line x1="383.4" y1="643.1" x2="381.7" y2="646" stroke="#777" stroke-width="1"/><line x1="381.3" y1="639.9" x2="380.2" y2="643.8" stroke="#777" stroke-width="1"/><line x1="379.1" y1="637.1" x2="378.6" y2="641.7" stroke="#777" stroke-width="1"/><path d="M336.3 660.6 L336.4 659.3 L336.5 658.1 L336.7 656.9 L337 655.9 L337.3 654.9 L337.8 654.1 L338.3 653.3 L338.8 652.7 L339.5 652.1 L340.2 651.7 L340.9 651.4 L345.3 649.9 L346.1 649.7 L346.9 649.6 L347.8 649.7 L348.7 649.9 L349.6 650.2 L350.6 650.6 L351.6 651.1 L352.6 651.8 L353.6 652.5 L354.7 653.3 L355.7 654.3 L356.8 655.3 L357.8 656.4 L358.9 657.6 L359.9 658.9 L360.9 660.3 L361.9 661.7 L362.8 663.2 L363.8 664.7 L364.6 666.3 L365.5 667.9 L366.3 669.5 L367 671.1 L367.7 672.8 L368.4 674.5 L368.9 676.1 L369.4 677.8 L369.9 679.4 L370.3 681 L370.6 682.6 L370.8 684.1 L371 685.5 L371.1 687 L371.1 688.3 L371 689.6 L370.9 690.8 L370.7 691.9 L370.4 692.9 L370.1 693.8 L369.7 694.6 L369.2 695.4 L368.7 696 L365.2 699.3 L364.5 699.9 L363.8 700.3 L363.1 700.6 L362.3 700.7 L361.4 700.8 L360.5 700.7 L359.6 700.5 L358.6 700.2 L357.6 699.8 L356.6 699.2 L355.5 698.6 L354.4 697.8 L353.3 697 L352.2 696 L351.1 694.9 L350.1 693.8 L349 692.5 L347.9 691.2 L346.9 689.8 L345.8 688.3 L344.8 686.8 L343.9 685.2 L343 683.5 L342.1 681.9 L341.3 680.2 L340.5 678.5 L339.8 676.8 L339.1 675 L338.5 673.3 L338 671.6 L337.5 669.9 L337.1 668.2 L336.8 666.6 L336.6 665 L336.4 663.5 L336.3 662Z" fill="url(#snb)"/><path d="M321.3 645.1 L333.9 638.2 L342.7 641.5 L353.4 649.6 L361.4 661.6 L365.8 668.7 L371.9 682.1 L373.8 694.8 L366.3 705.8 L354.4 713.9 L345 705Z" fill="#5a5a5a"/><path d="M326.5 653.4 L338.3 645.3 L333.9 638.2 L321.3 645.1Z" fill="url(#snr0)"/><ellipse cx="323.9" cy="649.3" rx="4.3" ry="2" transform="rotate(58 323.9 649.3)" fill="#5a5a5a"/><path d="M335.3 656.7 L347.1 648.6 L342.7 641.5 L330.1 648.4Z" fill="url(#snr1)"/><ellipse cx="332.7" cy="652.6" rx="4.3" ry="2" transform="rotate(58 332.7 652.6)" fill="#5a5a5a"/><path d="M346 664.8 L357.8 656.7 L353.4 649.6 L340.8 656.5Z" fill="url(#snr2)"/><ellipse cx="343.4" cy="660.7" rx="4.3" ry="2" transform="rotate(58 343.4 660.7)" fill="#5a5a5a"/><path d="M354 676.8 L365.8 668.7 L361.4 661.6 L348.8 668.5Z" fill="url(#snr3)"/><ellipse cx="351.4" cy="672.7" rx="4.3" ry="2" transform="rotate(58 351.4 672.7)" fill="#5a5a5a"/><path d="M360.1 690.2 L371.9 682.1 L367.5 675 L354.9 681.9Z" fill="url(#snr4)"/><ellipse cx="357.5" cy="686.1" rx="4.3" ry="2" transform="rotate(58 357.5 686.1)" fill="#5a5a5a"/><path d="M362 702.9 L373.8 694.8 L369.4 687.7 L356.8 694.6Z" fill="url(#snr5)"/><ellipse cx="359.4" cy="698.8" rx="4.3" ry="2" transform="rotate(58 359.4 698.8)" fill="#5a5a5a"/><path d="M354.5 713.9 L366.3 705.8 L361.9 698.7 L349.3 705.6Z" fill="url(#snr6)"/><ellipse cx="351.9" cy="709.8" rx="4.3" ry="2" transform="rotate(58 351.9 709.8)" fill="#5a5a5a"/><ellipse cx="333.6" cy="683.4" rx="29" ry="12.6" transform="rotate(66 333.6 683.4)" fill="url(#snf)" stroke="#6a6a6a" stroke-width="0.7"/><ellipse cx="334.4" cy="683.2" rx="18.5" ry="8.2" transform="rotate(66 334.4 683.2)" fill="url(#sno)" stroke="#5a5a5a" stroke-width="0.8"/><ellipse cx="334.4" cy="683.2" rx="18.5" ry="8.2" transform="rotate(66 334.4 683.2)" fill="url(#snox)"/></g><g id="hub"><path d="M441.8 531.2 L441.8 528.4 L442.1 525.8 L442.6 523.5 L443.3 521.4 L444.1 519.6 L445.1 518 L446.4 516.8 L447.7 515.8 L554.7 455 L556.2 454.4 L557.9 454 L559.8 453.9 L561.8 454.1 L563.9 454.7 L566.1 455.5 L568.4 456.6 L570.9 458 L573.4 459.7 L576 461.7 L578.6 463.9 L581.4 466.4 L584.1 469.1 L586.8 472 L589.6 475.1 L592.4 478.5 L595.1 482 L597.8 485.7 L600.5 489.5 L603 493.5 L605.6 497.5 L608 501.7 L610.4 505.9 L612.6 510.1 L614.7 514.4 L616.7 518.7 L618.6 523 L620.3 527.2 L621.8 531.4 L623.2 535.5 L624.4 539.5 L625.5 543.4 L626.3 547.1 L627 550.8 L627.5 554.2 L627.8 557.4 L627.9 560.4 L627.8 563.2 L627.5 565.8 L627 568.1 L626.4 570.2 L625.5 572 L624.5 573.6 L623.3 574.8 L621.9 575.8 L515.3 637.2 L513.8 637.9 L512.1 638.3 L510.2 638.4 L508.2 638.1 L506.1 637.6 L503.9 636.8 L501.5 635.6 L499.1 634.2 L496.5 632.5 L493.9 630.6 L491.3 628.3 L488.6 625.9 L485.8 623.1 L483 620.2 L480.2 617 L477.5 613.7 L474.7 610.1 L472 606.4 L469.3 602.6 L466.7 598.6 L464.2 594.5 L461.7 590.3 L459.4 586.1 L457.1 581.8 L455 577.5 L453 573.2 L451.1 568.9 L449.4 564.6 L447.8 560.4 L446.4 556.3 L445.2 552.3 L444.2 548.4 L443.3 544.6 L442.6 541 L442.1 537.5 L441.9 534.3Z" fill="url(#hBar)"/><path d="M441.8 531.2 L441.8 528.4 L442.1 525.8 L442.6 523.5 L443.3 521.4 L444.1 519.6 L445.1 518 L446.4 516.8 L447.7 515.8 L554.7 455 L556.2 454.4 L557.9 454 L559.8 453.9 L561.8 454.1 L563.9 454.7 L566.1 455.5 L568.4 456.6 L570.9 458 L573.4 459.7 L576 461.7 L578.6 463.9 L581.4 466.4 L584.1 469.1 L586.8 472 L589.6 475.1 L592.4 478.5 L595.1 482 L597.8 485.7 L600.5 489.5 L603 493.5 L605.6 497.5 L608 501.7 L610.4 505.9 L612.6 510.1 L614.7 514.4 L616.7 518.7 L618.6 523 L620.3 527.2 L621.8 531.4 L623.2 535.5 L624.4 539.5 L625.5 543.4 L626.3 547.1 L627 550.8 L627.5 554.2 L627.8 557.4 L627.9 560.4 L627.8 563.2 L627.5 565.8 L627 568.1 L626.4 570.2 L625.5 572 L624.5 573.6 L623.3 574.8 L621.9 575.8 L515.3 637.2 L513.8 637.9 L512.1 638.3 L510.2 638.4 L508.2 638.1 L506.1 637.6 L503.9 636.8 L501.5 635.6 L499.1 634.2 L496.5 632.5 L493.9 630.6 L491.3 628.3 L488.6 625.9 L485.8 623.1 L483 620.2 L480.2 617 L477.5 613.7 L474.7 610.1 L472 606.4 L469.3 602.6 L466.7 598.6 L464.2 594.5 L461.7 590.3 L459.4 586.1 L457.1 581.8 L455 577.5 L453 573.2 L451.1 568.9 L449.4 564.6 L447.8 560.4 L446.4 556.3 L445.2 552.3 L444.2 548.4 L443.3 544.6 L442.6 541 L442.1 537.5 L441.9 534.3Z" fill="url(#hBarA)"/><path d="M560 612 L573 604 L590 594 L604 582 L596 580 L580 588 L566 590 L556 596Z" fill="#d8d8d8" opacity="0.8"/><path d="M533 548 L541 541 L549 540 L552 546 L544 552 L536 556Z" fill="#dcdcdc" stroke="#8a8a8a" stroke-width="0.6"/><path d="M488 497 L500 487 L512 492 L508 500 L496 504Z" fill="#d8d8d8" stroke="#7a7a7a" stroke-width="0.6"/><path d="M395.2 486.2 L395.4 480.4 L396 475 L397 470.1 L398.4 465.8 L400.1 462 L402.3 458.8 L404.8 456.2 L407.7 454.1 L410.9 452.8 L414.4 452 L418.3 451.9 L430.5 452.6 L434.6 453.1 L439 454.2 L443.6 455.9 L448.4 458.1 L453.4 461 L458.6 464.5 L464 468.5 L469.5 473 L475 478.1 L480.7 483.6 L486.3 489.7 L492 496.1 L497.7 503 L503.3 510.2 L508.9 517.8 L514.4 525.6 L519.7 533.8 L524.9 542.1 L529.9 550.6 L534.7 559.3 L539.3 568 L543.7 576.8 L547.8 585.7 L551.6 594.5 L555.1 603.2 L558.2 611.8 L561.1 620.2 L563.6 628.4 L565.7 636.4 L567.5 644.1 L568.8 651.5 L569.8 658.6 L570.4 665.2 L570.6 671.5 L570.4 677.2 L569.8 682.6 L568.8 687.4 L567.4 691.6 L565.6 695.4 L563.5 698.5 L561 701.1 L558.2 703.1 L555 704.5 L545.1 708.2 L541.6 709 L537.7 709.1 L533.6 708.7 L529.1 707.5 L524.5 705.8 L519.6 703.5 L514.5 700.5 L509.2 697 L503.8 692.9 L498.2 688.3 L492.6 683.1 L486.9 677.5 L481.1 671.3 L475.3 664.7 L469.6 657.7 L463.8 650.4 L458.2 642.7 L452.6 634.7 L447.2 626.4 L441.9 617.9 L436.8 609.2 L431.9 600.4 L427.2 591.5 L422.8 582.5 L418.6 573.5 L414.7 564.6 L411.1 555.7 L407.9 547 L405 538.4 L402.5 530 L400.3 521.9 L398.5 514 L397.1 506.5 L396.1 499.3 L395.4 492.6Z" fill="url(#hRim)" stroke="#6a6a6a" stroke-width="0.6"/><path d="M544.7 707.2 L547.5 706.9 L550.1 706.3 L552.5 705.3 L554.8 704 L556.8 702.3 L558.7 700.3 L560.3 698 L561.7 695.3 L563 692.4 L564 689.1 L564.8 685.5 L565.3 681.6 L565.6 677.5 L565.8 673.1 L565.6 668.4 L565.3 663.5 L564.7 658.3 L564 652.9 L563 647.4 L561.7 641.6 L560.3 635.7 L558.6 629.6 L556.8 623.4 L554.7 617.1 L552.5 610.7 L550.1 604.1 L547.4 597.6 L544.6 590.9 L541.7 584.3 L538.6 577.6 L535.3 570.9 L531.9 564.3 L528.3 557.7 L524.7 551.1 L520.9 544.7 L517 538.3 L513 532 L509 525.9 L504.8 519.9 L500.7 514.1 L496.4 508.5 L492.2 503 L487.9 497.8 L483.6 492.8 L479.3 488 L475 483.5 L470.7 479.3 L466.5 475.3 L462.3 471.6 L458.2 468.2 L454.1 465.1 L450.2 462.4 L446.3 459.9 L442.5 457.8 L438.8 456 L435.3 454.5 L431.9 453.4 L428.6 452.7 L425.5 452.2 L422.5 452.2" stroke="#8c8c8c" stroke-width="0.7" fill="none"/><ellipse cx="478" cy="580.5" rx="144.6" ry="50" transform="rotate(60.9 478 580.5)" fill="#414141"/><ellipse cx="408.3" cy="483" rx="5.2" ry="3.2" transform="rotate(65.9 408.3 483)" fill="#e6e6e6"/><ellipse cx="435" cy="475" rx="5.4" ry="3.2" transform="rotate(65.9 435 475)" fill="#e6e6e6"/><ellipse cx="477" cy="510" rx="5.2" ry="3" transform="rotate(65.9 477 510)" fill="#e6e6e6"/><ellipse cx="497" cy="533.6" rx="3" ry="2" transform="rotate(65.9 497 533.6)" fill="#e6e6e6"/><ellipse cx="521" cy="573" rx="5.2" ry="3" transform="rotate(65.9 521 573)" fill="#e6e6e6"/><ellipse cx="548.5" cy="641" rx="5.6" ry="3.2" transform="rotate(65.9 548.5 641)" fill="#e6e6e6"/><ellipse cx="549.5" cy="687" rx="5.4" ry="3.3" transform="rotate(65.9 549.5 687)" fill="#e6e6e6"/><ellipse cx="522" cy="695" rx="5.4" ry="3.3" transform="rotate(65.9 522 695)" fill="#e6e6e6"/><ellipse cx="475" cy="595.4" rx="112.2" ry="39.4" transform="rotate(57.7 475 595.4)" fill="url(#hBowl)"/><ellipse cx="475" cy="595.4" rx="112.2" ry="39.4" transform="rotate(57.7 475 595.4)" fill="url(#hBowlX)"/><path d="M436.5 507.7 L433.6 507.2 L430.9 507 L428.4 507.1 L426.1 507.7 L423.9 508.5 L422 509.8 L420.3 511.3 L418.9 513.2 L417.7 515.5 L416.7 518.1 L416 520.9 L415.5 524.1 L415.3 527.6 L415.3 531.3 L415.6 535.3 L416.1 539.6 L416.9 544.1 L418 548.7 L419.2 553.6 L420.7 558.6 L422.5 563.8 L424.4 569.1 L426.6 574.5 L429 580 L431.6 585.5 L434.3 591.1 L437.3 596.7 L440.4 602.3 L443.6 607.9 L447 613.3 L450.5 618.8 L454.2 624.1 L457.9 629.3 L461.7 634.3 L465.5 639.2 L469.4 643.9 L473.4 648.4 L477.3 652.7 L481.3 656.8 L485.2 660.6 L489.1 664.1 L492.9 667.3 L496.7 670.3 L500.4 672.9 L504 675.2 L507.5 677.2 L510.9 678.8 L514.1 680.1 L517.2 681 L520.1 681.6 L522.8 681.8 L525.4 681.7 L527.7 681.2 L529.9 680.4 L531.8 679.2 L533.5 677.6 L535 675.7 L536.2 673.5 L537.2 671 L538 668.1" stroke="#7c7c7c" stroke-width="0.7" fill="none"/><path d="M443 516.3 L440.5 515.9 L438 515.7 L435.8 515.8 L433.7 516.3 L431.8 517.1 L430.1 518.2 L428.6 519.6 L427.4 521.3 L426.3 523.3 L425.4 525.5 L424.8 528.1 L424.3 530.9 L424.1 534 L424.2 537.4 L424.4 540.9 L424.9 544.7 L425.6 548.7 L426.5 552.8 L427.6 557.1 L429 561.6 L430.5 566.2 L432.3 570.9 L434.2 575.7 L436.3 580.6 L438.6 585.5 L441.1 590.5 L443.7 595.5 L446.5 600.4 L449.3 605.4 L452.4 610.2 L455.5 615.1 L458.7 619.8 L462 624.4 L465.4 628.9 L468.8 633.3 L472.3 637.4 L475.8 641.4 L479.3 645.3 L482.8 648.8 L486.3 652.2 L489.7 655.3 L493.2 658.2 L496.5 660.8 L499.8 663.2 L503 665.2 L506.1 667 L509.1 668.4 L512 669.6 L514.7 670.4 L517.3 670.9 L519.7 671.1 L522 671 L524.1 670.6 L526 669.8 L527.7 668.7 L529.2 667.4 L530.5 665.7 L531.6 663.7 L532.5 661.5 L533.2 658.9" stroke="#9a9a9a" stroke-width="0.7" fill="none"/><path d="M428 556 L452 546 L452 552Z" fill="#4a4a4a"/><path d="M476 640 L493 616 L498 622Z" fill="#4a4a4a"/><path d="M430 548 L452 541 L452 546Z" fill="#c8c8c8"/><ellipse cx="481.5" cy="583.5" rx="56" ry="19.6" transform="rotate(59.9 481.5 583.5)" fill="#414141"/><ellipse cx="483" cy="582.8" rx="48.5" ry="16.2" transform="rotate(59.9 483 582.8)" fill="url(#hBore)"/><clipPath id="hBI"><ellipse cx="483" cy="582.8" rx="48.5" ry="16.2" transform="rotate(59.9 483 582.8)"/></clipPath><g clip-path="url(#hBI)"><path d="M476.1 542.1 L474.2 541.2 L472.5 540.5 L470.9 540.1 L469.4 540 L468.1 540.1 L466.9 540.5 L465.9 541.2 L465 542.2 L464.3 543.4 L463.7 544.9 L463.4 546.6 L463.2 548.6 L463.2 550.7 L463.4 553.1 L463.7 555.6 L464.3 558.3 L465 561.2 L465.9 564.2 L466.9 567.3 L468.1 570.4 L469.5 573.7 L470.9 576.9 L472.6 580.2 L474.3 583.5 L476.1 586.8 L478 590 L480 593.1 L482.1 596.1 L484.2 599.1 L486.3 601.8 L488.5 604.4 L490.6 606.9 L492.8 609.1 L494.9 611.2 L497 613 L499 614.6 L501 615.9 L502.9 617 L504.6 617.8 L506.3 618.3 L507.8 618.6 L509.3 618.6 L510.5 618.3 L511.6 617.7 L512.6 616.9 L513.4 615.8 L514 614.5 L514.5 612.9 L514.7 611 L514.8 609" stroke="#6a6a6a" stroke-width="0.8" fill="none"/><path d="M482.9 541.1 L481.2 540.2 L479.6 539.5 L478.1 539.2 L476.7 539 L475.5 539.2 L474.3 539.6 L473.4 540.2 L472.5 541.1 L471.9 542.3 L471.4 543.6 L471 545.2 L470.9 547.1 L470.9 549.1 L471.1 551.3 L471.4 553.7 L471.9 556.2 L472.6 558.9 L473.4 561.7 L474.4 564.5 L475.5 567.5 L476.7 570.5 L478.1 573.6 L479.6 576.7 L481.2 579.7 L482.9 582.8 L484.7 585.8 L486.6 588.7 L488.5 591.5 L490.5 594.3 L492.5 596.9 L494.5 599.3 L496.5 601.6 L498.5 603.7 L500.5 605.6 L502.5 607.3 L504.4 608.8 L506.2 610 L508 611 L509.6 611.8 L511.2 612.3 L512.6 612.5 L513.9 612.5 L515.1 612.3 L516.2 611.7 L517.1 611 L517.8 609.9 L518.4 608.7 L518.8 607.2 L519.1 605.5 L519.1 603.6" stroke="#8a8a8a" stroke-width="0.7" fill="none"/></g><circle cx="512.7" cy="617.8" r="1.1" fill="#e8e8e8"/><circle cx="495.4" cy="570.2" r="1.1" fill="#e8e8e8"/><circle cx="467.3" cy="539.4" r="1.1" fill="#e8e8e8"/><circle cx="451.8" cy="551.2" r="1.1" fill="#e8e8e8"/><circle cx="469" cy="596" r="1.1" fill="#e8e8e8"/><circle cx="497.1" cy="626.8" r="1.1" fill="#e8e8e8"/></g><g id="bolts"><path d="M500.6 413.2 L500.7 413 L500.7 412.8 L500.8 412.6 L500.9 412.4 L501 412.2 L501.1 412.1 L542.1 377.3 L542.2 377.2 L542.4 377.1 L542.6 377 L542.8 377 L543.1 377 L543.3 377 L543.6 377 L543.9 377.1 L544.1 377.2 L544.5 377.3 L544.8 377.5 L545.1 377.6 L545.4 377.8 L545.7 378 L546.1 378.3 L546.4 378.5 L546.7 378.8 L547 379.1 L547.4 379.4 L547.7 379.7 L548 380 L548.3 380.4 L548.6 380.7 L548.9 381.1 L549.2 381.4 L549.5 381.8 L549.7 382.2 L549.9 382.6 L550.1 382.9 L550.3 383.3 L550.5 383.7 L550.7 384 L550.8 384.4 L550.9 384.7 L551 385 L551.1 385.4 L551.1 385.6 L551.1 385.9 L551.1 386.2 L551.1 386.4 L551 386.7 L551 386.9 L550.9 387.1 L550.8 387.2 L550.6 387.4 L509.7 422.1 L509.5 422.2 L509.3 422.3 L509.1 422.4 L508.9 422.4 L508.7 422.4 L508.4 422.4 L508.2 422.4 L507.9 422.3 L507.6 422.2 L507.3 422.1 L507 422 L506.7 421.8 L506.4 421.6 L506 421.4 L505.7 421.2 L505.4 420.9 L505 420.6 L504.7 420.4 L504.4 420.1 L504.1 419.7 L503.7 419.4 L503.4 419.1 L503.1 418.7 L502.9 418.4 L502.6 418 L502.3 417.6 L502.1 417.2 L501.8 416.9 L501.6 416.5 L501.4 416.1 L501.3 415.8 L501.1 415.4 L501 415.1 L500.9 414.7 L500.8 414.4 L500.7 414.1 L500.7 413.8 L500.6 413.5Z" fill="url(#bs1)"/><path d="M538.9 376.2 L538.9 375.9 L539 375.5 L539.1 375.2 L539.2 374.9 L539.4 374.6 L539.6 374.4 L545 369.9 L545.2 369.7 L545.5 369.6 L545.8 369.5 L546.1 369.4 L546.5 369.4 L546.9 369.4 L547.3 369.5 L547.8 369.6 L548.2 369.7 L548.7 369.9 L549.2 370.1 L549.7 370.4 L550.2 370.7 L550.7 371 L551.2 371.4 L551.7 371.8 L552.3 372.2 L552.8 372.7 L553.3 373.1 L553.8 373.6 L554.3 374.2 L554.8 374.7 L555.3 375.2 L555.7 375.8 L556.1 376.4 L556.6 377 L557 377.6 L557.3 378.1 L557.6 378.7 L558 379.3 L558.2 379.9 L558.5 380.4 L558.7 381 L558.9 381.5 L559 382.1 L559.1 382.6 L559.2 383 L559.2 383.5 L559.2 383.9 L559.2 384.3 L559.1 384.6 L559 385 L558.8 385.3 L558.6 385.5 L558.4 385.7 L553.1 390.3 L552.8 390.4 L552.6 390.6 L552.2 390.7 L551.9 390.7 L551.5 390.8 L551.2 390.7 L550.7 390.7 L550.3 390.6 L549.9 390.4 L549.4 390.2 L548.9 390 L548.4 389.7 L547.9 389.4 L547.4 389.1 L546.8 388.7 L546.3 388.4 L545.8 387.9 L545.3 387.5 L544.8 387 L544.2 386.5 L543.8 386 L543.3 385.4 L542.8 384.9 L542.4 384.3 L541.9 383.7 L541.5 383.1 L541.1 382.6 L540.8 382 L540.4 381.4 L540.1 380.8 L539.8 380.2 L539.6 379.7 L539.4 379.1 L539.2 378.6 L539.1 378.1 L539 377.6 L538.9 377.1 L538.9 376.7Z" fill="url(#bh1)"/><ellipse cx="546.4" cy="382.3" rx="10.4" ry="4.4" transform="rotate(49.7 546.4 382.3)" fill="#cdcdcd"/><path d="M551.5 390.7 L552.2 390.7 L552.8 390.5 L553.2 390.2 L553.5 389.7 L553.8 389.1 L553.9 388.4 L553.8 387.6 L553.7 386.8 L553.4 385.8 L553.1 384.8 L552.6 383.7 L552 382.7 L551.3 381.6 L550.5 380.5 L549.7 379.5 L548.8 378.5 L547.9 377.6 L546.9 376.7 L546 376 L545 375.3 L544.1 374.8 L543.2 374.4 L542.3 374.1 L541.6 373.9 L540.9 373.9 L540.3 374 L539.8 374.3 L539.4 374.7 L539.1 375.2 L538.9 375.8" stroke="#6e6e6e" stroke-width="0.9" fill="none"/><path d="M537 382.4 L537 382.1 L537.1 381.9 L537.2 381.7 L537.3 381.5 L537.4 381.3 L537.5 381.2 L542.1 377.3 L542.2 377.2 L542.4 377.1 L542.6 377 L542.8 377 L543.1 377 L543.3 377 L543.6 377 L543.9 377.1 L544.1 377.2 L544.5 377.3 L544.8 377.5 L545.1 377.6 L545.4 377.8 L545.7 378 L546.1 378.3 L546.4 378.5 L546.7 378.8 L547 379.1 L547.4 379.4 L547.7 379.7 L548 380 L548.3 380.4 L548.6 380.7 L548.9 381.1 L549.2 381.4 L549.5 381.8 L549.7 382.2 L549.9 382.6 L550.1 382.9 L550.3 383.3 L550.5 383.7 L550.7 384 L550.8 384.4 L550.9 384.7 L551 385 L551.1 385.4 L551.1 385.6 L551.1 385.9 L551.1 386.2 L551.1 386.4 L551 386.7 L551 386.9 L550.9 387.1 L550.8 387.2 L550.6 387.4 L546.1 391.2 L545.9 391.4 L545.7 391.4 L545.5 391.5 L545.3 391.5 L545.1 391.6 L544.8 391.5 L544.6 391.5 L544.3 391.4 L544 391.3 L543.7 391.2 L543.4 391.1 L543.1 390.9 L542.8 390.7 L542.4 390.5 L542.1 390.3 L541.8 390 L541.4 389.8 L541.1 389.5 L540.8 389.2 L540.5 388.9 L540.1 388.5 L539.8 388.2 L539.5 387.8 L539.2 387.5 L539 387.1 L538.7 386.7 L538.5 386.4 L538.2 386 L538 385.6 L537.8 385.2 L537.6 384.9 L537.5 384.5 L537.4 384.2 L537.2 383.8 L537.2 383.5 L537.1 383.2 L537 382.9 L537 382.6Z" fill="url(#bs1)"/><ellipse cx="505.4" cy="417.1" rx="6.6" ry="2.8" transform="rotate(49.7 505.4 417.1)" fill="#8a8a8a" stroke="#707070" stroke-width="0.8"/><path d="M527.3 406.2 L527.3 405.9 L527.4 405.7 L527.4 405.4 L527.5 405.2 L527.6 405.1 L527.8 404.9 L527.9 404.8 L571.5 374.1 L571.6 374 L571.8 374 L572 373.9 L572.2 373.9 L572.5 373.9 L572.7 373.9 L573 374 L573.3 374.1 L573.5 374.2 L573.8 374.4 L574.1 374.5 L574.4 374.7 L574.7 374.9 L575 375.2 L575.3 375.4 L575.6 375.7 L576 376 L576.3 376.3 L576.6 376.7 L576.9 377 L577.1 377.4 L577.4 377.8 L577.7 378.1 L577.9 378.5 L578.2 378.9 L578.6 379.7 L578.8 380.1 L579 380.5 L579.1 380.9 L579.3 381.2 L579.4 381.6 L579.5 381.9 L579.6 382.3 L579.6 382.6 L579.7 383 L579.7 383.3 L579.7 383.6 L579.7 383.8 L579.6 384.1 L579.5 384.3 L579.5 384.5 L579.4 384.6 L579.2 384.8 L579.1 384.9 L535.5 415.6 L535.3 415.7 L535.1 415.8 L534.9 415.8 L534.7 415.8 L534.5 415.8 L534.2 415.8 L534 415.7 L533.7 415.6 L533.4 415.5 L533.1 415.4 L532.9 415.2 L532.6 415 L532.2 414.8 L531.9 414.5 L531.6 414.3 L531.3 414 L531 413.7 L530.7 413.4 L530.4 413.1 L530.1 412.7 L529.8 412.4 L529.3 411.6 L529 411.2 L528.8 410.8 L528.6 410.4 L528.4 410.1 L528.2 409.7 L528 409.3 L527.8 408.9 L527.7 408.5 L527.6 408.1 L527.5 407.8 L527.4 407.4 L527.3 407.1 L527.3 406.8 L527.3 406.5Z" fill="url(#bs2)"/><path d="M568.3 373.2 L568.4 372.8 L568.4 372.4 L568.5 372.1 L568.7 371.7 L568.9 371.5 L569.1 371.2 L569.3 371 L575 367 L575.3 366.8 L575.6 366.7 L575.9 366.7 L576.2 366.6 L576.6 366.6 L577 366.7 L577.4 366.8 L577.8 367 L578.3 367.1 L578.7 367.4 L579.2 367.6 L579.6 367.9 L580.1 368.3 L580.6 368.7 L581.1 369.1 L581.6 369.5 L582.1 370 L582.5 370.5 L583 371 L583.5 371.6 L583.9 372.1 L584.4 372.7 L584.8 373.3 L585.2 373.9 L585.6 374.5 L585.9 375.1 L586.2 375.7 L586.5 376.4 L586.8 377 L587.1 377.6 L587.3 378.2 L587.5 378.8 L587.7 379.3 L587.8 379.9 L587.9 380.4 L587.9 380.9 L588 381.4 L588 381.8 L587.9 382.2 L587.9 382.6 L587.7 383 L587.6 383.3 L587.4 383.6 L587.2 383.8 L587 384 L581.3 388 L581 388.2 L580.7 388.3 L580.4 388.4 L580 388.4 L579.7 388.4 L579.3 388.3 L578.9 388.2 L578.5 388.1 L578 387.9 L577.6 387.7 L577.1 387.4 L576.6 387.1 L576.1 386.8 L575.7 386.4 L575.2 386 L574.7 385.5 L574.2 385.1 L573.7 384.6 L573.3 384 L572.8 383.5 L572.4 382.9 L571.9 382.3 L571.5 381.7 L571.1 381.1 L570.7 380.5 L570.4 379.9 L570 379.3 L569.7 378.7 L569.4 378.1 L569.2 377.4 L569 376.9 L568.8 376.3 L568.6 375.7 L568.5 375.2 L568.4 374.6 L568.3 374.1 L568.3 373.6Z" fill="url(#bh2)"/><ellipse cx="575.3" cy="379.5" rx="10.4" ry="4.4" transform="rotate(54.9 575.3 379.5)" fill="#cdcdcd"/><path d="M579.7 388.4 L580.3 388.4 L580.9 388.2 L581.4 387.9 L581.8 387.5 L582 387 L582.2 386.3 L582.2 385.5 L582.2 384.6 L582 383.6 L581.7 382.6 L581.3 381.5 L580.8 380.4 L580.2 379.3 L579.6 378.1 L578.8 377 L578.1 375.9 L577.2 374.9 L576.3 374 L575.5 373.2 L574.6 372.4 L573.7 371.8 L572.8 371.3 L572 371 L571.3 370.7 L570.6 370.7 L569.9 370.7 L569.4 370.9 L569 371.3 L568.7 371.8 L568.4 372.4" stroke="#6e6e6e" stroke-width="0.9" fill="none"/><path d="M566 379 L566 378.7 L566 378.5 L566.1 378.2 L566.2 378 L566.3 377.9 L566.4 377.7 L566.6 377.6 L571.5 374.1 L571.6 374 L571.8 374 L572 373.9 L572.2 373.9 L572.5 373.9 L572.7 373.9 L573 374 L573.3 374.1 L573.5 374.2 L573.8 374.4 L574.1 374.5 L574.4 374.7 L574.7 374.9 L575 375.2 L575.3 375.4 L575.6 375.7 L576 376 L576.3 376.3 L576.6 376.7 L576.9 377 L577.1 377.4 L577.4 377.8 L577.7 378.1 L577.9 378.5 L578.2 378.9 L578.6 379.7 L578.8 380.1 L579 380.5 L579.1 380.9 L579.3 381.2 L579.4 381.6 L579.5 381.9 L579.6 382.3 L579.6 382.6 L579.7 383 L579.7 383.3 L579.7 383.6 L579.7 383.8 L579.6 384.1 L579.5 384.3 L579.5 384.5 L579.4 384.6 L579.2 384.8 L579.1 384.9 L574.2 388.4 L574 388.5 L573.8 388.6 L573.6 388.6 L573.4 388.6 L573.2 388.6 L572.9 388.6 L572.7 388.5 L572.4 388.4 L572.1 388.3 L571.8 388.1 L571.5 388 L571.2 387.8 L570.9 387.6 L570.6 387.3 L570.3 387.1 L570 386.8 L569.7 386.5 L569.4 386.2 L569.1 385.8 L568.8 385.5 L568.5 385.1 L568.2 384.8 L568 384.4 L567.7 384 L567.5 383.6 L567.2 383.2 L567 382.8 L566.8 382.4 L566.7 382.1 L566.5 381.7 L566.4 381.3 L566.2 380.9 L566.1 380.6 L566.1 380.2 L566 379.9 L566 379.6 L566 379.2Z" fill="url(#bs2)"/><ellipse cx="531.7" cy="410.2" rx="6.6" ry="2.8" transform="rotate(54.9 531.7 410.2)" fill="#8a8a8a" stroke="#707070" stroke-width="0.8"/><path d="M501 458.7 L501 458.4 L501.1 458.2 L501.1 457.9 L501.2 457.7 L501.3 457.6 L501.5 457.4 L501.6 457.3 L544.5 427.3 L544.6 427.2 L544.8 427.1 L545 427.1 L545.2 427.1 L545.5 427.1 L545.7 427.1 L546 427.2 L546.3 427.3 L546.5 427.4 L546.8 427.6 L547.1 427.7 L547.4 427.9 L547.7 428.1 L548 428.4 L548.3 428.6 L548.6 428.9 L549 429.2 L549.3 429.5 L549.5 429.9 L549.8 430.2 L550.1 430.6 L550.7 431.3 L550.9 431.7 L551.2 432.1 L551.4 432.5 L551.6 432.9 L551.8 433.3 L552 433.7 L552.1 434 L552.3 434.4 L552.4 434.8 L552.5 435.1 L552.6 435.5 L552.6 435.8 L552.7 436.1 L552.7 436.5 L552.7 436.7 L552.6 437 L552.6 437.2 L552.5 437.5 L552.4 437.7 L552.3 437.9 L552.2 438 L552 438.1 L509.2 468.1 L509 468.2 L508.8 468.3 L508.6 468.3 L508.4 468.3 L508.2 468.3 L507.9 468.3 L507.7 468.2 L507.4 468.1 L507.1 468 L506.8 467.9 L506.5 467.7 L506.2 467.5 L505.9 467.3 L505.6 467 L505.3 466.8 L505 466.5 L504.7 466.2 L504.4 465.9 L504.1 465.6 L503.8 465.2 L503.5 464.9 L503.3 464.5 L503 464.1 L502.8 463.7 L502.5 463.3 L502.3 462.9 L502.1 462.5 L501.9 462.1 L501.7 461.8 L501.5 461.4 L501.4 461 L501.3 460.6 L501.2 460.3 L501.1 459.9 L501 459.6 L501 459.3 L501 459Z" fill="url(#bs3)"/><path d="M541.3 426.8 L541.3 426.4 L541.4 425.9 L541.4 425.6 L541.5 425.2 L541.7 424.9 L541.9 424.6 L542.1 424.4 L542.3 424.2 L548 420.2 L548.3 420 L548.6 419.9 L548.9 419.8 L549.3 419.8 L549.6 419.8 L550 419.9 L550.4 420 L550.8 420.1 L551.3 420.3 L551.7 420.6 L552.2 420.8 L552.7 421.1 L553.1 421.5 L553.6 421.9 L554.1 422.3 L554.6 422.7 L555.1 423.2 L555.6 423.7 L556 424.2 L556.5 424.8 L556.9 425.3 L557.4 425.9 L557.8 426.5 L558.2 427.1 L558.6 427.7 L558.9 428.3 L559.2 428.9 L559.5 429.6 L559.8 430.2 L560.1 430.8 L560.3 431.4 L560.5 432 L560.6 432.5 L560.8 433.1 L560.9 433.6 L560.9 434.1 L561 434.6 L560.9 435.1 L560.9 435.5 L560.8 435.9 L560.7 436.2 L560.6 436.5 L560.4 436.8 L560.2 437 L560 437.2 L554.2 441.2 L554 441.4 L553.7 441.5 L553.4 441.6 L553 441.6 L552.6 441.6 L552.2 441.5 L551.9 441.4 L551.4 441.3 L551 441.1 L550.5 440.9 L550.1 440.6 L549.6 440.3 L549.1 439.9 L548.6 439.6 L548.1 439.1 L547.7 438.7 L547.2 438.2 L546.7 437.7 L546.2 437.2 L545.8 436.7 L545.3 436.1 L544.9 435.5 L544.5 434.9 L544.1 434.3 L543.7 433.7 L543.4 433.1 L543 432.5 L542.7 431.8 L542.4 431.2 L542.2 430.6 L542 430 L541.8 429.4 L541.6 428.9 L541.5 428.3 L541.4 427.8 L541.3 427.3Z" fill="url(#bh3)"/><ellipse cx="548.3" cy="432.7" rx="10.4" ry="4.4" transform="rotate(55 548.3 432.7)" fill="#cdcdcd"/><path d="M552.6 441.6 L553.3 441.6 L553.9 441.4 L554.3 441.1 L554.7 440.7 L555 440.2 L555.2 439.5 L555.2 438.7 L555.2 437.8 L555 436.8 L554.7 435.8 L554.3 434.7 L553.8 433.6 L553.2 432.4 L552.6 431.3 L551.8 430.2 L551.1 429.1 L550.2 428.1 L549.3 427.2 L548.5 426.4 L547.6 425.6 L546.7 425 L545.8 424.5 L545 424.1 L544.3 423.9 L543.6 423.8 L543 423.9 L542.4 424.1 L542 424.5 L541.7 424.9 L541.4 425.6" stroke="#6e6e6e" stroke-width="0.9" fill="none"/><path d="M538.9 432.1 L539 431.9 L539 431.6 L539.1 431.4 L539.2 431.2 L539.3 431 L539.4 430.9 L539.6 430.7 L544.5 427.3 L544.6 427.2 L544.8 427.1 L545 427.1 L545.2 427.1 L545.5 427.1 L545.7 427.1 L546 427.2 L546.3 427.3 L546.5 427.4 L546.8 427.6 L547.1 427.7 L547.4 427.9 L547.7 428.1 L548 428.4 L548.3 428.6 L548.6 428.9 L549 429.2 L549.3 429.5 L549.5 429.9 L549.8 430.2 L550.1 430.6 L550.7 431.3 L550.9 431.7 L551.2 432.1 L551.4 432.5 L551.6 432.9 L551.8 433.3 L552 433.7 L552.1 434 L552.3 434.4 L552.4 434.8 L552.5 435.1 L552.6 435.5 L552.6 435.8 L552.7 436.1 L552.7 436.5 L552.7 436.7 L552.6 437 L552.6 437.2 L552.5 437.5 L552.4 437.7 L552.3 437.9 L552.2 438 L552 438.1 L547.1 441.6 L547 441.7 L546.8 441.7 L546.6 441.8 L546.4 441.8 L546.1 441.8 L545.9 441.7 L545.6 441.7 L545.4 441.6 L545.1 441.5 L544.8 441.3 L544.5 441.1 L544.2 440.9 L543.9 440.7 L543.6 440.5 L543.3 440.2 L543 439.9 L542.7 439.6 L542.4 439.3 L542.1 439 L541.8 438.7 L541.5 438.3 L541.2 437.9 L540.7 437.2 L540.5 436.8 L540.2 436.4 L540 436 L539.8 435.6 L539.6 435.2 L539.5 434.8 L539.4 434.4 L539.2 434.1 L539.1 433.7 L539 433.4 L539 433 L539 432.7 L538.9 432.4Z" fill="url(#bs3)"/><ellipse cx="505.4" cy="462.7" rx="6.6" ry="2.8" transform="rotate(55 505.4 462.7)" fill="#8a8a8a" stroke="#707070" stroke-width="0.8"/><path d="M572.1 440.3 L572.1 440 L572.1 439.7 L572.2 439.5 L572.2 439.2 L572.3 439.1 L572.5 438.9 L572.6 438.7 L572.7 438.6 L615.5 410.1 L615.7 410 L615.9 409.9 L616.1 409.9 L616.3 409.9 L616.5 409.9 L616.8 409.9 L617 410 L617.3 410.1 L617.6 410.2 L617.9 410.4 L618.1 410.6 L618.4 410.8 L618.7 411 L619 411.2 L619.3 411.5 L619.6 411.8 L619.9 412.1 L620.2 412.4 L620.5 412.8 L621.1 413.5 L621.4 413.9 L621.6 414.2 L621.9 414.6 L622.1 415 L622.3 415.4 L622.5 415.8 L622.7 416.2 L622.9 416.6 L623 417 L623.1 417.4 L623.2 417.8 L623.3 418.1 L623.4 418.5 L623.5 418.8 L623.5 419.1 L623.5 419.4 L623.5 419.7 L623.5 420 L623.4 420.2 L623.3 420.4 L623.2 420.6 L623.1 420.8 L623 420.9 L622.8 421.1 L580.1 449.6 L579.9 449.7 L579.7 449.8 L579.5 449.8 L579.3 449.8 L579 449.8 L578.8 449.7 L578.5 449.7 L578.3 449.6 L578 449.4 L577.7 449.3 L577.4 449.1 L577.1 448.9 L576.8 448.7 L576.5 448.4 L576.2 448.2 L575.9 447.9 L575.6 447.6 L575.3 447.3 L575 446.9 L574.8 446.6 L574.2 445.8 L574 445.4 L573.7 445.1 L573.5 444.7 L573.3 444.3 L573.1 443.9 L572.9 443.5 L572.7 443.1 L572.6 442.7 L572.4 442.3 L572.3 441.9 L572.2 441.6 L572.2 441.2 L572.1 440.9 L572.1 440.6Z" fill="url(#bs4)"/><path d="M612.4 409.5 L612.4 409.1 L612.4 408.7 L612.5 408.3 L612.6 407.9 L612.8 407.6 L613 407.4 L613.2 407.1 L613.4 406.9 L619.2 403.1 L619.5 402.9 L619.8 402.8 L620.1 402.7 L620.5 402.7 L620.8 402.7 L621.2 402.8 L621.6 402.9 L622 403.1 L622.5 403.3 L622.9 403.5 L623.4 403.8 L623.8 404.1 L624.3 404.5 L624.8 404.9 L625.3 405.3 L625.7 405.7 L626.2 406.2 L626.7 406.7 L627.1 407.3 L627.6 407.8 L628 408.4 L628.4 409 L628.8 409.6 L629.2 410.2 L629.6 410.8 L629.9 411.4 L630.2 412.1 L630.5 412.7 L630.8 413.3 L631 413.9 L631.2 414.5 L631.4 415.1 L631.6 415.7 L631.7 416.2 L631.8 416.8 L631.8 417.3 L631.8 417.8 L631.8 418.2 L631.8 418.6 L631.7 419 L631.5 419.4 L631.4 419.7 L631.2 419.9 L631 420.2 L630.8 420.4 L624.9 424.2 L624.7 424.4 L624.4 424.5 L624.1 424.6 L623.7 424.6 L623.4 424.5 L623 424.5 L622.6 424.4 L622.1 424.2 L621.7 424 L621.3 423.8 L620.8 423.5 L620.3 423.2 L619.9 422.8 L619.4 422.4 L618.9 422 L618.4 421.6 L618 421.1 L617.5 420.6 L617 420 L616.6 419.5 L616.2 418.9 L615.7 418.3 L615.3 417.7 L615 417.1 L614.6 416.5 L614.2 415.8 L613.9 415.2 L613.6 414.6 L613.4 414 L613.1 413.4 L612.9 412.8 L612.8 412.2 L612.6 411.6 L612.5 411 L612.4 410.5 L612.4 410Z" fill="url(#bh4)"/><ellipse cx="619.2" cy="415.6" rx="10.4" ry="4.4" transform="rotate(56.3 619.2 415.6)" fill="#cdcdcd"/><path d="M623.4 424.5 L624 424.6 L624.6 424.4 L625.1 424.1 L625.5 423.7 L625.7 423.2 L625.9 422.5 L626 421.7 L626 420.8 L625.8 419.9 L625.5 418.8 L625.2 417.7 L624.7 416.6 L624.2 415.4 L623.5 414.3 L622.8 413.2 L622 412.1 L621.2 411 L620.4 410.1 L619.5 409.2 L618.6 408.5 L617.8 407.8 L616.9 407.3 L616.1 406.9 L615.4 406.7 L614.7 406.6 L614.1 406.7 L613.5 406.9 L613.1 407.2 L612.8 407.7 L612.5 408.3" stroke="#6e6e6e" stroke-width="0.9" fill="none"/><path d="M609.9 415.1 L609.9 414.8 L609.9 414.5 L610 414.3 L610 414.1 L610.1 413.9 L610.2 413.7 L610.4 413.5 L610.5 413.4 L615.5 410.1 L615.7 410 L615.9 409.9 L616.1 409.9 L616.3 409.9 L616.5 409.9 L616.8 409.9 L617 410 L617.3 410.1 L617.6 410.2 L617.9 410.4 L618.1 410.6 L618.4 410.8 L618.7 411 L619 411.2 L619.3 411.5 L619.6 411.8 L619.9 412.1 L620.2 412.4 L620.5 412.8 L621.1 413.5 L621.4 413.9 L621.6 414.2 L621.9 414.6 L622.1 415 L622.3 415.4 L622.5 415.8 L622.7 416.2 L622.9 416.6 L623 417 L623.1 417.4 L623.2 417.8 L623.3 418.1 L623.4 418.5 L623.5 418.8 L623.5 419.1 L623.5 419.4 L623.5 419.7 L623.5 420 L623.4 420.2 L623.3 420.4 L623.2 420.6 L623.1 420.8 L623 420.9 L622.8 421.1 L617.8 424.4 L617.7 424.5 L617.5 424.6 L617.3 424.6 L617.1 424.6 L616.8 424.6 L616.6 424.6 L616.3 424.5 L616.1 424.4 L615.8 424.3 L615.5 424.1 L615.2 423.9 L614.9 423.7 L614.6 423.5 L614.3 423.3 L614 423 L613.7 422.7 L613.4 422.4 L613.1 422.1 L612.8 421.7 L612.5 421.4 L612.3 421 L612 420.6 L611.8 420.3 L611.5 419.9 L611.3 419.5 L611.1 419.1 L610.9 418.7 L610.7 418.3 L610.5 417.9 L610.4 417.5 L610.2 417.1 L610.1 416.7 L610 416.4 L610 416 L609.9 415.7 L609.9 415.4Z" fill="url(#bs4)"/><ellipse cx="576.4" cy="444.1" rx="6.6" ry="2.8" transform="rotate(56.3 576.4 444.1)" fill="#8a8a8a" stroke="#707070" stroke-width="0.8"/><path d="M616.2 502.5 L616.3 502.2 L616.3 501.9 L616.4 501.7 L616.4 501.5 L616.5 501.3 L616.6 501.1 L616.8 500.9 L616.9 500.8 L658.4 472.8 L658.6 472.8 L658.8 472.7 L659 472.6 L659.2 472.6 L659.4 472.6 L659.7 472.7 L659.9 472.8 L660.2 472.9 L660.5 473 L660.8 473.1 L661 473.3 L661.3 473.5 L661.6 473.7 L661.9 474 L662.2 474.2 L662.5 474.5 L662.8 474.8 L663.1 475.1 L663.4 475.5 L663.7 475.8 L664 476.2 L664.3 476.6 L664.5 477 L664.8 477.3 L665 477.7 L665.2 478.1 L665.4 478.5 L665.6 478.9 L665.8 479.3 L665.9 479.7 L666.1 480.1 L666.2 480.5 L666.3 480.8 L666.4 481.2 L666.4 481.5 L666.4 481.8 L666.4 482.1 L666.4 482.4 L666.4 482.7 L666.4 482.9 L666.3 483.1 L666.2 483.3 L666.1 483.5 L665.9 483.7 L665.8 483.8 L624.3 511.8 L624.1 511.9 L623.9 511.9 L623.7 512 L623.5 512 L623.3 512 L623 511.9 L622.8 511.9 L622.5 511.8 L622.2 511.6 L622 511.5 L621.7 511.3 L621.4 511.1 L621.1 510.9 L620.8 510.6 L620.5 510.4 L620.1 510.1 L619.9 509.8 L619.5 509.5 L619.3 509.1 L619 508.8 L618.7 508.4 L618.4 508 L618.2 507.7 L617.9 507.3 L617.7 506.9 L617.5 506.5 L617.3 506.1 L617.1 505.7 L616.9 505.3 L616.8 504.9 L616.6 504.5 L616.5 504.1 L616.4 503.8 L616.4 503.4 L616.3 503.1 L616.3 502.8Z" fill="url(#bs5)"/><path d="M655.2 472.3 L655.3 471.9 L655.3 471.4 L655.4 471.1 L655.5 470.7 L655.7 470.4 L655.8 470.1 L656 469.9 L656.3 469.7 L662.1 465.8 L662.4 465.6 L662.6 465.5 L663 465.5 L663.3 465.4 L663.7 465.5 L664.1 465.5 L664.5 465.6 L664.9 465.8 L665.3 466 L665.8 466.2 L666.2 466.5 L666.7 466.8 L667.2 467.2 L667.6 467.6 L668.1 468 L668.6 468.4 L669.1 468.9 L669.5 469.4 L670 469.9 L670.5 470.5 L670.9 471.1 L671.3 471.7 L671.7 472.3 L672.1 472.9 L672.5 473.5 L672.8 474.1 L673.1 474.7 L673.4 475.4 L673.7 476 L673.9 476.6 L674.1 477.2 L674.3 477.8 L674.5 478.4 L674.6 478.9 L674.7 479.4 L674.7 479.9 L674.8 480.4 L674.7 480.9 L674.7 481.3 L674.6 481.7 L674.5 482 L674.3 482.3 L674.2 482.6 L674 482.8 L673.7 483 L667.9 486.9 L667.6 487.1 L667.4 487.2 L667 487.3 L666.7 487.3 L666.3 487.2 L665.9 487.2 L665.5 487.1 L665.1 486.9 L664.7 486.7 L664.2 486.5 L663.8 486.2 L663.3 485.9 L662.8 485.6 L662.4 485.2 L661.9 484.7 L661.4 484.3 L660.9 483.8 L660.5 483.3 L660 482.8 L659.5 482.2 L659.1 481.6 L658.7 481.1 L658.3 480.4 L657.9 479.8 L657.5 479.2 L657.2 478.6 L656.9 478 L656.6 477.4 L656.3 476.7 L656 476.1 L655.8 475.5 L655.7 474.9 L655.5 474.4 L655.4 473.8 L655.3 473.3 L655.3 472.8Z" fill="url(#bh5)"/><ellipse cx="662.1" cy="478.3" rx="10.4" ry="4.4" transform="rotate(56 662.1 478.3)" fill="#cdcdcd"/><path d="M666.3 487.3 L667 487.3 L667.5 487.1 L668 486.8 L668.4 486.4 L668.7 485.9 L668.9 485.2 L668.9 484.4 L668.9 483.5 L668.7 482.5 L668.5 481.5 L668.1 480.4 L667.6 479.3 L667.1 478.1 L666.4 477 L665.7 475.9 L664.9 474.8 L664.1 473.8 L663.3 472.8 L662.4 472 L661.5 471.2 L660.7 470.6 L659.8 470.1 L659 469.7 L658.3 469.4 L657.6 469.4 L656.9 469.4 L656.4 469.6 L656 470 L655.6 470.4 L655.4 471" stroke="#6e6e6e" stroke-width="0.9" fill="none"/><path d="M652.8 477.9 L652.8 477.6 L652.8 477.3 L652.9 477.1 L652.9 476.8 L653 476.6 L653.1 476.5 L653.3 476.3 L653.4 476.2 L658.4 472.8 L658.6 472.8 L658.8 472.7 L659 472.6 L659.2 472.6 L659.4 472.6 L659.7 472.7 L659.9 472.8 L660.2 472.9 L660.5 473 L660.8 473.1 L661 473.3 L661.3 473.5 L661.6 473.7 L661.9 474 L662.2 474.2 L662.5 474.5 L662.8 474.8 L663.1 475.1 L663.4 475.5 L663.7 475.8 L664 476.2 L664.3 476.6 L664.5 477 L664.8 477.3 L665 477.7 L665.2 478.1 L665.4 478.5 L665.6 478.9 L665.8 479.3 L665.9 479.7 L666.1 480.1 L666.2 480.5 L666.3 480.8 L666.4 481.2 L666.4 481.5 L666.4 481.8 L666.4 482.1 L666.4 482.4 L666.4 482.7 L666.4 482.9 L666.3 483.1 L666.2 483.3 L666.1 483.5 L665.9 483.7 L665.8 483.8 L660.8 487.1 L660.6 487.2 L660.5 487.3 L660.2 487.3 L660 487.4 L659.8 487.3 L659.6 487.3 L659.3 487.2 L659 487.1 L658.8 487 L658.5 486.9 L658.2 486.7 L657.9 486.5 L657.6 486.3 L657.3 486 L657 485.8 L656.7 485.5 L656.4 485.2 L655.8 484.5 L655.5 484.1 L655.2 483.8 L655 483.4 L654.7 483 L654.5 482.6 L654.2 482.2 L654 481.9 L653.8 481.4 L653.6 481.1 L653.4 480.7 L653.3 480.3 L653.1 479.9 L653 479.5 L652.9 479.2 L652.9 478.8 L652.8 478.5 L652.8 478.1Z" fill="url(#bs5)"/><ellipse cx="620.6" cy="506.3" rx="6.6" ry="2.8" transform="rotate(56 620.6 506.3)" fill="#8a8a8a" stroke="#707070" stroke-width="0.8"/><path d="M642.9 570.4 L642.9 570.1 L642.9 569.9 L643 569.6 L643 569.4 L643.1 569.2 L643.3 569 L643.4 568.9 L643.5 568.8 L685.2 539.9 L685.4 539.8 L685.5 539.7 L685.7 539.7 L686 539.6 L686.2 539.7 L686.4 539.7 L686.7 539.8 L687 539.9 L687.2 540 L687.5 540.1 L687.8 540.3 L688.1 540.5 L688.4 540.7 L688.7 541 L689 541.2 L689.4 541.5 L689.6 541.8 L690 542.1 L690.2 542.5 L690.5 542.8 L690.8 543.1 L691.1 543.5 L691.4 543.9 L691.6 544.3 L691.9 544.7 L692.1 545.1 L692.3 545.5 L692.5 545.9 L692.6 546.2 L692.8 546.6 L692.9 547 L693.1 547.4 L693.2 547.7 L693.2 548.1 L693.3 548.4 L693.3 548.8 L693.4 549 L693.3 549.3 L693.3 549.6 L693.3 549.9 L693.2 550.1 L693.1 550.3 L693 550.4 L692.9 550.6 L692.7 550.7 L651.1 579.6 L650.9 579.7 L650.7 579.8 L650.5 579.8 L650.3 579.9 L650.1 579.8 L649.8 579.8 L649.5 579.7 L649.3 579.6 L649 579.5 L648.7 579.4 L648.4 579.2 L648.1 579 L647.8 578.8 L647.5 578.5 L647.2 578.3 L646.9 578 L646.6 577.7 L646.3 577.4 L646 577 L645.7 576.7 L645.4 576.3 L645.2 576 L644.9 575.6 L644.6 575.2 L644.4 574.8 L644.2 574.4 L644 574 L643.8 573.6 L643.6 573.2 L643.5 572.9 L643.3 572.5 L643.2 572.1 L643.1 571.8 L643 571.4 L643 571.1 L642.9 570.7Z" fill="url(#bs6)"/><path d="M682 539.4 L682 538.9 L682.1 538.5 L682.1 538.1 L682.3 537.8 L682.4 537.5 L682.6 537.2 L682.8 536.9 L683 536.8 L688.8 532.8 L689 532.6 L689.3 532.5 L689.6 532.4 L690 532.4 L690.4 532.4 L690.7 532.5 L691.1 532.6 L691.6 532.7 L692 532.9 L692.5 533.1 L692.9 533.4 L693.4 533.7 L693.9 534.1 L694.4 534.5 L694.8 534.9 L695.3 535.3 L695.8 535.8 L696.3 536.3 L696.8 536.8 L697.2 537.4 L697.6 537.9 L698.1 538.5 L698.5 539.1 L698.9 539.7 L699.3 540.3 L699.6 541 L700 541.6 L700.2 542.2 L700.5 542.8 L700.8 543.4 L701 544 L701.2 544.6 L701.3 545.2 L701.5 545.7 L701.5 546.2 L701.6 546.8 L701.6 547.2 L701.6 547.7 L701.6 548.1 L701.5 548.5 L701.4 548.8 L701.2 549.1 L701.1 549.4 L700.9 549.6 L700.6 549.8 L694.9 553.8 L694.6 554 L694.3 554.1 L694 554.2 L693.7 554.2 L693.3 554.2 L692.9 554.1 L692.5 554 L692.1 553.9 L691.6 553.7 L691.2 553.4 L690.7 553.2 L690.2 552.9 L689.8 552.5 L689.3 552.1 L688.8 551.7 L688.3 551.3 L687.8 550.8 L687.4 550.3 L686.9 549.8 L686.5 549.2 L686 548.7 L685.6 548.1 L685.2 547.5 L684.8 546.9 L684.4 546.3 L684 545.6 L683.7 545 L683.4 544.4 L683.1 543.8 L682.9 543.2 L682.7 542.6 L682.5 542 L682.3 541.4 L682.2 540.9 L682.1 540.4 L682 539.8Z" fill="url(#bh6)"/><ellipse cx="688.9" cy="545.3" rx="10.4" ry="4.4" transform="rotate(55.2 688.9 545.3)" fill="#cdcdcd"/><path d="M693.3 554.2 L693.9 554.2 L694.5 554 L695 553.7 L695.4 553.3 L695.7 552.8 L695.8 552.1 L695.9 551.3 L695.8 550.4 L695.7 549.4 L695.4 548.4 L695 547.3 L694.5 546.2 L693.9 545 L693.3 543.9 L692.5 542.8 L691.8 541.7 L690.9 540.7 L690.1 539.8 L689.2 538.9 L688.3 538.2 L687.4 537.6 L686.6 537.1 L685.8 536.7 L685 536.5 L684.3 536.4 L683.7 536.5 L683.1 536.7 L682.7 537 L682.4 537.5 L682.1 538.1" stroke="#6e6e6e" stroke-width="0.9" fill="none"/><path d="M679.6 545 L679.6 544.7 L679.7 544.4 L679.7 544.2 L679.8 543.9 L679.9 543.7 L680 543.6 L680.1 543.4 L680.3 543.3 L685.2 539.9 L685.4 539.8 L685.5 539.7 L685.7 539.7 L686 539.6 L686.2 539.7 L686.4 539.7 L686.7 539.8 L687 539.9 L687.2 540 L687.5 540.1 L687.8 540.3 L688.1 540.5 L688.4 540.7 L688.7 541 L689 541.2 L689.4 541.5 L689.6 541.8 L690 542.1 L690.2 542.5 L690.5 542.8 L690.8 543.1 L691.1 543.5 L691.4 543.9 L691.6 544.3 L691.9 544.7 L692.1 545.1 L692.3 545.5 L692.5 545.9 L692.6 546.2 L692.8 546.6 L692.9 547 L693.1 547.4 L693.2 547.7 L693.2 548.1 L693.3 548.4 L693.3 548.8 L693.4 549 L693.3 549.3 L693.3 549.6 L693.3 549.9 L693.2 550.1 L693.1 550.3 L693 550.4 L692.9 550.6 L692.7 550.7 L687.8 554.1 L687.6 554.2 L687.4 554.3 L687.2 554.3 L687 554.4 L686.8 554.4 L686.5 554.3 L686.3 554.2 L686 554.1 L685.7 554 L685.4 553.9 L685.1 553.7 L684.9 553.5 L684.5 553.3 L684.2 553 L683.9 552.8 L683.6 552.5 L683.3 552.2 L683 551.9 L682.7 551.6 L682.4 551.2 L682.1 550.9 L681.9 550.5 L681.6 550.1 L681.4 549.7 L681.1 549.3 L680.9 548.9 L680.7 548.5 L680.5 548.1 L680.3 547.8 L680.2 547.4 L680 547 L679.9 546.6 L679.8 546.3 L679.7 545.9 L679.7 545.6 L679.6 545.3Z" fill="url(#bs6)"/><ellipse cx="647.3" cy="574.2" rx="6.6" ry="2.8" transform="rotate(55.2 647.3 574.2)" fill="#8a8a8a" stroke="#707070" stroke-width="0.8"/><path d="M616 623.9 L616 623.6 L616 623.4 L616.1 623.2 L616.2 623 L616.3 622.8 L616.4 622.6 L616.5 622.5 L657.3 590.8 L657.5 590.7 L657.7 590.6 L657.9 590.5 L658.1 590.5 L658.3 590.5 L658.6 590.5 L658.8 590.6 L659.1 590.7 L659.4 590.8 L659.7 590.9 L660 591.1 L660.3 591.2 L660.6 591.5 L660.9 591.7 L661.2 591.9 L661.6 592.2 L661.9 592.5 L662.2 592.8 L662.5 593.1 L662.8 593.4 L663.1 593.8 L663.4 594.1 L663.7 594.5 L664 594.9 L664.2 595.2 L664.5 595.6 L664.7 596 L664.9 596.4 L665.1 596.8 L665.3 597.1 L665.5 597.5 L665.6 597.9 L665.7 598.2 L665.8 598.6 L665.9 598.9 L665.9 599.2 L666 599.5 L666 599.8 L666 600.1 L665.9 600.3 L665.9 600.5 L665.8 600.7 L665.7 600.9 L665.6 601.1 L665.4 601.2 L624.6 632.9 L624.5 633 L624.3 633.1 L624.1 633.1 L623.9 633.2 L623.7 633.2 L623.4 633.1 L623.1 633.1 L622.9 633 L622.6 632.9 L622.3 632.8 L622 632.6 L621.7 632.5 L621.4 632.2 L621 632 L620.7 631.8 L620.4 631.5 L620.1 631.2 L619.8 630.9 L619.5 630.6 L619.1 630.3 L618.9 629.9 L618.5 629.6 L618.3 629.2 L618 628.9 L617.7 628.5 L617.5 628.1 L617.3 627.7 L617 627.3 L616.9 627 L616.7 626.6 L616.5 626.2 L616.4 625.8 L616.3 625.5 L616.2 625.1 L616.1 624.8 L616 624.5 L616 624.2Z" fill="url(#bs7)"/><path d="M654.1 590 L654.1 589.6 L654.2 589.2 L654.3 588.8 L654.4 588.5 L654.6 588.2 L654.8 588 L655 587.8 L660.5 583.5 L660.8 583.3 L661.1 583.2 L661.4 583.1 L661.7 583.1 L662.1 583.1 L662.5 583.1 L662.9 583.2 L663.3 583.3 L663.8 583.5 L664.2 583.7 L664.7 583.9 L665.2 584.2 L665.7 584.5 L666.2 584.9 L666.7 585.3 L667.2 585.7 L667.7 586.1 L668.2 586.6 L668.7 587.1 L669.2 587.6 L669.7 588.2 L670.1 588.7 L670.6 589.3 L671 589.9 L671.4 590.5 L671.8 591.1 L672.1 591.7 L672.5 592.3 L672.8 592.9 L673.1 593.5 L673.3 594.1 L673.5 594.6 L673.7 595.2 L673.9 595.7 L674 596.3 L674.1 596.8 L674.1 597.2 L674.2 597.7 L674.1 598.1 L674.1 598.5 L674 598.9 L673.9 599.2 L673.7 599.5 L673.5 599.7 L673.3 599.9 L667.8 604.2 L667.5 604.4 L667.2 604.5 L666.9 604.6 L666.6 604.6 L666.2 604.6 L665.8 604.6 L665.4 604.5 L665 604.4 L664.5 604.2 L664 604 L663.6 603.8 L663.1 603.5 L662.6 603.2 L662.1 602.8 L661.6 602.4 L661.1 602 L660.6 601.6 L660.1 601.1 L659.6 600.6 L659.1 600.1 L658.6 599.5 L658.1 599 L657.7 598.4 L657.3 597.8 L656.9 597.2 L656.5 596.6 L656.1 596 L655.8 595.4 L655.5 594.8 L655.2 594.2 L655 593.6 L654.7 593 L654.5 592.5 L654.4 592 L654.3 591.4 L654.2 590.9 L654.1 590.5Z" fill="url(#bh7)"/><ellipse cx="661.4" cy="596" rx="10.4" ry="4.4" transform="rotate(52.1 661.4 596)" fill="#cdcdcd"/><path d="M666.2 604.6 L666.8 604.6 L667.4 604.4 L667.9 604.1 L668.2 603.7 L668.5 603.1 L668.6 602.4 L668.6 601.6 L668.5 600.7 L668.3 599.8 L668 598.7 L667.5 597.7 L667 596.6 L666.3 595.5 L665.6 594.4 L664.8 593.3 L664 592.3 L663.1 591.3 L662.2 590.4 L661.3 589.6 L660.3 588.9 L659.4 588.4 L658.5 587.9 L657.7 587.6 L656.9 587.4 L656.2 587.4 L655.6 587.5 L655.1 587.7 L654.7 588.1 L654.4 588.6 L654.2 589.2" stroke="#6e6e6e" stroke-width="0.9" fill="none"/><path d="M652 595.9 L652 595.6 L652.1 595.4 L652.1 595.1 L652.2 594.9 L652.3 594.8 L652.4 594.6 L652.6 594.5 L657.3 590.8 L657.5 590.7 L657.7 590.6 L657.9 590.5 L658.1 590.5 L658.3 590.5 L658.6 590.5 L658.8 590.6 L659.1 590.7 L659.4 590.8 L659.7 590.9 L660 591.1 L660.3 591.2 L660.6 591.5 L660.9 591.7 L661.2 591.9 L661.6 592.2 L661.9 592.5 L662.2 592.8 L662.5 593.1 L662.8 593.4 L663.1 593.8 L663.4 594.1 L663.7 594.5 L664 594.9 L664.2 595.2 L664.5 595.6 L664.7 596 L664.9 596.4 L665.1 596.8 L665.3 597.1 L665.5 597.5 L665.6 597.9 L665.7 598.2 L665.8 598.6 L665.9 598.9 L665.9 599.2 L666 599.5 L666 599.8 L666 600.1 L665.9 600.3 L665.9 600.5 L665.8 600.7 L665.7 600.9 L665.6 601.1 L665.4 601.2 L660.7 604.9 L660.5 605 L660.3 605.1 L660.1 605.1 L659.9 605.2 L659.7 605.2 L659.5 605.1 L659.2 605.1 L658.9 605 L658.6 604.9 L658.3 604.8 L658 604.6 L657.7 604.4 L657.4 604.2 L657.1 604 L656.8 603.8 L656.5 603.5 L656.1 603.2 L655.8 602.9 L655.5 602.6 L654.9 601.9 L654.6 601.6 L654.3 601.2 L654 600.8 L653.8 600.5 L653.5 600.1 L653.3 599.7 L653.1 599.3 L652.9 598.9 L652.7 598.5 L652.6 598.2 L652.4 597.8 L652.3 597.5 L652.2 597.1 L652.1 596.8 L652.1 596.5 L652 596.2Z" fill="url(#bs7)"/><ellipse cx="620.6" cy="627.7" rx="6.6" ry="2.8" transform="rotate(52.1 620.6 627.7)" fill="#8a8a8a" stroke="#707070" stroke-width="0.8"/><path d="M642.8 617.6 L642.8 617.3 L642.8 617.1 L642.9 616.9 L643 616.7 L643.1 616.5 L643.2 616.3 L643.4 616.2 L686.1 584.4 L686.3 584.3 L686.5 584.2 L686.7 584.1 L686.9 584.1 L687.1 584.1 L687.4 584.2 L687.6 584.2 L687.9 584.3 L688.2 584.4 L688.5 584.6 L688.8 584.7 L689.1 584.9 L689.4 585.1 L689.7 585.3 L690 585.6 L690.4 585.9 L690.7 586.2 L691 586.5 L691.3 586.8 L691.6 587.1 L691.9 587.5 L692.2 587.8 L692.4 588.2 L692.7 588.6 L693 589 L693.2 589.4 L693.4 589.7 L693.6 590.1 L693.8 590.5 L694 590.9 L694.1 591.3 L694.3 591.6 L694.4 592 L694.5 592.3 L694.5 592.7 L694.6 593 L694.6 593.3 L694.6 593.6 L694.6 593.8 L694.5 594.1 L694.5 594.3 L694.4 594.5 L694.3 594.7 L694.2 594.9 L694 595 L651.2 626.8 L651.1 626.9 L650.9 627 L650.7 627 L650.5 627 L650.2 627 L650 627 L649.7 627 L649.5 626.9 L649.2 626.8 L648.9 626.6 L648.6 626.5 L648.3 626.3 L648 626.1 L647.7 625.8 L647.3 625.6 L647 625.3 L646.7 625 L646.4 624.7 L646.1 624.4 L645.8 624 L645.5 623.7 L645.2 623.3 L644.9 623 L644.7 622.6 L644.4 622.2 L644.2 621.8 L644 621.4 L643.8 621 L643.6 620.7 L643.4 620.3 L643.2 619.9 L643.1 619.5 L643 619.2 L642.9 618.8 L642.9 618.5 L642.8 618.2 L642.8 617.9Z" fill="url(#bs8)"/><path d="M683 583.5 L683 583.1 L683 582.7 L683.1 582.4 L683.3 582.1 L683.5 581.8 L683.6 581.5 L683.9 581.3 L689.5 577.2 L689.8 577 L690 576.9 L690.4 576.8 L690.7 576.8 L691.1 576.8 L691.5 576.8 L691.9 576.9 L692.3 577 L692.7 577.2 L693.2 577.4 L693.7 577.7 L694.1 578 L694.6 578.3 L695.1 578.7 L695.6 579.1 L696.1 579.5 L696.6 580 L697.1 580.4 L697.6 581 L698.1 581.5 L698.5 582 L699 582.6 L699.4 583.2 L699.8 583.8 L700.2 584.4 L700.6 585 L701 585.6 L701.3 586.2 L701.6 586.8 L701.8 587.4 L702.1 588 L702.3 588.6 L702.5 589.1 L702.6 589.7 L702.7 590.2 L702.8 590.7 L702.8 591.2 L702.8 591.6 L702.8 592.1 L702.7 592.5 L702.6 592.8 L702.5 593.1 L702.3 593.4 L702.1 593.6 L701.9 593.8 L696.3 598 L696 598.2 L695.7 598.3 L695.4 598.4 L695.1 598.4 L694.7 598.4 L694.3 598.4 L693.9 598.3 L693.5 598.1 L693 598 L692.6 597.8 L692.1 597.5 L691.6 597.2 L691.1 596.9 L690.6 596.5 L690.1 596.1 L689.6 595.7 L689.2 595.2 L688.7 594.7 L688.2 594.2 L687.7 593.7 L687.2 593.1 L686.8 592.6 L686.4 592 L686 591.4 L685.5 590.8 L685.2 590.2 L684.8 589.6 L684.5 589 L684.2 588.4 L683.9 587.8 L683.7 587.2 L683.5 586.6 L683.3 586 L683.2 585.5 L683.1 585 L683 584.5 L683 584Z" fill="url(#bh8)"/><ellipse cx="690.1" cy="589.7" rx="10.4" ry="4.4" transform="rotate(53.4 690.1 589.7)" fill="#cdcdcd"/><path d="M694.7 598.4 L695.4 598.4 L695.9 598.2 L696.4 597.9 L696.8 597.5 L697 596.9 L697.2 596.2 L697.2 595.4 L697.1 594.6 L696.9 593.6 L696.6 592.6 L696.2 591.5 L695.7 590.4 L695 589.3 L694.4 588.2 L693.6 587.1 L692.8 586 L691.9 585 L691 584.1 L690.1 583.3 L689.2 582.6 L688.3 582 L687.4 581.5 L686.6 581.2 L685.8 581 L685.1 580.9 L684.5 581 L684 581.2 L683.6 581.6 L683.3 582.1 L683.1 582.7" stroke="#6e6e6e" stroke-width="0.9" fill="none"/><path d="M680.8 589.4 L680.8 589.1 L680.8 588.9 L680.9 588.6 L681 588.4 L681.1 588.2 L681.2 588.1 L681.3 588 L686.1 584.4 L686.3 584.3 L686.5 584.2 L686.7 584.1 L686.9 584.1 L687.1 584.1 L687.4 584.2 L687.6 584.2 L687.9 584.3 L688.2 584.4 L688.5 584.6 L688.8 584.7 L689.1 584.9 L689.4 585.1 L689.7 585.3 L690 585.6 L690.4 585.9 L690.7 586.2 L691 586.5 L691.3 586.8 L691.6 587.1 L691.9 587.5 L692.2 587.8 L692.4 588.2 L692.7 588.6 L693 589 L693.2 589.4 L693.4 589.7 L693.6 590.1 L693.8 590.5 L694 590.9 L694.1 591.3 L694.3 591.6 L694.4 592 L694.5 592.3 L694.5 592.7 L694.6 593 L694.6 593.3 L694.6 593.6 L694.6 593.8 L694.5 594.1 L694.5 594.3 L694.4 594.5 L694.3 594.7 L694.2 594.9 L694 595 L689.2 598.5 L689 598.7 L688.9 598.7 L688.7 598.8 L688.4 598.8 L688.2 598.8 L688 598.8 L687.7 598.7 L687.4 598.6 L687.1 598.5 L686.9 598.4 L686.6 598.2 L686.2 598 L685.9 597.8 L685.6 597.6 L685.3 597.3 L685 597.1 L684.7 596.8 L684.4 596.5 L684.1 596.1 L683.8 595.8 L683.5 595.5 L683.2 595.1 L682.9 594.7 L682.4 594 L682.2 593.6 L681.9 593.2 L681.7 592.8 L681.5 592.4 L681.4 592 L681.2 591.7 L681.1 591.3 L681 590.9 L680.9 590.6 L680.8 590.3 L680.8 590 L680.8 589.6Z" fill="url(#bs8)"/><ellipse cx="647.3" cy="621.5" rx="6.6" ry="2.8" transform="rotate(53.4 647.3 621.5)" fill="#8a8a8a" stroke="#707070" stroke-width="0.8"/></g><g id="bbear"><path d="M684.6 390.1 L684.6 387.9 L684.8 385.8 L685.2 383.9 L685.7 382.2 L686.4 380.8 L687.2 379.5 L688.2 378.4 L689.3 377.6 L712.9 363.5 L714.1 362.9 L715.5 362.5 L717 362.4 L718.6 362.5 L720.3 362.8 L722.2 363.4 L724.1 364.2 L726.1 365.2 L728.2 366.5 L730.3 367.9 L732.5 369.6 L734.8 371.4 L737 373.5 L739.3 375.8 L741.6 378.1 L743.9 380.7 L746.2 383.4 L748.4 386.3 L750.6 389.2 L752.8 392.3 L754.9 395.4 L757 398.6 L759 401.9 L760.8 405.2 L762.6 408.6 L764.3 411.9 L765.9 415.3 L767.3 418.6 L768.6 421.9 L769.8 425.1 L770.9 428.3 L771.8 431.4 L772.5 434.3 L773.1 437.2 L773.6 439.9 L773.9 442.5 L774 444.9 L773.9 447.1 L773.7 449.2 L773.4 451.1 L772.9 452.8 L772.2 454.3 L771.4 455.5 L770.4 456.6 L769.3 457.4 L745.7 471.6 L744.5 472.2 L743.1 472.5 L741.6 472.7 L740 472.6 L738.2 472.2 L736.4 471.6 L734.5 470.8 L732.5 469.8 L730.4 468.6 L728.2 467.1 L726.1 465.4 L723.8 463.6 L721.5 461.5 L719.3 459.3 L717 456.9 L714.7 454.3 L712.4 451.6 L710.1 448.8 L707.9 445.8 L705.8 442.8 L703.6 439.6 L701.6 436.4 L699.6 433.1 L697.7 429.8 L696 426.4 L694.3 423.1 L692.7 419.8 L691.2 416.4 L689.9 413.1 L688.7 409.9 L687.7 406.8 L686.8 403.7 L686 400.7 L685.5 397.9 L685 395.1 L684.7 392.6Z" fill="url(#bco)"/><path d="M765.9 458.5 L767.4 458.2 L768.7 457.7 L769.9 457 L770.9 456.1 L771.8 454.9 L772.5 453.6 L773.1 452 L773.6 450.2 L773.9 448.2 L774 446 L773.9 443.7 L773.7 441.2 L773.4 438.5 L772.8 435.8 L772.2 432.8 L771.3 429.8 L770.4 426.7 L769.3 423.5 L768 420.3 L766.6 417 L765.1 413.6 L763.5 410.3 L761.7 406.9 L759.9 403.6 L758 400.3 L756 397 L753.9 393.8 L751.7 390.7 L749.5 387.7 L747.3 384.8 L745 382 L742.8 379.4 L740.5 376.9 L738.2 374.6 L735.9 372.5 L733.6 370.5 L731.4 368.7 L729.2 367.2 L727.1 365.8 L725.1 364.7" stroke="#a0a0a0" stroke-width="0.7" fill="none"/><ellipse cx="717.5" cy="424.6" rx="54.8" ry="19.7" transform="rotate(59 717.5 424.6)" fill="#9a9a9a"/><ellipse cx="717.5" cy="424.6" rx="48.3" ry="17.4" transform="rotate(59 717.5 424.6)" fill="url(#bci)"/><ellipse cx="717.5" cy="424.6" rx="48.3" ry="17.4" transform="rotate(59 717.5 424.6)" fill="url(#bcx)"/><path d="M742.4 466 L743.5 465.2 L744.4 464.1 L745.2 462.8 L745.8 461.2 L746.2 459.4 L746.4 457.4 L746.5 455.2 L746.4 452.8 L746.1 450.3 L745.6 447.5 L745 444.7 L744.2 441.7 L743.2 438.6 L742.1 435.4 L740.8 432.2 L739.4 428.9 L737.8 425.6 L736.1 422.2 L734.3 418.9 L732.4 415.6 L730.4 412.4 L728.3 409.3 L726.2 406.2 L724 403.3 L721.8 400.5 L719.5 397.8 L717.2 395.3 L714.9 393 L712.7 390.9 L710.4 389 L708.3 387.3 L706.1 385.8 L704.1 384.6 L702.1 383.6 L700.2 382.9 L698.4 382.5 L696.8 382.3 L695.3 382.3 L693.9 382.6 L692.6 383.2" stroke="#666" stroke-width="1.3" fill="none"/><path d="M692.6 383.2 L691.5 384 L690.6 385.1 L689.8 386.4 L689.2 388 L688.8 389.8 L688.6 391.8 L688.5 394 L688.6 396.4 L688.9 398.9 L689.4 401.7 L690 404.5 L690.8 407.5 L691.8 410.6 L692.9 413.8 L694.2 417 L695.6 420.3 L697.2 423.6 L698.9 427 L700.7 430.3 L702.6 433.6 L704.6 436.8 L706.7 439.9 L708.8 443 L711 445.9 L713.2 448.7 L715.5 451.4 L717.8 453.9 L720.1 456.2 L722.3 458.3 L724.6 460.2 L726.7 461.9 L728.9 463.4 L730.9 464.6 L732.9 465.6 L734.8 466.3 L736.6 466.7 L738.2 466.9 L739.7 466.9 L741.1 466.6 L742.4 466" stroke="#8a8a8a" stroke-width="0.7" fill="none"/><line x1="735.1" y1="429.1" x2="729.9" y2="427.8" stroke="#777" stroke-width="1"/><line x1="732.9" y1="424.5" x2="728.4" y2="424.5" stroke="#777" stroke-width="1"/><line x1="730.5" y1="419.9" x2="726.6" y2="421.3" stroke="#777" stroke-width="1"/><line x1="727.7" y1="415.4" x2="724.7" y2="418.1" stroke="#777" stroke-width="1"/><line x1="724.8" y1="411.1" x2="722.7" y2="415" stroke="#777" stroke-width="1"/><line x1="721.8" y1="407" x2="720.5" y2="412.2" stroke="#777" stroke-width="1"/><line x1="718.7" y1="403.3" x2="718.3" y2="409.6" stroke="#777" stroke-width="1"/><path d="M735 449 q4 -3 6 1 q2 5 -2 8 q-5 2 -6 -3 z" fill="#555"/><path d="M797.7 319.1 L797.9 317.2 L798.2 315.4 L798.6 313.9 L799.2 312.5 L799.9 311.3 L800.8 310.3 L801.8 309.5 L806.9 306.2 L808 305.6 L809.3 305.2 L810.7 305 L812.2 305 L813.8 305.3 L815.5 305.7 L817.3 306.4 L819.2 307.2 L821.2 308.3 L823.2 309.5 L825.3 310.9 L827.4 312.6 L829.5 314.3 L831.7 316.3 L833.9 318.4 L836.1 320.6 L838.3 323 L840.4 325.5 L842.5 328.1 L844.6 330.8 L846.6 333.6 L848.6 336.5 L850.5 339.4 L852.3 342.4 L854 345.4 L855.7 348.4 L857.2 351.4 L858.6 354.4 L859.9 357.3 L861.1 360.2 L862.1 363.1 L863 365.8 L863.8 368.5 L864.4 371.1 L864.8 373.6 L865.1 375.9 L865.3 378.2 L865.3 380.2 L865.2 382.1 L864.9 383.9 L864.4 385.5 L863.8 386.9 L863.1 388.1 L862.2 389.1 L861.2 389.9 L856.2 393.1 L855 393.7 L853.7 394.1 L852.3 394.3 L850.8 394.3 L849.2 394.1 L847.5 393.6 L845.7 393 L843.8 392.1 L841.8 391.1 L839.8 389.8 L837.8 388.4 L835.6 386.8 L833.5 385 L831.3 383.1 L829.1 380.9 L826.9 378.7 L824.8 376.3 L822.6 373.8 L820.5 371.2 L818.4 368.5 L816.4 365.7 L814.4 362.8 L812.5 359.9 L810.7 357 L809 354 L807.4 351 L805.8 348 L804.4 345 L803.1 342 L802 339.1 L800.9 336.3 L800 333.5 L799.3 330.8 L798.7 328.2 L798.2 325.7 L797.9 323.4 L797.7 321.2Z" fill="url(#bnb)"/><path d="M782.1 336 L782.2 334.3 L782.5 332.8 L782.9 331.4 L783.5 330.2 L784.1 329.1 L798.4 309.2 L799.3 308.1 L800.4 307.3 L801.6 306.6 L803 306.2 L804.4 306 L806 306.1 L807.7 306.3 L809.5 306.8 L811.4 307.4 L813.4 308.3 L815.5 309.4 L817.6 310.7 L819.8 312.2 L822 313.9 L824.3 315.8 L826.6 317.9 L828.9 320.1 L831.2 322.4 L833.5 325 L835.7 327.6 L838 330.3 L840.1 333.2 L842.3 336.1 L844.4 339.1 L846.3 342.2 L848.2 345.3 L850.1 348.5 L851.8 351.6 L853.4 354.8 L854.9 357.9 L856.2 361.1 L857.5 364.1 L858.5 367.1 L859.5 370 L860.3 372.9 L860.9 375.6 L861.4 378.2 L861.8 380.7 L861.9 383 L861.9 385.2 L861.8 387.2 L861.5 389 L861 390.7 L860.4 392.2 L859.6 393.4 L858.7 394.5 L857.6 395.3 L856.4 396 L855 396.4 L831 401.4 L829.8 401.6 L828.5 401.6 L827 401.4 L825.5 401 L823.9 400.4 L822.3 399.7 L820.5 398.8 L818.8 397.7 L816.9 396.5 L815.1 395.1 L813.2 393.5 L811.3 391.9 L809.4 390 L807.5 388.1 L805.5 386 L803.7 383.8 L801.8 381.6 L800 379.2 L798.2 376.8 L796.5 374.2 L794.8 371.7 L793.3 369.1 L791.8 366.5 L790.3 363.9 L789 361.3 L787.8 358.7 L786.7 356.1 L785.7 353.5 L784.8 351.1 L784 348.6 L783.4 346.3 L782.8 344 L782.5 341.8 L782.2 339.8 L782.1 337.8Z" fill="#4a4a4a"/><path d="M825.7 401 L827.3 401.4 L828.8 401.6 L830.2 401.5 L831.5 401.3 L855.6 396.2 L854.1 396.5 L852.4 396.6 L850.6 396.4 L848.7 395.9Z" fill="url(#bnr0)"/><path d="M832.3 401 L833.4 400.4 L834.3 399.6 L835.1 398.6 L835.8 397.3 L860.6 391.6 L859.9 393 L858.9 394.2 L857.8 395.2 L856.5 395.9Z" fill="url(#bnr1)"/><path d="M836.1 396.5 L836.6 395 L836.8 393.3 L836.9 391.4 L836.9 389.4 L861.9 382.1 L861.9 384.5 L861.8 386.7 L861.5 388.7 L861 390.5Z" fill="url(#bnr2)"/><path d="M836.8 388 L836.5 385.8 L836 383.4 L835.4 381 L834.7 378.4 L859.1 368.9 L860 372 L860.8 374.9 L861.3 377.8 L861.7 380.4Z" fill="url(#bnr3)"/><path d="M834.1 376.7 L833.2 374 L832.1 371.3 L830.8 368.5 L829.5 365.7 L852.8 353.5 L854.4 356.9 L855.9 360.3 L857.3 363.6 L858.4 366.8Z" fill="url(#bnr4)"/><path d="M828.5 363.8 L827 361 L825.4 358.2 L823.6 355.5 L821.8 352.7 L843.5 337.9 L845.7 341.2 L847.8 344.6 L849.8 347.9 L851.6 351.3Z" fill="url(#bnr5)"/><path d="M820.6 351 L818.7 348.4 L816.7 345.9 L814.7 343.5 L812.7 341.2 L832.5 323.9 L835 326.7 L837.4 329.6 L839.8 332.7 L842.1 335.8Z" fill="url(#bnr6)"/><path d="M811.4 339.7 L809.3 337.6 L807.2 335.7 L805.2 333.9 L803.2 332.3 L821.1 313.2 L823.5 315.2 L826 317.3 L828.5 319.7 L830.9 322.2Z" fill="url(#bnr7)"/><path d="M801.9 331.4 L799.9 330.1 L798 329 L796.2 328 L794.4 327.3 L810.7 307.1 L812.8 308 L815 309.1 L817.2 310.5 L819.6 312.1Z" fill="url(#bnr8)"/><path d="M793.3 327 L791.7 326.6 L790.2 326.4 L788.8 326.5 L787.5 326.7 L802.4 306.4 L803.9 306.1 L805.6 306 L807.4 306.2 L809.3 306.7Z" fill="url(#bnr9)"/><path d="M786.7 327 L785.6 327.6 L784.7 328.4 L783.9 329.4 L783.2 330.7 L797.4 311 L798.1 309.6 L799.1 308.4 L800.2 307.4 L801.5 306.7Z" fill="url(#bnr10)"/><path d="M782.9 331.5 L782.4 333 L782.2 334.7 L782.1 336.6 L782.1 338.6 L796.1 320.5 L796.1 318.1 L796.2 315.9 L796.5 313.9 L797 312.1Z" fill="url(#bnr11)"/><ellipse cx="809.6" cy="364.6" rx="40.5" ry="14.3" transform="rotate(56.5 809.6 364.6)" fill="#858585"/><circle cx="791.1" cy="329.9" r="3.6" fill="#858585"/><circle cx="787.5" cy="330.7" r="3.6" fill="#858585"/><circle cx="785.1" cy="333.5" r="3.6" fill="#858585"/><circle cx="784.3" cy="338.1" r="3.6" fill="#858585"/><circle cx="784.9" cy="344.3" r="3.6" fill="#858585"/><circle cx="787" cy="351.7" r="3.6" fill="#858585"/><circle cx="790.5" cy="359.9" r="3.6" fill="#858585"/><circle cx="795" cy="368.3" r="3.6" fill="#858585"/><circle cx="800.5" cy="376.5" r="3.6" fill="#858585"/><circle cx="806.5" cy="384.1" r="3.6" fill="#858585"/><circle cx="812.7" cy="390.4" r="3.6" fill="#858585"/><circle cx="818.6" cy="395.3" r="3.6" fill="#858585"/><circle cx="824.1" cy="398.3" r="3.6" fill="#858585"/><circle cx="828.7" cy="399.3" r="3.6" fill="#858585"/><circle cx="832.2" cy="398.2" r="3.6" fill="#858585"/><circle cx="834.3" cy="395.2" r="3.6" fill="#858585"/><path d="M830.8 398.9 L832.2 398.2 L833.3 397 L834.2 395.5 L834.7 393.5 L834.9 391.2 L834.8 388.6 L834.4 385.7 L833.8 382.6 L832.8 379.2 L831.5 375.6 L829.9 371.9 L828.2 368.1 L826.1 364.3 L823.9 360.5 L821.5 356.7 L819 353 L816.3 349.5 L813.6 346.1 L810.8 343 L808 340.2 L805.2 337.6 L802.5 335.4 L799.9 333.5 L797.3 332 L795 330.9 L792.8 330.2 L790.8 329.9 L789 330.1 L787.5 330.7 L786.3 331.6" stroke="#444" stroke-width="1.2" fill="none"/><ellipse cx="809" cy="361.8" rx="26" ry="8.8" transform="rotate(56.5 809 361.8)" fill="#9c9c9c"/><ellipse cx="809" cy="361.8" rx="20" ry="6.8" transform="rotate(56.5 809 361.8)" fill="url(#bno)"/></g><g id="cover"><path d="M951.6 346.2 L952.7 345.4 L953.6 344.2 L954.3 342.9 L954.8 341.2 L955.1 339.3 L955.3 337.2 L955.2 334.8 L955 332.2 L954.6 329.3 L954 326.3 L953.2 323.1 L952.2 319.7 L951.1 316.2 L949.8 312.5 L948.3 308.8 L946.7 304.9 L944.9 300.9 L943 296.9 L941 292.9 L938.8 288.8 L936.6 284.7 L934.2 280.6 L931.8 276.6 L929.3 272.7 L926.7 268.8 L924 265 L921.4 261.3 L918.7 257.8 L916 254.4 L913.3 251.2 L910.6 248.1 L908 245.3 L905.4 242.7 L902.8 240.2 L900.3 238.1 L897.9 236.1 L895.6 234.5 L893.4 233.1 L891.3 231.9 L889.3 231.1 L887.5 230.5 L885.8 230.2 L884.2 230.2 L882.8 230.5 L881.6 231 L880.5 231.8 L879.6 233 L878.9 234.3 L878.4 236 L878.1 237.9 L877.9 240 L878 242.4 L878.2 245 L878.6 247.9 L879.2 250.9 L880 254.1 L881 257.5 L882.1 261 L883.4 264.7 L884.9 268.4 L886.5 272.3 L888.3 276.3 L890.2 280.3 L892.2 284.3 L894.4 288.4 L896.6 292.5 L899 296.6 L901.4 300.6 L903.9 304.5 L906.5 308.4 L909.2 312.2 L911.8 315.9 L914.5 319.4 L917.2 322.8 L919.9 326 L922.6 329.1 L925.2 331.9 L927.8 334.5 L930.4 337 L932.9 339.1 L935.3 341.1 L937.6 342.7 L939.8 344.1 L941.9 345.3 L943.9 346.1 L945.7 346.7 L947.4 347 L949 347 L950.4 346.7 L951.6 346.2Z M948.7 341 L949.5 340.3 L950.2 339.4 L950.7 338.2 L951 336.8 L951.2 335.1 L951.2 333.2 L951.1 331.1 L950.7 328.8 L950.2 326.3 L949.6 323.6 L948.8 320.8 L947.8 317.7 L946.7 314.6 L945.4 311.3 L944 307.9 L942.5 304.4 L940.8 300.8 L939 297.2 L937.1 293.5 L935.1 289.8 L933.1 286.1 L930.9 282.4 L928.7 278.8 L926.4 275.2 L924.1 271.6 L921.7 268.1 L919.3 264.8 L916.9 261.5 L914.5 258.4 L912.1 255.4 L909.7 252.6 L907.4 250 L905.1 247.5 L902.9 245.3 L900.7 243.2 L898.6 241.4 L896.6 239.8 L894.7 238.5 L892.9 237.4 L891.3 236.5 L889.7 235.9 L888.3 235.5 L887 235.4 L885.9 235.6 L884.9 236 L884.1 236.7 L883.4 237.6 L882.9 238.8 L882.6 240.2 L882.4 241.9 L882.4 243.8 L882.5 245.9 L882.9 248.2 L883.4 250.7 L884 253.4 L884.8 256.2 L885.8 259.3 L886.9 262.4 L888.2 265.7 L889.6 269.1 L891.1 272.6 L892.8 276.2 L894.6 279.8 L896.5 283.5 L898.5 287.2 L900.5 290.9 L902.7 294.6 L904.9 298.2 L907.2 301.8 L909.5 305.4 L911.9 308.9 L914.3 312.2 L916.7 315.5 L919.1 318.6 L921.5 321.6 L923.9 324.4 L926.2 327 L928.5 329.5 L930.7 331.7 L932.9 333.8 L935 335.6 L937 337.2 L938.9 338.5 L940.7 339.6 L942.3 340.5 L943.9 341.1 L945.3 341.5 L946.6 341.6 L947.7 341.4 L948.7 341Z" fill="#424242" fill-rule="evenodd"/><circle cx="951" cy="343.7" r="2.9" fill="#424242"/><ellipse cx="951" cy="343.7" rx="2" ry="1.2" transform="rotate(58 951 343.7)" fill="#f4f4f4"/><circle cx="946" cy="306.5" r="2.9" fill="#424242"/><ellipse cx="946" cy="306.5" rx="2" ry="1.2" transform="rotate(58 946 306.5)" fill="#f4f4f4"/><circle cx="914.3" cy="254.3" r="2.9" fill="#424242"/><ellipse cx="914.3" cy="254.3" rx="2" ry="1.2" transform="rotate(58 914.3 254.3)" fill="#f4f4f4"/><circle cx="882.4" cy="233.4" r="2.9" fill="#424242"/><ellipse cx="882.4" cy="233.4" rx="2" ry="1.2" transform="rotate(58 882.4 233.4)" fill="#f4f4f4"/><circle cx="887.4" cy="270.6" r="2.9" fill="#424242"/><ellipse cx="887.4" cy="270.6" rx="2" ry="1.2" transform="rotate(58 887.4 270.6)" fill="#f4f4f4"/><circle cx="919.1" cy="322.8" r="2.9" fill="#424242"/><ellipse cx="919.1" cy="322.8" rx="2" ry="1.2" transform="rotate(58 919.1 322.8)" fill="#f4f4f4"/><path d="M951.8 193 L951.9 190.2 L952.2 187.6 L952.7 185.2 L953.4 183.1 L954.3 181.3 L955.4 179.7 L956.6 178.4 L958 177.4 L968.3 172.1 L969.9 171.4 L971.6 170.9 L973.5 170.8 L975.6 170.9 L977.8 171.4 L980 172.1 L982.4 173.1 L984.9 174.4 L987.5 176 L990.2 177.8 L992.9 180 L995.6 182.3 L998.4 184.9 L1001.2 187.7 L1004 190.7 L1006.9 193.9 L1009.6 197.3 L1012.4 200.9 L1015.1 204.6 L1017.7 208.5 L1020.3 212.4 L1022.8 216.4 L1025.1 220.6 L1027.4 224.7 L1029.5 228.9 L1031.5 233.1 L1033.4 237.3 L1035.1 241.5 L1036.7 245.6 L1038 249.6 L1039.3 253.6 L1040.3 257.4 L1041.1 261.1 L1041.8 264.7 L1042.3 268.1 L1042.5 271.3 L1042.6 274.3 L1042.5 277.1 L1042.2 279.7 L1041.7 282.1 L1041 284.2 L1040.1 286 L1039 287.6 L1037.7 288.9 L1036.3 289.9 L1026.5 296 L1025 296.8 L1023.2 297.2 L1021.3 297.3 L1019.3 297.2 L1017.1 296.7 L1014.8 296 L1012.4 294.9 L1009.9 293.6 L1007.3 292 L1004.6 290.2 L1001.9 288.1 L999.1 285.7 L996.3 283.1 L993.5 280.2 L990.7 277.2 L987.9 273.9 L985.1 270.5 L982.3 266.9 L979.6 263.2 L976.9 259.3 L974.4 255.3 L971.9 251.3 L969.5 247.1 L967.2 242.9 L965 238.7 L963 234.5 L961.1 230.3 L959.4 226.1 L957.8 221.9 L956.4 217.9 L955.2 213.9 L954.1 210 L953.3 206.3 L952.6 202.7 L952.1 199.3 L951.9 196.1Z" fill="url(#cvE)"/><ellipse cx="992.3" cy="236.7" rx="68.5" ry="25" transform="rotate(60 992.3 236.7)" fill="url(#cvF)"/><ellipse cx="992.3" cy="236.7" rx="68.5" ry="25" transform="rotate(60 992.3 236.7)" fill="url(#cvFx)"/><circle cx="1029" cy="285.2" r="1.3" fill="#f2f2f2"/><circle cx="1022.1" cy="244.6" r="1.3" fill="#f2f2f2"/><circle cx="988.7" cy="193.6" r="1.3" fill="#f2f2f2"/><circle cx="962.5" cy="180.8" r="1.3" fill="#f2f2f2"/><circle cx="957.8" cy="211.4" r="1.3" fill="#f2f2f2"/><circle cx="991.7" cy="273.7" r="1.3" fill="#f2f2f2"/><ellipse cx="994.7" cy="235" rx="57.9" ry="22.5" transform="rotate(57.5 994.7 235)" fill="#474747"/><ellipse cx="997.1" cy="233.7" rx="54.5" ry="18.2" transform="rotate(58 997.1 233.7)" fill="url(#cvI)"/><clipPath id="cvC"><ellipse cx="997.1" cy="233.7" rx="54.5" ry="18.2" transform="rotate(58 997.1 233.7)"/></clipPath><g clip-path="url(#cvC)"><path d="M973.3 189.6 L972.3 189.7 L971.4 189.9 L970.6 190.3 L969.9 190.9 L969.2 191.6 L968.7 192.4 L968.3 193.4 L967.9 194.5 L967.7 195.8 L967.5 197.2 L967.5 198.7 L967.6 200.3 L967.8 202 L968 203.8 L968.4 205.8 L968.9 207.8 L969.4 209.9 L970.1 212.1 L970.8 214.4 L971.7 216.7 L972.6 219.1 L973.6 221.6 L974.7 224.1 L975.9 226.6 L977.2 229.1 L978.5 231.7 L979.9 234.2 L981.3 236.8 L982.8 239.3 L984.4 241.9 L986 244.4 L987.6 246.8 L989.3 249.3 L991 251.6 L992.7 253.9 L994.4 256.2 L996.2 258.3 L997.9 260.4 L999.7 262.4 L1001.4 264.3 L1003.1 266.1 L1004.8 267.7 L1006.5 269.3 L1008.2 270.7 L1009.8 272 L1011.4 273.2 L1012.9 274.3 L1014.4 275.2 L1015.8 276 L1017.2 276.6 L1018.5 277.1 L1019.7 277.4 L1020.8 277.6 L1021.9 277.6 L1022.9 277.5 L1023.8 277.3 L1024.6 276.9 L1025.3 276.3 L1026 275.6 L1026.5 274.8" stroke="#474747" stroke-width="3.4" fill="none"/><ellipse cx="999.4" cy="232.7" rx="47.5" ry="14.2" transform="rotate(59 999.4 232.7)" fill="url(#cvW2)"/><ellipse cx="998.8" cy="235.9" rx="35.5" ry="11.6" transform="rotate(62 998.8 235.9)" fill="#fcfdfc"/></g></g><g id="small"><path d="M1139 86.9 L1139 85.2 L1139.2 83.6 L1139.5 82.3 L1140 81.1 L1140.6 80 L1141.3 79.2 L1142.1 78.5 L1148.9 74.5 L1149.9 74 L1150.9 73.7 L1152.1 73.7 L1153.4 73.8 L1154.8 74.2 L1156.2 74.7 L1157.8 75.4 L1159.4 76.3 L1161.1 77.4 L1162.8 78.7 L1164.7 80.1 L1166.5 81.7 L1168.4 83.5 L1170.3 85.4 L1172.2 87.5 L1174.1 89.6 L1176.1 91.9 L1178 94.3 L1179.9 96.9 L1181.7 99.5 L1183.5 102.1 L1185.3 104.8 L1187 107.6 L1188.7 110.4 L1190.2 113.2 L1191.7 116 L1193.1 118.9 L1194.4 121.6 L1195.6 124.4 L1196.7 127.1 L1197.7 129.7 L1198.5 132.3 L1199.3 134.8 L1199.9 137.1 L1200.4 139.4 L1200.7 141.5 L1200.9 143.6 L1201 145.4 L1201 147.1 L1200.8 148.7 L1200.5 150 L1200 151.2 L1199.4 152.3 L1198.7 153.1 L1197.9 153.8 L1191.1 157.8 L1190.1 158.3 L1189.1 158.6 L1187.9 158.6 L1186.6 158.5 L1185.2 158.2 L1183.8 157.6 L1182.2 156.9 L1180.6 156 L1178.9 154.9 L1177.2 153.6 L1175.3 152.2 L1173.5 150.6 L1171.6 148.8 L1169.7 146.9 L1167.8 144.8 L1165.9 142.7 L1163.9 140.4 L1162 137.9 L1160.1 135.4 L1158.3 132.8 L1156.5 130.2 L1154.7 127.5 L1153 124.7 L1151.3 121.9 L1149.8 119.1 L1148.3 116.3 L1146.9 113.4 L1145.6 110.7 L1144.4 107.9 L1143.3 105.2 L1142.3 102.6 L1141.5 100 L1140.7 97.5 L1140.1 95.2 L1139.6 92.9 L1139.3 90.8 L1139.1 88.8Z" fill="#3f3f3f"/><ellipse cx="1170.3" cy="116.2" rx="32" ry="8.7" transform="rotate(58.3 1170.3 116.2)" fill="#fcfdfc"/><path d="M1221 19.5 L1221.1 17.7 L1221.3 16.1 L1221.7 14.7 L1222.2 13.6 L1222.9 12.7 L1223.8 11.9 L1234.6 5.5 L1235.6 5 L1236.7 4.8 L1238 4.8 L1239.4 5.1 L1240.9 5.6 L1242.6 6.3 L1244.4 7.3 L1246.2 8.5 L1248.2 9.9 L1250.2 11.6 L1252.3 13.4 L1254.5 15.5 L1256.7 17.7 L1259 20.1 L1261.3 22.7 L1263.6 25.5 L1265.9 28.3 L1268.2 31.3 L1270.5 34.5 L1272.8 37.7 L1275.1 41 L1277.3 44.3 L1279.4 47.7 L1281.5 51.2 L1283.4 54.6 L1285.3 58.1 L1287.1 61.5 L1288.8 64.9 L1290.4 68.3 L1291.8 71.6 L1293.1 74.8 L1294.3 77.9 L1295.4 80.8 L1296.2 83.7 L1297 86.4 L1297.6 89 L1298 91.3 L1298.3 93.5 L1298.4 95.6 L1298.3 97.4 L1298.1 99 L1297.7 100.4 L1297.2 101.5 L1296.5 102.5 L1295.6 103.2 L1284.8 109.7 L1283.8 110.1 L1282.7 110.3 L1281.4 110.3 L1280 110 L1278.5 109.5 L1276.8 108.8 L1275 107.8 L1273.2 106.6 L1271.2 105.2 L1269.2 103.5 L1267.1 101.7 L1264.9 99.6 L1262.7 97.4 L1260.4 95 L1258.1 92.4 L1255.8 89.6 L1253.5 86.8 L1251.2 83.8 L1248.8 80.6 L1246.6 77.4 L1244.3 74.1 L1242.1 70.8 L1240 67.4 L1238 63.9 L1236 60.5 L1234.1 57 L1232.3 53.6 L1230.6 50.2 L1229 46.8 L1227.6 43.5 L1226.3 40.3 L1225.1 37.2 L1224 34.3 L1223.2 31.4 L1222.4 28.7 L1221.8 26.1 L1221.4 23.8 L1221.1 21.6Z" fill="url(#grO)"/><path d="M1292.9 103.8 L1293.9 103.8 L1294.8 103.5 L1295.7 103.1 L1296.4 102.5 L1297 101.8 L1297.5 100.9 L1297.9 99.8 L1298.2 98.5 L1298.3 97.1 L1298.4 95.6 L1298.3 93.9 L1298.1 92 L1297.8 90.1 L1297.4 88 L1296.8 85.7 L1296.2 83.4 L1295.4 81 L1294.5 78.5 L1293.6 75.9 L1292.5 73.2 L1291.3 70.4 L1290.1 67.6 L1288.7 64.8 L1287.3 61.9 L1285.8 59 L1284.2 56 L1282.5 53.1 L1280.8 50.1 L1279.1 47.2 L1277.3 44.3 L1275.4 41.5 L1273.5 38.7 L1271.6 35.9 L1269.6 33.2 L1267.7 30.6 L1265.7 28 L1263.7 25.6 L1261.8 23.3 L1259.8 21 L1257.9 18.9 L1255.9 16.9 L1254.1 15 L1252.2 13.3 L1250.4 11.7 L1248.7 10.3 L1247 9 L1245.4 7.9 L1243.8 7 L1242.3 6.2 L1240.9 5.6" stroke="#8e8e8e" stroke-width="0.7" fill="none"/><ellipse cx="1254.3" cy="60.8" rx="57.6" ry="15.6" transform="rotate(58 1254.3 60.8)" fill="url(#grI)"/><clipPath id="grC"><ellipse cx="1265.1" cy="54.3" rx="55.6" ry="15.1" transform="rotate(58 1265.1 54.3)"/></clipPath><g clip-path="url(#grC)"><ellipse cx="1254.3" cy="60.8" rx="55.6" ry="15.1" transform="rotate(58 1254.3 60.8)" fill="#fcfdfc"/></g><path d="M1282.5 108.5 L1283.5 108.1 L1284.3 107.5 L1285 106.8 L1285.6 105.8 L1286 104.6 L1286.2 103.2 L1286.4 101.7 L1286.4 100 L1286.2 98.1 L1286 96 L1285.5 93.8 L1285 91.4 L1284.3 88.9 L1283.4 86.3 L1282.5 83.5 L1281.4 80.7 L1280.2 77.8 L1278.9 74.8 L1277.5 71.7 L1276 68.6 L1274.3 65.5 L1272.6 62.3 L1270.8 59.1 L1269 56 L1267.1 52.8 L1265.1 49.7 L1263.1 46.7 L1261 43.7 L1258.9 40.7 L1256.8 37.9 L1254.7 35.2 L1252.5 32.6 L1250.4 30.1 L1248.3 27.7 L1246.2 25.5 L1244.2 23.4 L1242.2 21.5 L1240.2 19.8 L1238.4 18.3 L1236.6 16.9 L1234.8 15.8 L1233.2 14.8 L1231.6 14 L1230.2 13.5 L1228.8 13.1 L1227.6 13 L1226.5 13.1 L1225.5 13.3 L1224.6 13.8 L1223.8 14.5" stroke="#6a6a6a" stroke-width="0.9" fill="none"/><path d="M1065.3 114.6 L1078.5 106.2 L1075.5 101.4 L1062.3 109.8Z" fill="url(#sb0)"/><line x1="1067.3" y1="113.3" x2="1064.3" y2="108.5" stroke="#6a6a6a" stroke-width="0.6"/><line x1="1069.4" y1="112" x2="1066.3" y2="107.3" stroke="#6a6a6a" stroke-width="0.6"/><line x1="1071.4" y1="110.7" x2="1068.4" y2="106" stroke="#6a6a6a" stroke-width="0.6"/><line x1="1073.4" y1="109.4" x2="1070.4" y2="104.7" stroke="#6a6a6a" stroke-width="0.6"/><ellipse cx="1075.7" cy="104.6" rx="2.3" ry="4.4" transform="rotate(-32.5 1075.7 104.6)" fill="#c4c4c4" stroke="#7a7a7a" stroke-width="0.7"/><ellipse cx="1078.3" cy="103" rx="2.3" ry="4.4" transform="rotate(-32.5 1078.3 103)" fill="#e2e2e2" stroke="#7a7a7a" stroke-width="0.7"/><path d="M1097.6 131.3 L1110.2 122.9 L1107 118.3 L1094.4 126.7Z" fill="url(#sb1)"/><line x1="1099.6" y1="130" x2="1096.4" y2="125.3" stroke="#6a6a6a" stroke-width="0.6"/><line x1="1101.5" y1="128.7" x2="1098.4" y2="124" stroke="#6a6a6a" stroke-width="0.6"/><line x1="1103.5" y1="127.3" x2="1100.4" y2="122.7" stroke="#6a6a6a" stroke-width="0.6"/><line x1="1105.5" y1="126" x2="1102.4" y2="121.3" stroke="#6a6a6a" stroke-width="0.6"/><ellipse cx="1107.4" cy="121.4" rx="2.3" ry="4.4" transform="rotate(-33.7 1107.4 121.4)" fill="#c4c4c4" stroke="#7a7a7a" stroke-width="0.7"/><ellipse cx="1109.8" cy="119.8" rx="2.3" ry="4.4" transform="rotate(-33.7 1109.8 119.8)" fill="#e2e2e2" stroke="#7a7a7a" stroke-width="0.7"/><path d="M1129.3 185.8 L1142.2 177.3 L1139.2 172.7 L1126.3 181.2Z" fill="url(#sb2)"/><line x1="1131.3" y1="184.5" x2="1128.3" y2="179.8" stroke="#6a6a6a" stroke-width="0.6"/><line x1="1133.3" y1="183.2" x2="1130.3" y2="178.5" stroke="#6a6a6a" stroke-width="0.6"/><line x1="1135.4" y1="181.9" x2="1132.3" y2="177.2" stroke="#6a6a6a" stroke-width="0.6"/><line x1="1137.4" y1="180.6" x2="1134.3" y2="175.9" stroke="#6a6a6a" stroke-width="0.6"/><ellipse cx="1139.4" cy="175.8" rx="2.3" ry="4.4" transform="rotate(-33.4 1139.4 175.8)" fill="#c4c4c4" stroke="#7a7a7a" stroke-width="0.7"/><ellipse cx="1142" cy="174.2" rx="2.3" ry="4.4" transform="rotate(-33.4 1142 174.2)" fill="#e2e2e2" stroke="#7a7a7a" stroke-width="0.7"/><path d="M1129.3 222.1 L1141.5 214.2 L1138.5 209.4 L1126.3 217.3Z" fill="url(#sb3)"/><line x1="1131.3" y1="220.7" x2="1128.3" y2="216" stroke="#6a6a6a" stroke-width="0.6"/><line x1="1133.4" y1="219.4" x2="1130.3" y2="214.7" stroke="#6a6a6a" stroke-width="0.6"/><line x1="1135.4" y1="218.1" x2="1132.3" y2="213.4" stroke="#6a6a6a" stroke-width="0.6"/><line x1="1137.4" y1="216.8" x2="1134.3" y2="212.1" stroke="#6a6a6a" stroke-width="0.6"/><ellipse cx="1138.7" cy="212.6" rx="2.3" ry="4.4" transform="rotate(-32.9 1138.7 212.6)" fill="#c4c4c4" stroke="#7a7a7a" stroke-width="0.7"/><ellipse cx="1141.3" cy="211" rx="2.3" ry="4.4" transform="rotate(-32.9 1141.3 211)" fill="#e2e2e2" stroke="#7a7a7a" stroke-width="0.7"/><ellipse cx="1017.6" cy="143.9" rx="3.2" ry="1.6" transform="rotate(58 1017.6 143.9)" fill="none" stroke="#8a8a8a" stroke-width="1.1"/><ellipse cx="1049.3" cy="161.3" rx="3.2" ry="1.6" transform="rotate(58 1049.3 161.3)" fill="none" stroke="#8a8a8a" stroke-width="1.1"/><ellipse cx="1078" cy="217.4" rx="3.2" ry="1.6" transform="rotate(58 1078 217.4)" fill="none" stroke="#8a8a8a" stroke-width="1.1"/><ellipse cx="1081" cy="252" rx="3.2" ry="1.6" transform="rotate(58 1081 252)" fill="none" stroke="#8a8a8a" stroke-width="1.1"/><circle cx="1282.5" cy="14" r="1.2" fill="#555"/><circle cx="1285" cy="11.5" r="1.2" fill="#555"/><circle cx="1291" cy="8.5" r="1.2" fill="#555"/><circle cx="1294" cy="8" r="1.2" fill="#555"/><circle cx="1297" cy="7.5" r="1.2" fill="#555"/></g><g fill="none" stroke="#7c7c7c" stroke-opacity="0.8" stroke-width="1.15"><circle cx="352.5" cy="465.7" r="74.5"/><circle cx="352.5" cy="466.2" r="51.2"/><path d="M308.2 472.2 Q323.3 446.3 352.5 443.7 Q382.7 446.3 396.8 472.2 L390.3 491.7 Q377.3 469 352.5 467.9 Q327.6 469 315.8 491.7 Z"/><path d="M289.8 517.6 Q306 569.4 352.5 575.9 Q386 574.8 416.2 539.2"/><path d="M289.8 517.6 Q314.7 557.5 352.5 559.7 Q381.7 558.6 407.6 534.9"/></g><text transform="scale(1.18 1)" x="373.8 449.4 521.1 585.1 666.3 716.2 793.3" y="527" font-family="'Liberation Sans', sans-serif" font-size="152" fill="none" stroke="#7c7c7c" stroke-opacity="0.8" stroke-width="1.15" vector-effect="non-scaling-stroke">белагро</text><text x="460" y="566" font-family="'Liberation Sans', sans-serif" font-size="31" textLength="356" lengthAdjust="spacing" fill="#707070" fill-opacity="0.3" stroke="#707070" stroke-opacity="0.72" stroke-width="1">ГРУППА КОМПАНИЙ</text><g stroke="#3a3a3a" stroke-width="1.1" fill="none"><line x1="714.5" y1="848.8" x2="290" y2="848.8"/><line x1="714.5" y1="848.8" x2="357" y2="704"/><line x1="714.5" y1="848.8" x2="420" y2="668.5"/><line x1="714.5" y1="848.8" x2="582.6" y2="565"/><line x1="714.5" y1="848.8" x2="672.4" y2="609"/><line x1="714.5" y1="848.8" x2="723.5" y2="445"/><line x1="714.5" y1="848.8" x2="824" y2="397"/><line x1="1211.7" y1="399.6" x2="1030" y2="270"/><line x1="1211.7" y1="399.6" x2="1188.3" y2="158"/><line x1="1211.7" y1="399.6" x2="1237" y2="62"/><line x1="811.8" y1="183.5" x2="882.4" y2="229"/><line x1="1022.6" y1="72.6" x2="1072.9" y2="107"/><line x1="971.3" y1="107.1" x2="1017.5" y2="142.5"/></g><g font-family="'Liberation Serif', serif" font-size="27" fill="#333"><text x="720" y="859.5">1</text><text x="1219" y="402.2">2</text><text x="798.5" y="183.5">6</text><text x="1009.5" y="73">9</text><text x="945" y="106.7">10</text></g>
</svg></body></html>
